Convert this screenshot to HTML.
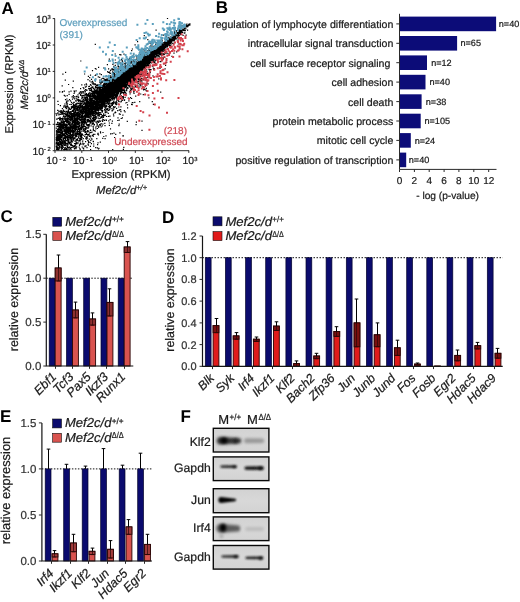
<!DOCTYPE html>
<html><head><meta charset="utf-8"><style>
html,body{margin:0;padding:0;background:#fff;width:520px;height:602px;overflow:hidden}
svg{display:block;font-family:"Liberation Sans",sans-serif;will-change:transform;text-rendering:geometricPrecision}
</style></head><body>
<svg width="520" height="602" viewBox="0 0 520 602">
<path d="M138.2 74.3h1.2M142.0 65.4h1.2M126.1 73.9h1.2M109.4 83.5h1.2M123.7 79.2h1.2M116.0 94.4h1.2M136.1 69.8h1.2M163.4 42.6h1.2M127.8 84.9h1.2M113.4 76.1h1.2M144.3 59.7h1.2M142.4 63.3h1.2M136.0 67.7h1.2M114.9 90.7h1.2M129.9 67.4h1.2M149.9 56.5h1.2M100.3 93.8h1.2M113.6 69.3h1.2M92.0 109.1h1.2M111.6 102.6h1.2M82.4 97.1h1.2M128.5 74.7h1.2M110.2 100.3h1.2M138.4 63.1h1.2M134.0 63.5h1.2M128.9 73.0h1.2M88.0 131.1h1.2M123.2 82.2h1.2M134.0 72.2h1.2M136.6 67.9h1.2M102.0 103.2h1.2M113.1 69.7h1.2M112.9 90.7h1.2M114.0 84.6h1.2M158.8 49.9h1.2M122.9 93.3h1.2M133.4 71.0h1.2M158.2 56.7h1.2M117.6 78.7h1.2M131.9 72.8h1.2M137.8 69.2h1.2M141.2 74.6h1.2M106.8 95.2h1.2M134.9 67.8h1.2M164.5 42.9h1.2M105.1 107.1h1.2M152.5 52.1h1.2M138.4 69.4h1.2M122.0 85.4h1.2M180.0 31.1h1.2M152.5 56.2h1.2M100.2 87.5h1.2M142.2 75.1h1.2M145.5 57.2h1.2M122.8 67.1h1.2M148.9 56.0h1.2M133.6 72.6h1.2M144.7 52.5h1.2M165.5 40.5h1.2M113.4 78.4h1.2M137.8 65.3h1.2M125.3 81.2h1.2M137.5 68.3h1.2M111.6 98.2h1.2M126.8 87.6h1.2M129.7 74.3h1.2M154.6 52.5h1.2M161.3 48.7h1.2M100.7 93.2h1.2M106.0 76.1h1.2M149.8 58.4h1.2M92.2 113.2h1.2M121.2 77.1h1.2M127.2 67.6h1.2M163.0 45.7h1.2M151.3 58.1h1.2M130.2 80.2h1.2M122.6 74.5h1.2M127.8 74.6h1.2M170.5 41.8h1.2M124.9 79.3h1.2M124.2 73.3h1.2M142.8 63.9h1.2M131.9 73.2h1.2M123.4 68.1h1.2M106.2 89.8h1.2M131.5 68.2h1.2M126.1 81.1h1.2M162.2 48.7h1.2M152.5 60.9h1.2M141.2 78.3h1.2M149.8 57.6h1.2M126.1 76.7h1.2M157.5 48.9h1.2M131.1 67.6h1.2M148.6 59.9h1.2M93.5 84.7h1.2M143.8 65.2h1.2M99.7 107.6h1.2M87.3 110.1h1.2M129.3 78.4h1.2M110.1 84.6h1.2M136.7 65.9h1.2M185.9 26.5h1.2M117.6 89.2h1.2M121.0 83.7h1.2M133.2 60.7h1.2M147.4 62.6h1.2M128.7 72.4h1.2M145.2 89.9h1.2M149.6 55.9h1.2M145.9 60.0h1.2M110.3 90.4h1.2M131.2 70.7h1.2M134.8 69.5h1.2M108.0 89.1h1.2M134.8 60.0h1.2M118.1 90.8h1.2M156.9 51.7h1.2M138.1 66.0h1.2M134.9 67.3h1.2M123.0 84.3h1.2M128.8 70.1h1.2M91.8 113.0h1.2M105.2 89.6h1.2M142.4 63.1h1.2M82.6 109.4h1.2M151.5 51.6h1.2M90.5 101.0h1.2M152.5 56.4h1.2M119.7 91.8h1.2M150.6 53.7h1.2M123.4 54.1h1.2M94.1 95.8h1.2M163.4 46.4h1.2M168.8 43.6h1.2M139.9 78.8h1.2M129.0 76.8h1.2M128.0 71.0h1.2M107.5 85.2h1.2M159.6 49.0h1.2M121.9 81.2h1.2M134.1 72.4h1.2M116.0 85.9h1.2M119.1 81.9h1.2M109.6 100.1h1.2M164.3 47.0h1.2M129.4 72.1h1.2M155.6 50.7h1.2M131.9 67.6h1.2M115.0 80.8h1.2M127.9 78.0h1.2M113.8 73.9h1.2M135.2 71.0h1.2M130.5 82.5h1.2M123.4 72.4h1.2M102.1 97.0h1.2M120.0 90.5h1.2M173.0 38.8h1.2M113.6 78.4h1.2M114.9 95.8h1.2M138.2 60.1h1.2M165.2 41.5h1.2M98.0 96.1h1.2M129.3 74.4h1.2M123.2 86.2h1.2M81.2 92.5h1.2M144.0 49.0h1.2M127.1 64.4h1.2M135.2 68.4h1.2M116.0 84.2h1.2M144.1 61.0h1.2M113.5 72.8h1.2M127.7 70.0h1.2M112.9 96.2h1.2M104.1 92.1h1.2M165.9 45.2h1.2M126.8 84.5h1.2M141.2 65.0h1.2M134.3 71.9h1.2M129.0 83.9h1.2M112.1 70.0h1.2M140.9 50.3h1.2M130.5 79.5h1.2M130.4 73.0h1.2M134.0 69.2h1.2M161.6 47.7h1.2M152.9 60.0h1.2M142.1 62.0h1.2M114.8 75.0h1.2M106.1 101.0h1.2M156.7 52.4h1.2M157.1 52.1h1.2M127.9 70.1h1.2M147.3 60.4h1.2M149.5 52.5h1.2M163.3 63.9h1.2M156.4 53.3h1.2M122.6 78.2h1.2M168.2 39.9h1.2M100.7 90.0h1.2M152.3 51.8h1.2M139.7 54.9h1.2M152.1 51.1h1.2M176.8 33.0h1.2M170.2 43.2h1.2M110.6 95.5h1.2M87.7 95.9h1.2M153.5 54.9h1.2M105.1 84.5h1.2M143.3 79.9h1.2M165.0 65.3h1.2M96.8 102.9h1.2M83.1 109.1h1.2M142.7 67.8h1.2M135.4 69.7h1.2M132.4 79.0h1.2M134.9 69.5h1.2M112.3 85.2h1.2M92.5 93.2h1.2M130.7 74.0h1.2M112.7 90.2h1.2M89.3 95.5h1.2M145.9 60.6h1.2M131.9 70.7h1.2M139.1 58.1h1.2M120.3 98.5h1.2M115.6 79.8h1.2M107.6 86.4h1.2M116.9 90.7h1.2M140.7 68.5h1.2M115.2 84.7h1.2M143.0 64.0h1.2M142.2 63.9h1.2M181.0 30.9h1.2M104.1 99.5h1.2M157.0 55.3h1.2M127.6 67.6h1.2M133.6 70.4h1.2M103.2 101.1h1.2M123.5 79.3h1.2M149.0 53.6h1.2M129.0 68.7h1.2M137.4 70.1h1.2M131.3 79.8h1.2M162.5 49.5h1.2M131.8 68.9h1.2M74.7 104.6h1.2M120.7 86.3h1.2M93.4 113.3h1.2M60.1 134.7h1.2M124.7 83.4h1.2M165.3 44.7h1.2M137.2 71.4h1.2M106.7 92.8h1.2M114.6 90.8h1.2M158.6 46.7h1.2M136.4 65.9h1.2M136.6 70.7h1.2M133.0 71.4h1.2M136.3 70.8h1.2M152.4 54.3h1.2M147.7 60.3h1.2M141.5 68.5h1.2M115.0 95.5h1.2M149.0 63.4h1.2M121.4 86.6h1.2M157.7 47.4h1.2M100.4 90.7h1.2M129.1 71.1h1.2M129.5 66.1h1.2M116.0 108.4h1.2M173.4 36.3h1.2M166.6 40.7h1.2M124.0 79.9h1.2M148.6 51.9h1.2M143.9 64.0h1.2M72.7 120.1h1.2M140.1 65.6h1.2M132.2 71.0h1.2M136.4 69.1h1.2M107.7 89.7h1.2M132.6 80.2h1.2M125.8 69.7h1.2M160.6 46.2h1.2M137.3 59.3h1.2M135.2 71.6h1.2M169.3 40.4h1.2M120.7 80.5h1.2M122.2 75.0h1.2M91.2 104.7h1.2M171.4 40.8h1.2M155.0 50.2h1.2M155.2 52.4h1.2M144.5 52.3h1.2M134.9 66.4h1.2M141.8 68.8h1.2M122.9 69.8h1.2M128.2 73.0h1.2M134.4 68.3h1.2M169.0 40.8h1.2M150.2 62.7h1.2M129.7 68.4h1.2M121.1 81.9h1.2M117.7 81.0h1.2M169.6 37.6h1.2M142.5 57.1h1.2M139.2 72.4h1.2M124.4 75.3h1.2M107.7 91.1h1.2M129.3 68.4h1.2M156.7 55.7h1.2M123.9 76.8h1.2M134.6 80.4h1.2M130.0 75.6h1.2M138.5 70.0h1.2M102.5 106.4h1.2M121.6 67.9h1.2M120.6 93.1h1.2M155.4 54.0h1.2M116.8 85.8h1.2M147.9 59.5h1.2M169.4 40.7h1.2M131.3 80.8h1.2M118.7 80.5h1.2M140.9 68.9h1.2M135.3 71.6h1.2M113.8 92.2h1.2M145.0 61.6h1.2M180.6 31.0h1.2M122.7 69.9h1.2M130.1 74.9h1.2M112.4 93.1h1.2M143.6 66.1h1.2M104.6 93.9h1.2M105.5 88.9h1.2M165.4 47.1h1.2M114.2 88.9h1.2M152.4 42.7h1.2M169.4 40.7h1.2M143.4 68.5h1.2M141.0 53.7h1.2M180.2 33.3h1.2M129.4 74.0h1.2M120.5 81.9h1.2M102.2 96.0h1.2M136.7 71.1h1.2M167.6 40.8h1.2M159.2 54.5h1.2M109.0 85.3h1.2M116.8 89.3h1.2M118.8 76.4h1.2M141.0 64.7h1.2M141.3 86.0h1.2M137.8 64.9h1.2M136.9 60.5h1.2M125.5 74.5h1.2M138.6 76.4h1.2M137.8 65.2h1.2M132.7 72.4h1.2M143.1 57.9h1.2M177.1 33.6h1.2M146.9 57.9h1.2M136.2 70.0h1.2M91.3 99.2h1.2M142.7 62.3h1.2M82.0 101.2h1.2M94.9 91.2h1.2M149.2 49.1h1.2M151.0 57.1h1.2M130.9 73.5h1.2M95.1 104.0h1.2M123.9 75.9h1.2M119.2 84.3h1.2M150.8 59.9h1.2M185.3 25.4h1.2M138.4 65.4h1.2M115.4 84.8h1.2M109.4 95.3h1.2M133.5 72.1h1.2M137.9 81.5h1.2M109.8 95.0h1.2M138.2 69.4h1.2M107.6 92.8h1.2M162.6 51.4h1.2M158.7 49.7h1.2M156.9 46.9h1.2M124.1 80.5h1.2M145.9 60.2h1.2M130.9 72.7h1.2M123.6 76.4h1.2M136.9 87.4h1.2M98.7 90.3h1.2M98.0 95.7h1.2M153.5 55.8h1.2M128.8 73.1h1.2M140.8 67.7h1.2M157.0 50.6h1.2M86.4 96.5h1.2M111.8 81.4h1.2M137.4 66.1h1.2M139.4 59.0h1.2M119.5 71.8h1.2M158.9 51.2h1.2M137.3 64.5h1.2M100.1 88.0h1.2M113.4 89.2h1.2M154.0 55.8h1.2M145.9 62.4h1.2M87.1 104.1h1.2M164.8 43.6h1.2M149.5 60.2h1.2M165.9 44.9h1.2M128.7 81.2h1.2M128.2 77.0h1.2M107.3 91.4h1.2M126.9 70.6h1.2M171.2 39.8h1.2M116.8 80.6h1.2M135.4 64.7h1.2M94.3 101.6h1.2M124.8 77.3h1.2M159.1 53.4h1.2M141.4 130.4h1.2M159.0 49.6h1.2M140.4 62.2h1.2M110.0 90.6h1.2M118.9 76.4h1.2M127.3 83.0h1.2M133.7 71.9h1.2M119.4 78.4h1.2M114.4 85.8h1.2M124.8 74.0h1.2M112.9 92.8h1.2M101.8 92.9h1.2M121.0 59.4h1.2M154.7 53.3h1.2M102.1 103.3h1.2M130.6 66.7h1.2M115.6 79.5h1.2M119.1 96.8h1.2M154.5 54.4h1.2M121.4 79.6h1.2M169.5 41.9h1.2M114.3 83.7h1.2M140.4 60.2h1.2M128.5 74.3h1.2M113.8 82.1h1.2M149.4 60.5h1.2M124.3 67.2h1.2M149.4 59.9h1.2M134.6 72.8h1.2M107.3 89.7h1.2M130.4 71.0h1.2M133.0 67.0h1.2M156.0 51.4h1.2M113.9 88.6h1.2M131.3 69.2h1.2M96.8 106.2h1.2M151.6 60.0h1.2M104.1 86.4h1.2M93.8 106.8h1.2M130.3 69.0h1.2M159.4 48.5h1.2M97.6 98.7h1.2M115.7 98.1h1.2M118.3 86.1h1.2M104.5 88.8h1.2M143.2 63.3h1.2M113.0 83.5h1.2M116.3 83.2h1.2M147.6 58.9h1.2M125.7 93.9h1.2M146.5 64.2h1.2M113.1 90.6h1.2M105.6 93.4h1.2M93.3 107.6h1.2M178.7 35.6h1.2M128.4 78.2h1.2M136.7 62.5h1.2M128.4 66.0h1.2M129.1 58.6h1.2M135.5 69.5h1.2M177.7 32.6h1.2M108.9 89.3h1.2M103.4 105.8h1.2M108.8 88.0h1.2M104.5 97.5h1.2M154.6 58.9h1.2M153.0 54.2h1.2M113.0 90.1h1.2M100.2 95.5h1.2M119.7 71.1h1.2M167.2 44.1h1.2M77.9 134.0h1.2M148.7 62.4h1.2M100.6 82.7h1.2M159.2 51.1h1.2M110.8 92.8h1.2M129.6 77.9h1.2M97.9 98.2h1.2M111.1 88.9h1.2M165.1 42.3h1.2M151.7 53.0h1.2M122.2 75.5h1.2M117.6 90.8h1.2M85.7 102.5h1.2M126.1 79.1h1.2M133.1 70.6h1.2M127.3 67.1h1.2M133.8 74.0h1.2M112.8 96.6h1.2M137.8 76.8h1.2M131.8 69.6h1.2M164.4 45.6h1.2M177.7 34.4h1.2M131.0 73.0h1.2M117.9 86.7h1.2M133.8 72.7h1.2M118.2 80.3h1.2M121.7 89.5h1.2M128.9 67.7h1.2M107.2 87.8h1.2M149.5 59.8h1.2M132.2 72.8h1.2M138.5 64.0h1.2M126.3 70.3h1.2M121.8 88.9h1.2M111.3 87.8h1.2M129.0 75.3h1.2M119.6 79.2h1.2M140.3 66.5h1.2M133.3 69.7h1.2M103.3 97.5h1.2M137.0 70.3h1.2M105.2 98.5h1.2M116.9 79.3h1.2M126.5 75.2h1.2M89.9 114.3h1.2M136.3 68.6h1.2M137.7 67.4h1.2M145.7 88.4h1.2M130.0 84.2h1.2M122.5 74.6h1.2M111.5 89.3h1.2M126.1 73.8h1.2M123.3 82.9h1.2M135.9 68.2h1.2M103.8 91.3h1.2M135.7 61.9h1.2M136.5 66.6h1.2M130.2 72.4h1.2M121.2 76.1h1.2M147.9 60.6h1.2M84.5 91.6h1.2M145.4 61.9h1.2M136.9 62.7h1.2M144.0 68.1h1.2M141.7 61.6h1.2M120.7 84.7h1.2M130.0 77.2h1.2M159.4 68.3h1.2M143.7 61.5h1.2M134.8 62.3h1.2M100.0 100.6h1.2M145.8 59.1h1.2M161.3 47.7h1.2M157.8 51.0h1.2M137.7 63.9h1.2M100.2 102.7h1.2M150.1 46.2h1.2M132.0 74.4h1.2M80.6 124.5h1.2M146.1 66.2h1.2M109.4 109.0h1.2M89.2 80.8h1.2M118.8 82.0h1.2M167.5 49.4h1.2M125.4 77.4h1.2M140.4 65.0h1.2M174.4 36.2h1.2M170.6 38.9h1.2M130.2 70.8h1.2M129.8 76.2h1.2M109.9 99.7h1.2M120.5 86.2h1.2M141.5 59.6h1.2M140.3 59.6h1.2M138.4 69.8h1.2M158.1 51.9h1.2M115.5 84.6h1.2M130.7 69.3h1.2M152.9 57.9h1.2M146.7 58.0h1.2M155.8 46.4h1.2M150.4 69.6h1.2M126.8 76.2h1.2M143.0 63.8h1.2M111.1 90.0h1.2M104.2 110.0h1.2M149.0 60.5h1.2M133.6 72.1h1.2M142.1 65.2h1.2M96.7 105.2h1.2M124.7 76.4h1.2M115.7 77.4h1.2M124.5 97.3h1.2M90.5 122.5h1.2M130.3 80.7h1.2M156.6 54.6h1.2M143.8 63.7h1.2M113.8 75.6h1.2M134.7 71.5h1.2M151.0 55.0h1.2M73.9 127.5h1.2M129.0 70.5h1.2M143.9 57.0h1.2M150.4 57.5h1.2M170.7 34.6h1.2M159.7 47.6h1.2M141.6 64.4h1.2M142.2 65.5h1.2M149.1 51.8h1.2M123.6 82.7h1.2M132.4 70.3h1.2M151.3 49.0h1.2M179.3 32.2h1.2M129.9 72.9h1.2M135.4 73.6h1.2M141.6 69.3h1.2M165.9 44.9h1.2M138.4 75.8h1.2M167.9 41.5h1.2M108.0 85.3h1.2M128.3 72.4h1.2M130.9 75.5h1.2M154.8 57.5h1.2M158.7 50.3h1.2M102.6 102.9h1.2M108.1 83.3h1.2M142.9 64.7h1.2M118.2 82.4h1.2M100.3 101.3h1.2M159.3 51.2h1.2M146.6 61.8h1.2M145.9 61.1h1.2M113.6 70.1h1.2M158.7 51.1h1.2M123.7 70.1h1.2M157.2 46.7h1.2M112.4 87.4h1.2M113.3 85.9h1.2M135.0 62.5h1.2M123.2 89.2h1.2M151.3 58.7h1.2M139.6 64.7h1.2M109.1 84.6h1.2M140.1 73.1h1.2M130.2 81.3h1.2M155.5 52.7h1.2M120.5 83.6h1.2M130.2 85.0h1.2M162.2 46.8h1.2M185.7 26.6h1.2M180.7 31.8h1.2M138.0 71.5h1.2M139.2 66.1h1.2M166.0 37.0h1.2M137.9 79.3h1.2M110.8 88.5h1.2M136.5 67.7h1.2M147.4 64.3h1.2M118.7 90.1h1.2M98.0 104.2h1.2M100.2 97.5h1.2M148.0 55.9h1.2M134.2 102.4h1.2M132.8 74.9h1.2M142.4 69.5h1.2M149.5 59.3h1.2M114.7 65.3h1.2M147.9 62.8h1.2M117.5 91.5h1.2M129.9 81.4h1.2M115.4 95.1h1.2M159.9 47.9h1.2M132.2 69.5h1.2M109.7 77.4h1.2M126.8 78.0h1.2M126.3 71.9h1.2M145.9 52.3h1.2M98.2 102.3h1.2M107.6 88.0h1.2M119.8 72.1h1.2M156.1 51.6h1.2M131.9 72.9h1.2M146.3 52.2h1.2M184.3 32.8h1.2M128.7 74.8h1.2M123.1 74.9h1.2M163.0 47.6h1.2M145.0 60.2h1.2M148.4 56.0h1.2M123.0 80.8h1.2M176.2 30.5h1.2M172.3 35.7h1.2M151.0 63.0h1.2M149.4 56.4h1.2M84.2 106.7h1.2M150.3 59.3h1.2M126.9 71.4h1.2M144.1 61.8h1.2M148.5 55.7h1.2M125.2 75.9h1.2M87.9 96.1h1.2M142.4 62.9h1.2M117.1 84.8h1.2M126.6 76.8h1.2M116.1 78.1h1.2M122.1 72.8h1.2M81.5 115.9h1.2M161.5 45.9h1.2M139.6 65.0h1.2M160.9 49.7h1.2M178.4 30.3h1.2M119.2 54.6h1.2M88.3 101.2h1.2M111.3 85.5h1.2M109.9 97.4h1.2M122.1 79.6h1.2M132.4 65.2h1.2M80.3 101.7h1.2M133.1 54.9h1.2M91.2 91.8h1.2M152.4 75.8h1.2M134.9 75.7h1.2M126.7 76.3h1.2M131.5 70.8h1.2M123.4 82.6h1.2M122.0 84.2h1.2M88.5 96.4h1.2M134.8 72.2h1.2M177.8 35.4h1.2M177.1 29.0h1.2M173.4 53.2h1.2M153.6 59.7h1.2M117.3 82.3h1.2M166.4 41.1h1.2M138.6 77.1h1.2M132.0 71.1h1.2M127.1 75.7h1.2M135.5 67.8h1.2M122.5 77.2h1.2M128.9 68.7h1.2M109.1 91.4h1.2M121.2 73.4h1.2M129.2 68.3h1.2M129.0 75.3h1.2M152.5 65.9h1.2M152.8 58.8h1.2M110.2 93.7h1.2M128.6 73.6h1.2M153.9 51.0h1.2M142.4 67.0h1.2M136.9 67.9h1.2M168.7 38.8h1.2M115.8 80.9h1.2M140.2 72.8h1.2M122.6 80.9h1.2M169.7 42.4h1.2M77.3 96.8h1.2M117.8 82.5h1.2M118.4 77.2h1.2M147.6 55.5h1.2M149.0 59.4h1.2M165.4 42.2h1.2M95.9 99.1h1.2M151.2 55.4h1.2M126.0 74.6h1.2M113.1 77.7h1.2M145.7 58.9h1.2M111.4 86.8h1.2M123.2 147.3h1.2M124.8 76.7h1.2M101.2 101.1h1.2M109.3 73.2h1.2M144.8 65.1h1.2M141.9 64.8h1.2M170.6 39.2h1.2M132.0 76.6h1.2M100.4 101.8h1.2M113.3 81.7h1.2M112.1 87.4h1.2M107.6 95.6h1.2M142.2 59.9h1.2M122.7 86.3h1.2M89.2 109.5h1.2M150.8 57.3h1.2M131.2 72.1h1.2M140.0 61.0h1.2M138.6 70.3h1.2M147.5 56.8h1.2M136.2 70.7h1.2M161.6 45.2h1.2M143.9 62.0h1.2M143.0 62.5h1.2M146.5 65.2h1.2M109.6 107.6h1.2M128.0 71.2h1.2M125.9 73.2h1.2M141.4 68.7h1.2M98.8 92.8h1.2M170.2 36.9h1.2M141.9 73.5h1.2M105.6 93.4h1.2M84.9 94.0h1.2M125.7 73.8h1.2M135.2 75.1h1.2M124.1 90.8h1.2M138.1 70.4h1.2M116.4 79.9h1.2M145.2 58.0h1.2M118.9 85.9h1.2M130.6 68.5h1.2M158.9 53.4h1.2M116.9 95.9h1.2M128.1 84.0h1.2M114.1 86.0h1.2M152.2 55.0h1.2M108.6 93.7h1.2M116.8 73.7h1.2M134.9 72.3h1.2M111.5 89.3h1.2M114.8 91.7h1.2M119.9 76.3h1.2M87.4 113.0h1.2M96.1 93.9h1.2M127.5 81.2h1.2M139.3 69.1h1.2M125.7 69.8h1.2M103.7 115.3h1.2M118.4 74.3h1.2M152.9 55.1h1.2M146.4 59.0h1.2M140.1 79.5h1.2M113.5 87.5h1.2M149.2 58.5h1.2M116.7 77.6h1.2M115.7 101.6h1.2M111.8 82.2h1.2M155.5 30.2h1.2M139.4 66.2h1.2M160.7 47.6h1.2M126.6 83.1h1.2M162.8 58.9h1.2M116.2 78.1h1.2M128.5 71.4h1.2M150.6 54.1h1.2M117.2 74.7h1.2M133.7 73.5h1.2M142.9 65.1h1.2M160.5 45.2h1.2M119.0 76.0h1.2M97.3 107.6h1.2M123.7 71.8h1.2M136.2 71.7h1.2M137.1 68.6h1.2M166.9 47.0h1.2M140.6 63.3h1.2M152.3 53.9h1.2M109.9 92.9h1.2M153.7 53.0h1.2M183.7 30.6h1.2M148.6 51.9h1.2M139.8 65.2h1.2M135.3 65.0h1.2M175.5 35.6h1.2M117.7 93.3h1.2M139.5 80.3h1.2M153.0 69.5h1.2M150.3 54.8h1.2M124.6 79.4h1.2M139.0 62.2h1.2M128.1 76.1h1.2M137.4 68.4h1.2M122.2 64.1h1.2M107.5 92.2h1.2M133.6 70.7h1.2M153.8 52.6h1.2M113.4 90.7h1.2M129.4 75.8h1.2M149.3 57.1h1.2M112.2 93.9h1.2M136.6 65.1h1.2M109.8 91.1h1.2M164.7 52.6h1.2M187.9 25.6h1.2M180.5 30.6h1.2M126.7 72.2h1.2M152.1 56.7h1.2M137.8 68.8h1.2M134.2 66.1h1.2M170.1 40.4h1.2M104.0 96.3h1.2M157.5 48.8h1.2M129.9 68.2h1.2M167.6 43.8h1.2M138.7 66.9h1.2M112.1 77.0h1.2M145.7 70.0h1.2M152.0 56.8h1.2M135.1 69.8h1.2M145.4 60.8h1.2M115.8 74.3h1.2M71.9 99.1h1.2M154.7 52.6h1.2M150.6 57.0h1.2M140.0 69.9h1.2M139.0 72.2h1.2M158.4 50.4h1.2M119.7 75.3h1.2M120.2 86.4h1.2M129.3 73.5h1.2M162.2 47.7h1.2M110.4 105.5h1.2M160.7 46.2h1.2M116.3 79.7h1.2M107.4 90.4h1.2M161.8 44.4h1.2M130.7 71.0h1.2M104.7 96.3h1.2M127.9 79.3h1.2M156.9 53.5h1.2M163.0 48.5h1.2M125.2 79.5h1.2M144.0 62.8h1.2M148.7 54.5h1.2M120.4 84.0h1.2M140.7 61.8h1.2M138.9 76.4h1.2M133.1 91.9h1.2M116.7 73.9h1.2M135.6 68.9h1.2M133.1 68.0h1.2M116.2 76.5h1.2M121.0 75.3h1.2M158.9 47.7h1.2M140.5 67.6h1.2M153.9 52.4h1.2M171.4 56.3h1.2M146.9 58.0h1.2M187.1 26.6h1.2M114.7 86.0h1.2M149.9 51.7h1.2M123.5 73.3h1.2M177.7 34.9h1.2M172.8 36.6h1.2M90.0 109.4h1.2M111.6 89.0h1.2M149.6 57.5h1.2M151.4 54.0h1.2M150.9 55.7h1.2M129.1 68.4h1.2M146.6 63.4h1.2M151.7 60.1h1.2M135.9 75.3h1.2M157.4 49.9h1.2M87.0 119.3h1.2M147.8 57.0h1.2M141.4 121.2h1.2M154.5 49.9h1.2M125.5 71.5h1.2M108.5 82.6h1.2M141.4 61.6h1.2M113.8 88.8h1.2M106.0 81.2h1.2M98.3 101.2h1.2M134.4 71.7h1.2M146.3 61.3h1.2M157.6 50.2h1.2M130.9 73.1h1.2M158.5 50.1h1.2M134.2 69.7h1.2M131.9 72.0h1.2M144.6 56.4h1.2M155.6 46.7h1.2M130.5 81.1h1.2M127.1 73.7h1.2M121.9 65.0h1.2M133.9 66.6h1.2M110.5 85.0h1.2M154.7 47.1h1.2M123.9 77.1h1.2M145.4 61.8h1.2M111.3 82.7h1.2M158.2 78.9h1.2M142.6 62.1h1.2M133.2 87.1h1.2M179.4 29.6h1.2M144.0 64.4h1.2M174.9 35.4h1.2M158.1 53.4h1.2M116.4 80.8h1.2M123.6 76.1h1.2M147.5 65.1h1.2M137.7 71.3h1.2M137.1 71.2h1.2M123.3 71.8h1.2M84.1 97.3h1.2M131.2 76.9h1.2M76.6 107.3h1.2M141.2 61.6h1.2M111.8 78.9h1.2M120.2 86.8h1.2M128.6 74.1h1.2M138.8 63.3h1.2M98.1 95.3h1.2M106.0 116.5h1.2M115.3 96.7h1.2M88.6 111.6h1.2M114.4 91.7h1.2M170.4 38.8h1.2M127.0 107.9h1.2M149.3 57.8h1.2M105.7 100.2h1.2M142.4 65.8h1.2M128.6 78.3h1.2M129.5 68.3h1.2M147.6 59.6h1.2M174.6 36.1h1.2M136.4 64.3h1.2M136.3 67.2h1.2M110.8 88.4h1.2M146.2 57.5h1.2M127.8 74.5h1.2M153.3 54.1h1.2M134.9 72.9h1.2M174.3 36.3h1.2M85.9 106.5h1.2M129.9 78.7h1.2M154.7 53.4h1.2M130.7 81.7h1.2M113.4 83.4h1.2M128.1 75.6h1.2M101.2 96.1h1.2M140.5 71.6h1.2M159.8 47.3h1.2M106.7 90.1h1.2M116.6 89.9h1.2M120.5 73.9h1.2M156.0 49.4h1.2M113.7 84.9h1.2M118.2 83.7h1.2M152.9 51.4h1.2M153.8 53.2h1.2M128.1 80.2h1.2M101.7 85.5h1.2M97.0 99.2h1.2M117.8 83.7h1.2M84.4 115.5h1.2M152.5 56.7h1.2M120.1 83.1h1.2M144.6 60.3h1.2M178.0 34.7h1.2M162.3 48.6h1.2M113.7 98.8h1.2M153.9 53.0h1.2M160.0 46.9h1.2M116.6 84.6h1.2M103.4 80.3h1.2M129.5 70.4h1.2M93.4 97.8h1.2M167.4 40.9h1.2M83.6 122.1h1.2M116.6 99.8h1.2M128.9 76.6h1.2M127.5 73.4h1.2M143.0 72.1h1.2M140.5 65.1h1.2M145.8 90.9h1.2M161.2 48.9h1.2M85.6 112.8h1.2M134.1 70.3h1.2M116.2 82.8h1.2M139.9 70.4h1.2M138.0 64.8h1.2M106.8 81.9h1.2M114.3 77.8h1.2M150.9 53.4h1.2M143.7 65.0h1.2M117.1 82.3h1.2M183.7 33.1h1.2M186.3 24.2h1.2M103.9 102.3h1.2M142.1 65.4h1.2M148.9 51.8h1.2M138.9 65.6h1.2M139.2 84.1h1.2M119.2 78.5h1.2M128.0 73.3h1.2M116.2 75.9h1.2M164.5 68.8h1.2M125.3 78.5h1.2M126.8 81.7h1.2M110.7 98.0h1.2M131.7 70.0h1.2M114.2 88.4h1.2M134.2 78.0h1.2M143.7 35.7h1.2M144.3 64.9h1.2M145.7 60.4h1.2M140.9 62.0h1.2M129.0 62.7h1.2M134.6 76.2h1.2M124.4 73.7h1.2M151.3 55.2h1.2M117.5 99.7h1.2M164.9 44.0h1.2M132.0 66.7h1.2M114.7 82.7h1.2M122.0 79.0h1.2M117.9 82.9h1.2M138.2 67.6h1.2M117.8 84.5h1.2M158.2 45.8h1.2M116.6 86.0h1.2M84.7 117.6h1.2M118.5 85.7h1.2M84.5 106.2h1.2M137.0 74.8h1.2M157.9 49.0h1.2M148.7 57.3h1.2M94.7 87.9h1.2M117.8 86.4h1.2M175.1 35.5h1.2M142.4 65.0h1.2M133.3 69.3h1.2M158.6 49.9h1.2M164.8 45.8h1.2M146.9 77.0h1.2M144.9 66.0h1.2M148.0 57.9h1.2M126.2 88.4h1.2M110.7 91.9h1.2M136.5 70.4h1.2M104.6 81.2h1.2M130.2 69.0h1.2M138.0 70.0h1.2M188.4 24.9h1.2M110.6 83.0h1.2M131.2 72.5h1.2M119.9 63.2h1.2M144.0 61.5h1.2M158.5 50.2h1.2M116.7 73.8h1.2M120.8 91.8h1.2M96.0 102.0h1.2M115.8 91.3h1.2M148.6 61.9h1.2M138.1 72.3h1.2M115.4 94.7h1.2M126.5 78.5h1.2M135.9 70.7h1.2M146.6 61.3h1.2M120.9 82.4h1.2M129.2 76.0h1.2M95.3 108.9h1.2M106.4 91.6h1.2M170.6 38.0h1.2M85.9 115.2h1.2M126.4 76.9h1.2M137.4 64.3h1.2M127.2 79.3h1.2M132.3 102.7h1.2M134.2 72.9h1.2M124.7 61.2h1.2M136.5 76.1h1.2M90.9 107.0h1.2M128.3 70.8h1.2M110.3 82.9h1.2M120.1 79.6h1.2M146.9 73.3h1.2M147.8 56.7h1.2M157.4 55.4h1.2M122.3 79.6h1.2M153.1 50.0h1.2M163.7 49.9h1.2M162.0 49.8h1.2M165.9 43.0h1.2M130.8 73.2h1.2M135.4 78.9h1.2M151.5 52.5h1.2M105.6 99.9h1.2M133.7 61.0h1.2M116.3 75.1h1.2M128.5 80.3h1.2M95.9 106.2h1.2M115.0 89.1h1.2M129.2 66.3h1.2M155.5 53.8h1.2M159.5 53.5h1.2M132.1 71.7h1.2M127.8 72.1h1.2M109.6 81.2h1.2M143.3 62.3h1.2M131.1 77.8h1.2M146.0 56.4h1.2M174.0 35.6h1.2M132.3 69.9h1.2M101.2 101.1h1.2M116.2 89.0h1.2M104.0 102.2h1.2M99.8 87.0h1.2M163.3 44.0h1.2M138.6 65.1h1.2M105.2 106.0h1.2M145.7 54.1h1.2M162.9 45.5h1.2M128.5 80.0h1.2M117.4 82.4h1.2M126.1 76.7h1.2M138.8 62.9h1.2M155.4 64.2h1.2M161.6 47.5h1.2M160.5 45.1h1.2M162.7 48.4h1.2M164.7 42.9h1.2M147.5 55.5h1.2M92.4 93.8h1.2M131.9 73.6h1.2M138.9 61.7h1.2M116.6 69.2h1.2M155.3 52.7h1.2M125.4 77.0h1.2M105.9 81.6h1.2M164.9 39.7h1.2M149.3 57.1h1.2M140.3 67.1h1.2M153.4 50.2h1.2M159.0 49.9h1.2M141.6 63.2h1.2M77.7 118.4h1.2M118.3 83.2h1.2M125.1 80.7h1.2M107.4 85.5h1.2M138.6 66.3h1.2M163.1 48.5h1.2M124.7 81.5h1.2M113.8 98.2h1.2M180.1 29.9h1.2M129.4 84.7h1.2M106.7 95.4h1.2M139.6 65.6h1.2M142.5 60.6h1.2M112.3 78.6h1.2M153.7 56.2h1.2M115.5 72.5h1.2M116.2 91.6h1.2M138.5 67.1h1.2M152.2 55.6h1.2M116.7 79.9h1.2M140.6 62.8h1.2M127.0 67.2h1.2M113.3 79.7h1.2M168.5 45.7h1.2M133.2 71.6h1.2M132.2 73.8h1.2M147.6 53.1h1.2M155.6 53.7h1.2M165.3 47.5h1.2M142.0 64.2h1.2M118.8 80.6h1.2M117.4 76.5h1.2M144.3 58.8h1.2M147.0 58.4h1.2M166.9 43.5h1.2M147.4 65.7h1.2M156.9 47.9h1.2M171.4 43.0h1.2M137.5 66.7h1.2M91.1 90.6h1.2M110.3 96.6h1.2M88.8 86.4h1.2M172.0 40.4h1.2M113.2 85.5h1.2M162.4 46.2h1.2M149.7 60.9h1.2M175.1 38.2h1.2M158.1 51.6h1.2M122.1 62.8h1.2M130.7 75.4h1.2M140.4 72.9h1.2M134.7 63.4h1.2M117.5 76.3h1.2M133.4 71.0h1.2M171.9 39.6h1.2M89.1 97.8h1.2M142.3 67.5h1.2M121.9 96.5h1.2M138.8 67.0h1.2M152.8 53.2h1.2M125.0 63.7h1.2M152.4 55.7h1.2M92.2 96.1h1.2M160.8 49.8h1.2M122.2 84.0h1.2M150.6 60.3h1.2M133.2 61.7h1.2M69.1 115.4h1.2M115.7 84.1h1.2M137.8 64.6h1.2M170.4 40.4h1.2M143.1 67.1h1.2M141.9 67.1h1.2M103.3 99.6h1.2M166.5 41.7h1.2M175.4 34.7h1.2M136.1 71.0h1.2M130.7 76.2h1.2M100.3 105.4h1.2M153.9 52.5h1.2M148.5 54.2h1.2M162.6 45.0h1.2M144.1 57.3h1.2M109.3 87.4h1.2M164.6 43.9h1.2M104.0 92.7h1.2M127.6 72.8h1.2M140.5 64.8h1.2M156.2 54.8h1.2M141.6 60.0h1.2M142.7 62.4h1.2M114.8 83.4h1.2M104.9 96.0h1.2M136.9 70.4h1.2M115.9 82.4h1.2M102.5 94.4h1.2M92.5 82.7h1.2M120.0 77.1h1.2M82.3 97.5h1.2M99.7 93.3h1.2M90.9 96.7h1.2M136.9 65.4h1.2M143.9 62.7h1.2M180.2 30.9h1.2M102.2 102.1h1.2M122.1 87.2h1.2M152.0 49.4h1.2M126.4 71.8h1.2M126.4 76.5h1.2M175.7 39.0h1.2M126.8 77.3h1.2M105.0 90.4h1.2M103.9 96.1h1.2M148.9 70.7h1.2M140.8 64.0h1.2M89.9 84.7h1.2M111.5 89.6h1.2M144.0 57.5h1.2M148.4 60.0h1.2M120.9 84.5h1.2M145.3 55.0h1.2M148.5 60.4h1.2M88.7 100.9h1.2M124.8 74.3h1.2M141.9 60.4h1.2M119.0 79.6h1.2M87.5 114.7h1.2M127.8 76.1h1.2M153.0 57.1h1.2M170.0 38.9h1.2M86.4 115.8h1.2M111.4 95.5h1.2M158.0 53.4h1.2M162.0 45.6h1.2M155.2 49.6h1.2M137.5 67.4h1.2M105.1 90.7h1.2M147.7 57.3h1.2M114.6 81.2h1.2M74.4 118.0h1.2M143.3 49.4h1.2M174.0 32.8h1.2M109.7 84.7h1.2M169.2 42.9h1.2M172.3 40.8h1.2M170.2 40.2h1.2M135.6 72.7h1.2M108.4 95.7h1.2M129.5 73.3h1.2M76.2 106.2h1.2M100.0 108.5h1.2M160.1 92.1h1.2M113.1 91.5h1.2M129.7 72.9h1.2M130.5 71.3h1.2M179.3 33.3h1.2M164.0 45.0h1.2M135.0 73.1h1.2M163.6 48.3h1.2M118.3 87.7h1.2M131.2 81.6h1.2M153.9 51.4h1.2M108.0 97.0h1.2M126.6 74.6h1.2M99.0 91.5h1.2M133.9 65.1h1.2M172.6 39.3h1.2M120.2 88.3h1.2M140.0 66.6h1.2M111.6 86.0h1.2M107.4 92.5h1.2M104.7 93.5h1.2M166.2 40.5h1.2M142.5 58.2h1.2M117.2 83.9h1.2M148.8 54.9h1.2M127.7 78.1h1.2M151.0 53.1h1.2M144.7 68.4h1.2M141.1 65.4h1.2M146.2 56.5h1.2M121.1 81.9h1.2M129.6 83.0h1.2M93.6 103.1h1.2M123.0 78.0h1.2M94.9 91.7h1.2M131.5 73.8h1.2M109.2 86.2h1.2M138.0 69.9h1.2M142.2 59.1h1.2M105.3 101.9h1.2M121.9 92.6h1.2M107.8 84.2h1.2M137.0 41.6h1.2M174.3 37.8h1.2M154.5 54.4h1.2M121.5 72.6h1.2M167.4 41.2h1.2M89.7 90.5h1.2M169.5 41.9h1.2M118.6 82.7h1.2M72.8 127.3h1.2M171.3 40.3h1.2M106.0 86.2h1.2M137.8 66.7h1.2M127.1 72.5h1.2M130.8 62.7h1.2M111.5 110.7h1.2M118.1 83.3h1.2M147.4 63.6h1.2M138.9 65.6h1.2M163.0 48.1h1.2M145.0 77.7h1.2M188.1 24.3h1.2M117.9 84.6h1.2M137.1 62.3h1.2M82.4 100.3h1.2M101.3 90.9h1.2M164.5 44.1h1.2M114.8 91.1h1.2M145.5 59.1h1.2M130.6 69.5h1.2M112.0 92.6h1.2M122.0 73.1h1.2M123.3 81.3h1.2M120.2 77.2h1.2M147.4 51.6h1.2M147.8 56.2h1.2M120.6 81.3h1.2M118.1 92.8h1.2M141.7 65.8h1.2M129.3 69.8h1.2M156.6 49.1h1.2M151.6 51.9h1.2M132.5 70.2h1.2M131.4 74.9h1.2M118.0 90.6h1.2M111.5 86.3h1.2M107.0 86.0h1.2M113.2 66.4h1.2M124.4 78.8h1.2M150.0 54.5h1.2M123.8 77.0h1.2M128.4 73.0h1.2M106.6 94.6h1.2M172.3 38.4h1.2M145.1 59.7h1.2M177.3 37.3h1.2M153.8 56.1h1.2M168.9 41.6h1.2M123.6 70.4h1.2M150.5 56.2h1.2M101.2 89.6h1.2M159.4 45.5h1.2M173.1 37.0h1.2M144.0 62.3h1.2M150.3 53.9h1.2M165.0 46.7h1.2M114.2 78.9h1.2M137.0 55.5h1.2M115.3 89.2h1.2M119.9 85.5h1.2M119.2 82.2h1.2M126.4 68.9h1.2M140.9 70.6h1.2M143.2 59.7h1.2M101.1 99.1h1.2M181.3 31.2h1.2M162.6 48.4h1.2M153.8 58.3h1.2M125.2 76.9h1.2M130.6 70.7h1.2M149.5 61.8h1.2M143.1 61.4h1.2M92.5 101.9h1.2M147.0 50.9h1.2M81.2 98.1h1.2M160.3 53.0h1.2M141.5 61.6h1.2M129.7 70.8h1.2M166.5 42.8h1.2M105.7 93.6h1.2M141.8 70.8h1.2M167.6 39.8h1.2M140.1 84.7h1.2M123.4 77.9h1.2M136.5 67.7h1.2M119.4 75.1h1.2M171.5 40.0h1.2M113.7 89.5h1.2M156.0 53.9h1.2M103.3 94.2h1.2M147.6 54.5h1.2M130.5 71.3h1.2M92.8 141.7h1.2M138.4 74.8h1.2M107.2 90.1h1.2M123.0 78.6h1.2M169.6 38.5h1.2M103.4 88.5h1.2M111.8 94.3h1.2M169.7 42.8h1.2M133.5 64.7h1.2M169.5 38.2h1.2M140.8 62.8h1.2M115.5 90.2h1.2M135.3 74.4h1.2M160.2 42.6h1.2M158.9 53.8h1.2M134.1 70.3h1.2M134.6 68.6h1.2M130.3 71.4h1.2M118.2 79.7h1.2M178.8 30.4h1.2M132.8 68.7h1.2M106.6 92.3h1.2M124.4 81.4h1.2M151.2 55.6h1.2M150.2 58.2h1.2M132.7 74.9h1.2M116.0 81.4h1.2M132.0 67.1h1.2M101.3 110.7h1.2M106.0 99.1h1.2M152.2 53.5h1.2M124.6 81.7h1.2M144.0 63.8h1.2M161.3 44.2h1.2M150.3 58.0h1.2M139.4 74.6h1.2M183.0 26.1h1.2M151.0 58.0h1.2M122.8 74.5h1.2M147.0 51.2h1.2M140.6 59.0h1.2M111.6 85.3h1.2M134.1 67.1h1.2M132.1 75.5h1.2M88.2 110.4h1.2M129.3 73.0h1.2M125.2 73.8h1.2M126.2 81.5h1.2M90.5 98.7h1.2M124.5 76.3h1.2M127.0 65.0h1.2M141.3 73.0h1.2M94.8 80.9h1.2M152.3 60.7h1.2M104.5 93.9h1.2M129.1 75.0h1.2M166.5 45.5h1.2M112.6 79.2h1.2M124.2 82.6h1.2M160.1 49.3h1.2M124.0 77.0h1.2M127.0 76.1h1.2M138.1 64.6h1.2M163.3 53.6h1.2M78.5 111.1h1.2M112.8 85.3h1.2M111.6 91.8h1.2M111.5 95.1h1.2M114.1 87.7h1.2M118.0 90.8h1.2M142.5 65.5h1.2M114.1 89.1h1.2M136.5 67.4h1.2M140.2 58.9h1.2M118.4 86.4h1.2M139.8 70.3h1.2M174.4 39.2h1.2M142.5 64.6h1.2M119.5 83.4h1.2M132.8 71.8h1.2M102.2 78.4h1.2M141.4 65.8h1.2M154.7 53.3h1.2M115.5 87.4h1.2M130.4 75.7h1.2M154.8 42.7h1.2M125.3 83.1h1.2M137.1 65.1h1.2M94.6 75.5h1.2M114.5 86.3h1.2M126.1 84.5h1.2M185.3 28.8h1.2M121.3 74.9h1.2M123.0 81.7h1.2M120.7 80.9h1.2M123.7 67.0h1.2M152.6 60.8h1.2M135.4 63.6h1.2M181.0 29.6h1.2M139.9 66.9h1.2M168.4 43.0h1.2M140.9 65.3h1.2M145.9 56.3h1.2M96.9 94.5h1.2M130.7 72.3h1.2M136.3 75.3h1.2M128.5 75.0h1.2M81.3 109.1h1.2M154.7 53.3h1.2M125.9 78.5h1.2M124.1 78.9h1.2M127.4 74.5h1.2M134.2 80.0h1.2M141.4 60.3h1.2M107.9 98.2h1.2M113.8 89.6h1.2M135.6 59.4h1.2M137.5 67.5h1.2M123.3 75.5h1.2M119.2 79.8h1.2M107.4 79.2h1.2M130.1 68.8h1.2M160.9 46.8h1.2M103.9 85.2h1.2M169.4 40.7h1.2M151.2 51.4h1.2M118.5 74.0h1.2M151.2 54.1h1.2M99.0 97.6h1.2M92.9 102.8h1.2M108.6 99.6h1.2M122.7 76.3h1.2M122.6 72.7h1.2M119.0 77.2h1.2M135.9 67.8h1.2M81.6 108.7h1.2M153.6 68.6h1.2M98.6 95.3h1.2M115.7 80.0h1.2M124.4 78.1h1.2M105.8 91.2h1.2M100.8 95.3h1.2M119.8 98.7h1.2M132.7 69.4h1.2M144.3 55.4h1.2M148.1 60.2h1.2M112.6 91.1h1.2M117.1 86.9h1.2M112.9 88.3h1.2M145.5 62.5h1.2M164.4 47.8h1.2M118.3 75.2h1.2M112.8 82.4h1.2M141.0 62.7h1.2M157.2 49.4h1.2M138.5 60.2h1.2M158.9 50.3h1.2M133.7 64.2h1.2M163.9 47.7h1.2M161.0 44.2h1.2M129.5 69.9h1.2M168.4 43.3h1.2M139.9 69.0h1.2M137.2 69.7h1.2M104.2 79.7h1.2M129.3 77.8h1.2M150.8 53.9h1.2M103.3 95.4h1.2M148.1 56.6h1.2M142.5 63.8h1.2M137.7 62.1h1.2M81.4 111.5h1.2M132.9 73.4h1.2M154.6 63.2h1.2M114.2 82.9h1.2M137.7 70.0h1.2M76.9 114.3h1.2M148.1 55.8h1.2M120.2 84.5h1.2M153.2 52.3h1.2M93.0 107.6h1.2M149.5 56.2h1.2M127.4 73.7h1.2M148.3 50.1h1.2M113.0 88.5h1.2M120.7 83.2h1.2M186.2 26.9h1.2M114.0 85.6h1.2M117.9 84.1h1.2M137.3 85.2h1.2M107.1 86.8h1.2M162.4 47.9h1.2M174.3 37.0h1.2M116.7 82.8h1.2M90.6 100.3h1.2M160.8 47.1h1.2M158.2 47.2h1.2M153.2 54.4h1.2M161.3 48.3h1.2M115.5 88.6h1.2M133.7 77.0h1.2M99.2 94.4h1.2M101.0 97.5h1.2M156.9 51.3h1.2M112.1 76.9h1.2M186.4 25.6h1.2M135.6 68.6h1.2M119.6 83.1h1.2M159.6 61.7h1.2M175.7 35.2h1.2M152.7 68.1h1.2M97.4 85.4h1.2M145.6 65.9h1.2M167.3 44.9h1.2M122.3 79.5h1.2M115.0 84.1h1.2M154.4 47.4h1.2M138.3 68.5h1.2M103.4 86.6h1.2M117.7 70.1h1.2M113.5 81.9h1.2M143.2 66.7h1.2M128.1 59.7h1.2M159.5 46.7h1.2M150.3 56.3h1.2M101.7 104.4h1.2M143.6 62.4h1.2M153.9 52.0h1.2M145.1 61.9h1.2M147.2 39.7h1.2M121.6 81.2h1.2M111.0 87.7h1.2M156.7 53.3h1.2M109.8 91.3h1.2M84.3 112.4h1.2M158.0 50.5h1.2M122.0 89.0h1.2M128.1 77.3h1.2M94.7 90.5h1.2M105.7 98.3h1.2M113.8 99.2h1.2M125.9 77.5h1.2M142.8 63.3h1.2M78.0 112.0h1.2M154.3 58.4h1.2M106.2 92.7h1.2M108.4 90.0h1.2M148.0 55.3h1.2M121.9 61.3h1.2M96.8 98.4h1.2M177.3 34.9h1.2M116.0 88.8h1.2M142.2 67.8h1.2M133.6 61.4h1.2M166.5 42.6h1.2M122.8 78.4h1.2M154.7 48.0h1.2M120.5 88.2h1.2M165.4 53.7h1.2M117.9 86.5h1.2M124.3 76.0h1.2M177.0 32.5h1.2M142.8 65.5h1.2M137.8 69.3h1.2M145.8 66.6h1.2M110.0 81.0h1.2M149.2 54.1h1.2M107.4 93.9h1.2M158.7 46.9h1.2M161.3 46.1h1.2M112.4 73.1h1.2M122.3 85.2h1.2M134.9 63.6h1.2M135.7 71.3h1.2M116.5 94.3h1.2M147.7 59.7h1.2M89.2 112.3h1.2M123.7 78.3h1.2M125.6 79.0h1.2M118.6 66.6h1.2M140.6 63.7h1.2M108.4 96.8h1.2M144.5 55.6h1.2M137.5 81.2h1.2M124.0 87.8h1.2M98.3 92.7h1.2M105.3 91.9h1.2M142.9 63.8h1.2M111.4 88.7h1.2M135.5 68.9h1.2M158.6 49.5h1.2M162.3 54.5h1.2M169.2 39.0h1.2M122.2 71.1h1.2M104.6 87.0h1.2M155.9 48.7h1.2M144.0 67.0h1.2M161.9 50.3h1.2M137.5 73.2h1.2M162.0 47.2h1.2M152.7 52.9h1.2M151.6 57.3h1.2M145.1 59.8h1.2M143.9 63.1h1.2M138.3 64.6h1.2M138.9 65.5h1.2M150.7 44.8h1.2M122.9 80.8h1.2M173.7 36.0h1.2M131.6 72.3h1.2M161.2 55.3h1.2M134.4 74.4h1.2M129.9 76.6h1.2M185.5 35.1h1.2M130.3 79.6h1.2M91.3 82.0h1.2M116.9 83.4h1.2M129.3 78.9h1.2M183.8 28.2h1.2M135.1 62.5h1.2M156.3 52.7h1.2M112.2 91.0h1.2M145.1 66.3h1.2M148.9 56.5h1.2M176.2 35.7h1.2M118.2 84.0h1.2M146.4 56.9h1.2M137.7 61.0h1.2M104.3 84.1h1.2M137.2 74.2h1.2M125.9 73.4h1.2M69.2 104.5h1.2M146.8 57.6h1.2M146.0 59.2h1.2M123.9 78.8h1.2M102.6 95.7h1.2M168.7 41.8h1.2M140.9 65.7h1.2M160.7 53.6h1.2M168.6 44.7h1.2M131.1 89.3h1.2M146.2 47.9h1.2M129.1 75.5h1.2M132.7 71.6h1.2M130.9 70.8h1.2M135.2 71.4h1.2M159.6 48.3h1.2M140.0 70.8h1.2M129.2 72.0h1.2M123.6 71.6h1.2M140.4 62.1h1.2M112.9 87.1h1.2M123.0 80.6h1.2M129.2 67.7h1.2M133.4 93.5h1.2M129.6 70.9h1.2M120.3 82.5h1.2M181.3 32.2h1.2M164.5 44.1h1.2M144.5 61.5h1.2M132.8 71.2h1.2M183.2 26.2h1.2M140.8 63.3h1.2M132.7 72.6h1.2M142.3 65.6h1.2M143.2 66.3h1.2M166.8 43.0h1.2M134.2 71.2h1.2M183.1 29.9h1.2M100.8 74.7h1.2M151.6 58.2h1.2M112.0 90.8h1.2M176.7 35.5h1.2M121.5 71.8h1.2M133.3 72.0h1.2M153.2 50.1h1.2M160.6 43.3h1.2M105.5 89.0h1.2M122.9 73.9h1.2M100.0 95.6h1.2M136.9 67.2h1.2M124.8 65.4h1.2M117.9 69.1h1.2M111.7 77.1h1.2M125.3 77.9h1.2M116.8 84.7h1.2M144.5 58.2h1.2M170.2 41.9h1.2M99.8 118.1h1.2M132.0 73.1h1.2M114.8 68.9h1.2M144.9 60.1h1.2M109.1 85.8h1.2M133.6 75.9h1.2M80.2 61.0h1.2M144.2 50.8h1.2M135.2 67.2h1.2M121.2 64.4h1.2M135.9 56.4h1.2M125.4 72.1h1.2M99.0 101.3h1.2M147.9 58.8h1.2M141.5 65.4h1.2M132.9 75.6h1.2M156.6 50.8h1.2M163.1 47.4h1.2M109.5 92.2h1.2M121.2 90.5h1.2M169.7 40.0h1.2M169.6 45.3h1.2M121.2 88.7h1.2M107.5 93.9h1.2M118.8 82.1h1.2M119.2 76.6h1.2M91.8 95.5h1.2M138.6 73.4h1.2M101.5 92.2h1.2M102.7 90.5h1.2M156.3 53.4h1.2M111.6 77.0h1.2M134.4 73.6h1.2M152.4 61.7h1.2M153.6 55.2h1.2M128.1 78.6h1.2M120.3 54.8h1.2M109.1 80.4h1.2M175.1 36.8h1.2M150.2 58.7h1.2M107.8 90.9h1.2M133.1 69.1h1.2M153.8 59.5h1.2M147.3 63.0h1.2M177.8 36.1h1.2M161.2 39.1h1.2M115.5 74.7h1.2M129.8 69.8h1.2M106.0 96.7h1.2M138.6 64.1h1.2M134.3 64.1h1.2M135.1 67.1h1.2M86.5 111.8h1.2M103.1 68.0h1.2M146.4 77.6h1.2M101.5 91.2h1.2M109.0 82.1h1.2M131.6 83.3h1.2M142.8 64.4h1.2M131.3 74.5h1.2M113.8 87.8h1.2M152.8 55.4h1.2M125.8 84.9h1.2M121.1 78.6h1.2M98.5 93.5h1.2M117.9 87.6h1.2M142.5 51.0h1.2M96.2 101.2h1.2M130.7 69.9h1.2M154.7 60.3h1.2M126.2 78.4h1.2M135.2 61.2h1.2M102.8 86.6h1.2M163.6 44.0h1.2M159.4 48.7h1.2M133.6 59.8h1.2M92.6 103.5h1.2M110.5 91.2h1.2M157.5 52.1h1.2M175.3 38.5h1.2M142.6 66.1h1.2M160.7 43.9h1.2M122.5 84.5h1.2M129.9 74.2h1.2M131.0 67.2h1.2M144.3 62.5h1.2M94.7 96.0h1.2M161.1 57.2h1.2M166.4 46.3h1.2M104.6 89.7h1.2M105.3 99.2h1.2M140.5 61.8h1.2M117.6 81.6h1.2M78.4 115.5h1.2M154.7 56.4h1.2M131.5 61.1h1.2M132.6 88.9h1.2M180.4 26.7h1.2M138.7 68.9h1.2M113.5 81.8h1.2M132.0 64.0h1.2M112.2 92.6h1.2M117.4 86.0h1.2M149.8 69.5h1.2M110.2 70.1h1.2M121.1 76.5h1.2M172.3 37.5h1.2M156.6 56.2h1.2M155.1 57.1h1.2M143.9 57.6h1.2M144.6 60.2h1.2M165.4 39.6h1.2M136.0 73.0h1.2M178.3 35.5h1.2M117.3 93.9h1.2M125.4 72.5h1.2M100.9 95.8h1.2M123.6 74.5h1.2M147.7 61.7h1.2M168.2 42.6h1.2M120.9 85.2h1.2M136.0 72.0h1.2M130.2 81.6h1.2M131.0 98.5h1.2M107.0 93.8h1.2M137.5 71.1h1.2M100.6 110.4h1.2M130.3 61.9h1.2M133.7 69.0h1.2M120.5 84.6h1.2M113.5 92.6h1.2M95.4 90.6h1.2M176.3 32.8h1.2M100.2 93.6h1.2M168.0 37.9h1.2M148.3 58.9h1.2M124.4 76.1h1.2M100.8 86.3h1.2M155.1 47.0h1.2M173.4 36.0h1.2M112.9 88.9h1.2M127.0 75.9h1.2M159.9 51.3h1.2M143.1 65.0h1.2M180.5 31.5h1.2M125.9 86.3h1.2M147.6 60.6h1.2M104.8 94.3h1.2M183.2 30.1h1.2M119.8 87.0h1.2M87.3 117.4h1.2M133.3 74.8h1.2M136.3 78.3h1.2M177.8 32.5h1.2M128.3 78.9h1.2M136.3 73.0h1.2M147.3 58.2h1.2M170.0 38.7h1.2M132.1 71.0h1.2M155.5 47.4h1.2M148.5 62.6h1.2M132.1 80.8h1.2M134.5 67.4h1.2M136.3 71.2h1.2M103.3 78.6h1.2M161.6 46.2h1.2M108.6 103.7h1.2M161.5 47.8h1.2M155.8 51.4h1.2M135.8 75.9h1.2M116.4 85.2h1.2M126.9 72.7h1.2M145.1 61.2h1.2M148.6 53.2h1.2M141.9 65.8h1.2M158.4 52.3h1.2M130.4 90.2h1.2M139.3 65.5h1.2M100.0 102.9h1.2M153.8 57.5h1.2M138.7 68.4h1.2M128.4 82.2h1.2M164.3 51.0h1.2M154.4 61.1h1.2M72.5 128.5h1.2M132.0 66.6h1.2M101.1 99.2h1.2M157.3 48.1h1.2M124.7 83.0h1.2M135.3 68.4h1.2M126.6 73.5h1.2M144.8 66.0h1.2M147.8 56.6h1.2M164.8 46.2h1.2M126.9 104.9h1.2M171.1 40.4h1.2M111.3 87.2h1.2M141.0 65.3h1.2M159.4 46.3h1.2M151.7 57.5h1.2M108.1 84.3h1.2M115.6 81.7h1.2M126.4 82.2h1.2M131.5 69.9h1.2M163.4 50.7h1.2M100.5 91.7h1.2M153.4 69.6h1.2M144.6 54.8h1.2M147.2 59.6h1.2M143.9 60.3h1.2M168.6 40.2h1.2M141.6 57.1h1.2M151.1 50.8h1.2M146.6 58.7h1.2M175.0 34.8h1.2M98.6 115.5h1.2M163.1 44.7h1.2M124.5 71.9h1.2M125.9 74.1h1.2M118.8 96.1h1.2M93.9 109.6h1.2M120.9 73.4h1.2M117.2 82.6h1.2M144.2 59.3h1.2M100.0 98.9h1.2M165.7 40.9h1.2M141.9 66.5h1.2M126.9 73.6h1.2M114.0 80.4h1.2M115.7 85.4h1.2M109.7 94.0h1.2M117.7 77.1h1.2M130.2 66.1h1.2M128.3 72.0h1.2M100.8 97.2h1.2M130.6 78.0h1.2M110.2 84.5h1.2M139.4 68.8h1.2M176.6 33.4h1.2M147.3 56.8h1.2M126.2 75.7h1.2M97.7 103.1h1.2M99.7 96.1h1.2M98.7 106.6h1.2M151.7 56.9h1.2M117.6 86.3h1.2M134.9 68.4h1.2M112.7 75.4h1.2M135.5 67.8h1.2M164.8 41.3h1.2M111.9 77.3h1.2M126.2 76.9h1.2M116.8 87.2h1.2M153.1 52.1h1.2M105.5 85.4h1.2M110.6 95.0h1.2M100.4 95.6h1.2M101.2 97.4h1.2M147.3 63.4h1.2M111.6 90.1h1.2M157.5 53.2h1.2M146.3 71.7h1.2M117.8 100.8h1.2M122.4 70.4h1.2M127.2 73.3h1.2M118.4 84.0h1.2M178.1 32.1h1.2M96.4 113.7h1.2M136.4 56.4h1.2M143.1 65.1h1.2M117.9 78.8h1.2M137.0 66.8h1.2M153.5 52.4h1.2M135.0 64.7h1.2M141.0 59.5h1.2M149.0 55.7h1.2M86.3 109.0h1.2M168.5 41.8h1.2M186.2 25.4h1.2M155.8 50.2h1.2M159.6 52.6h1.2M101.2 97.4h1.2M132.7 73.9h1.2M115.4 86.1h1.2M129.8 90.8h1.2M159.0 54.0h1.2M113.3 83.7h1.2M132.5 74.2h1.2M86.8 104.3h1.2M131.2 74.1h1.2M130.0 62.5h1.2M121.5 87.6h1.2M113.2 80.1h1.2M175.9 31.8h1.2M108.5 96.1h1.2M100.3 81.3h1.2M111.9 82.5h1.2M162.4 47.6h1.2M182.4 29.1h1.2M144.7 66.7h1.2M117.2 83.9h1.2M124.2 78.6h1.2M158.6 49.4h1.2M113.9 88.8h1.2M168.0 42.3h1.2M166.5 42.4h1.2M138.2 71.4h1.2M153.9 62.5h1.2M148.6 52.9h1.2M170.2 40.3h1.2M107.8 88.7h1.2M157.7 43.6h1.2M122.4 74.6h1.2M109.9 78.9h1.2M137.3 69.1h1.2M128.4 73.7h1.2M108.3 86.6h1.2M95.1 99.3h1.2M113.2 89.5h1.2M166.2 40.5h1.2M179.4 32.1h1.2M146.8 55.3h1.2M162.5 48.2h1.2M124.6 82.7h1.2M139.9 79.3h1.2M142.1 66.3h1.2M114.7 96.8h1.2M108.5 86.8h1.2M128.7 60.9h1.2M148.3 97.9h1.2M106.1 87.6h1.2M139.8 59.5h1.2M131.5 78.8h1.2M155.0 47.7h1.2M147.6 83.8h1.2M123.7 72.7h1.2M137.4 68.1h1.2M130.8 74.3h1.2M126.1 90.6h1.2M120.2 73.6h1.2M149.4 53.7h1.2M148.0 56.7h1.2M162.6 44.1h1.2M98.7 106.9h1.2M123.2 76.2h1.2M117.6 71.5h1.2M140.6 69.4h1.2M123.1 78.6h1.2M122.0 80.0h1.2M153.2 56.1h1.2M134.1 62.8h1.2M105.6 91.5h1.2M164.0 43.4h1.2M152.5 46.3h1.2M121.4 82.0h1.2M148.1 49.0h1.2M117.0 84.4h1.2M157.9 46.2h1.2M131.5 76.9h1.2M116.8 87.2h1.2M125.6 77.7h1.2M115.6 84.4h1.2M137.0 65.0h1.2M136.1 64.8h1.2M134.9 69.5h1.2M121.2 81.1h1.2M135.3 67.5h1.2M91.2 108.0h1.2M139.4 65.2h1.2M160.9 48.9h1.2M143.7 68.2h1.2M124.2 77.0h1.2M128.3 72.2h1.2M128.4 70.2h1.2M119.2 78.8h1.2M121.4 82.4h1.2M110.1 85.7h1.2M159.2 44.8h1.2M132.5 69.4h1.2M155.8 51.3h1.2M127.2 74.0h1.2M126.8 60.0h1.2M129.2 72.6h1.2M142.4 58.9h1.2M154.2 55.2h1.2M142.1 68.1h1.2M118.2 83.1h1.2M114.3 83.7h1.2M171.7 37.3h1.2M121.1 69.3h1.2M121.4 70.1h1.2M168.3 42.1h1.2M157.5 47.4h1.2M143.2 56.7h1.2M124.2 77.4h1.2M189.2 25.2h1.2M142.1 61.6h1.2M147.9 60.8h1.2M134.1 77.5h1.2M98.0 94.4h1.2M103.6 96.6h1.2M141.4 60.2h1.2M131.1 50.7h1.2M129.1 75.5h1.2M111.9 97.9h1.2M100.7 98.2h1.2M120.2 70.4h1.2M102.5 100.6h1.2M157.9 55.7h1.2M159.8 46.9h1.2M151.5 50.3h1.2M125.0 86.4h1.2M112.8 86.1h1.2M123.5 85.0h1.2M133.6 77.2h1.2M154.4 49.4h1.2M149.7 59.9h1.2M146.1 57.2h1.2M136.6 63.7h1.2M156.0 64.0h1.2M170.4 44.9h1.2M114.4 95.9h1.2M122.2 77.9h1.2M95.2 90.6h1.2M173.7 40.9h1.2M167.6 48.5h1.2M150.8 54.9h1.2M102.1 89.3h1.2M138.8 67.6h1.2M127.4 73.6h1.2M144.0 76.6h1.2M130.0 74.2h1.2M148.2 62.2h1.2M118.0 71.1h1.2M154.3 54.1h1.2M139.5 65.4h1.2M127.6 76.3h1.2M131.9 72.8h1.2M120.7 75.7h1.2M160.3 61.7h1.2M129.4 77.1h1.2M140.6 64.2h1.2M125.2 78.1h1.2M99.9 99.3h1.2M160.1 57.6h1.2M113.6 94.8h1.2M149.5 56.8h1.2M143.7 62.0h1.2M87.8 94.6h1.2M110.1 86.5h1.2M121.6 79.7h1.2M112.6 83.8h1.2M109.7 96.2h1.2M151.1 55.7h1.2M125.3 71.7h1.2M144.4 64.2h1.2M125.4 79.9h1.2M141.3 64.5h1.2M120.0 88.1h1.2M132.4 69.7h1.2M145.2 56.6h1.2M134.3 68.6h1.2M123.9 79.5h1.2M109.9 92.3h1.2M136.8 65.8h1.2M143.4 64.8h1.2M126.3 73.5h1.2M116.7 85.6h1.2M146.9 60.0h1.2M126.3 75.3h1.2M141.5 63.4h1.2M143.1 63.2h1.2M82.4 127.7h1.2M133.7 64.6h1.2M117.8 84.1h1.2M164.4 41.6h1.2M128.7 75.7h1.2M113.6 82.9h1.2M130.8 76.3h1.2M140.2 69.2h1.2M120.1 80.1h1.2M133.1 71.5h1.2M109.2 102.9h1.2M131.1 76.8h1.2M151.8 54.9h1.2M180.5 32.8h1.2M150.7 56.8h1.2M140.9 65.5h1.2M163.2 48.9h1.2M162.3 55.0h1.2M173.4 38.8h1.2M160.9 51.0h1.2M130.3 71.5h1.2M140.7 65.9h1.2M136.9 65.5h1.2M143.4 66.7h1.2M139.3 67.0h1.2M110.8 80.4h1.2M86.0 111.7h1.2M117.0 81.8h1.2M76.4 99.0h1.2M132.7 66.0h1.2M136.2 72.1h1.2M97.1 104.6h1.2M151.9 58.8h1.2M153.3 52.6h1.2M135.6 67.7h1.2M172.2 37.4h1.2M178.6 35.1h1.2M108.6 96.1h1.2M161.9 53.9h1.2M147.9 65.3h1.2M144.1 62.5h1.2M166.1 62.4h1.2M120.9 87.6h1.2M119.4 80.8h1.2M117.6 89.0h1.2M118.2 86.5h1.2M130.6 71.0h1.2M100.8 98.8h1.2M108.8 89.5h1.2M147.5 59.1h1.2M114.6 54.0h1.2M144.5 64.4h1.2M92.7 109.3h1.2M115.5 85.1h1.2M120.1 80.0h1.2M146.4 81.0h1.2M121.5 82.7h1.2M150.5 47.0h1.2M131.3 69.9h1.2M133.3 68.8h1.2M133.1 68.7h1.2M150.0 56.0h1.2M125.4 81.7h1.2M158.9 47.4h1.2M146.3 62.9h1.2M137.7 67.3h1.2M136.2 70.6h1.2M147.3 61.3h1.2M156.5 49.5h1.2M155.3 51.2h1.2M142.2 62.4h1.2M155.5 54.3h1.2M135.2 66.4h1.2M162.7 45.6h1.2M130.8 68.2h1.2M93.7 118.1h1.2M161.7 40.9h1.2M142.4 73.9h1.2M108.6 94.6h1.2M131.4 76.0h1.2M114.6 88.4h1.2M182.8 29.5h1.2M147.1 62.1h1.2M102.9 105.8h1.2M147.7 60.6h1.2M122.8 76.0h1.2M180.1 34.6h1.2M109.9 90.8h1.2M73.4 105.4h1.2M130.1 63.5h1.2M126.4 77.4h1.2M120.4 74.3h1.2M81.7 109.1h1.2M144.8 62.8h1.2M173.2 38.2h1.2M96.1 113.4h1.2M161.3 47.6h1.2M115.5 76.0h1.2M188.7 24.9h1.2M144.2 61.8h1.2M135.5 79.6h1.2M161.8 50.9h1.2M144.4 58.2h1.2M120.4 81.8h1.2M151.4 57.3h1.2M124.3 82.1h1.2M81.2 93.7h1.2M181.3 31.0h1.2M128.7 79.7h1.2M121.0 83.1h1.2M145.6 67.3h1.2M94.2 96.8h1.2M98.5 92.4h1.2M119.9 77.4h1.2M127.3 85.5h1.2M131.9 65.1h1.2M161.3 49.7h1.2M118.9 75.3h1.2M140.7 55.9h1.2M149.0 59.5h1.2M104.2 86.6h1.2M142.2 68.7h1.2M126.3 102.5h1.2M158.6 49.5h1.2M146.5 63.3h1.2M133.9 69.4h1.2M122.3 115.2h1.2M141.1 72.3h1.2M114.3 83.2h1.2M150.3 56.4h1.2M134.5 75.8h1.2M115.3 86.1h1.2M153.5 50.4h1.2M151.4 56.8h1.2M117.6 79.0h1.2M161.6 48.3h1.2M127.7 76.5h1.2M130.9 80.2h1.2M137.0 67.9h1.2M118.1 86.3h1.2M132.4 87.3h1.2M128.2 71.2h1.2M168.5 39.5h1.2M168.7 41.1h1.2M130.3 77.5h1.2M171.3 38.9h1.2M131.8 69.8h1.2M144.6 64.5h1.2M155.9 54.4h1.2M146.1 69.8h1.2M141.3 67.1h1.2M123.7 110.6h1.2M162.1 42.8h1.2M125.4 79.1h1.2M125.9 75.1h1.2M72.4 135.8h1.2M149.6 43.3h1.2M148.9 50.3h1.2M150.6 52.7h1.2M160.3 54.8h1.2M174.2 38.4h1.2M133.2 71.3h1.2M157.2 53.5h1.2M118.1 85.9h1.2M128.7 79.9h1.2M158.5 49.7h1.2M141.7 61.3h1.2M110.7 103.6h1.2M140.5 61.4h1.2M131.2 75.1h1.2M108.5 79.6h1.2M143.7 61.3h1.2M129.7 83.0h1.2M98.1 101.1h1.2M103.6 87.1h1.2M174.5 35.4h1.2M100.2 100.9h1.2M132.6 59.4h1.2M150.7 60.8h1.2M153.4 62.3h1.2M100.5 88.9h1.2M126.1 76.0h1.2M138.3 68.4h1.2M149.2 51.4h1.2M118.6 82.3h1.2M105.1 90.9h1.2M156.2 49.8h1.2M159.0 48.1h1.2M140.5 60.9h1.2M121.8 83.9h1.2M144.8 63.7h1.2M142.5 73.9h1.2M151.0 51.6h1.2M104.4 93.7h1.2M140.5 71.6h1.2M132.2 75.2h1.2M107.2 90.6h1.2M138.3 65.3h1.2M137.4 72.0h1.2M119.2 72.9h1.2M143.3 62.6h1.2M101.9 98.5h1.2M134.5 73.0h1.2M148.4 66.1h1.2M141.4 65.5h1.2M157.8 48.2h1.2M106.4 93.7h1.2M102.5 102.8h1.2M133.9 60.0h1.2M144.1 60.9h1.2M184.7 30.7h1.2M150.3 60.2h1.2M113.0 86.4h1.2M155.2 57.1h1.2M118.7 90.8h1.2M101.7 101.1h1.2M141.6 63.9h1.2M151.2 57.0h1.2M143.0 55.3h1.2M176.7 35.8h1.2M137.9 62.0h1.2M163.4 47.7h1.2M109.7 89.6h1.2M104.2 99.6h1.2M167.7 43.1h1.2M169.1 42.5h1.2M146.6 61.0h1.2M138.3 64.8h1.2M139.5 68.5h1.2M116.6 82.1h1.2M170.9 41.6h1.2M146.0 54.2h1.2M146.6 61.2h1.2M145.5 65.6h1.2M160.0 51.6h1.2M148.0 62.6h1.2M151.4 55.8h1.2M110.8 96.7h1.2M144.4 58.9h1.2M187.0 30.1h1.2M124.2 82.4h1.2M129.6 71.3h1.2M155.7 53.8h1.2M147.9 43.4h1.2M150.6 60.2h1.2M99.3 104.3h1.2M143.9 58.8h1.2M103.9 90.5h1.2M116.0 87.3h1.2M145.6 58.5h1.2M128.7 77.5h1.2M153.6 55.3h1.2M150.2 53.3h1.2M152.6 58.0h1.2M110.7 85.1h1.2M118.6 82.1h1.2M111.5 92.9h1.2M120.6 79.4h1.2M107.9 90.5h1.2M125.8 89.9h1.2M131.8 76.8h1.2M108.4 87.2h1.2M100.7 97.3h1.2M103.2 97.4h1.2M142.2 59.1h1.2M133.1 66.7h1.2M161.4 53.8h1.2M159.8 51.5h1.2M126.0 76.7h1.2M147.7 55.4h1.2M94.1 91.7h1.2M186.6 25.6h1.2M161.9 47.2h1.2M132.8 78.1h1.2M112.8 98.5h1.2M142.9 62.9h1.2M99.0 114.7h1.2M115.0 84.4h1.2M151.7 56.0h1.2M133.3 66.3h1.2M120.9 78.0h1.2M155.7 51.4h1.2M114.2 94.5h1.2M139.4 63.5h1.2M119.6 77.0h1.2M117.3 89.5h1.2M144.8 61.2h1.2M109.8 88.3h1.2M178.0 33.2h1.2M117.0 78.1h1.2M166.9 18.5h1.2M111.0 93.7h1.2M147.2 57.6h1.2M107.0 94.3h1.2M105.6 98.8h1.2M140.5 69.9h1.2M151.4 58.7h1.2M105.0 95.4h1.2M163.4 49.1h1.2M115.1 85.2h1.2M137.5 68.0h1.2M146.2 66.2h1.2M146.5 57.4h1.2M97.0 109.6h1.2M173.0 40.3h1.2M145.8 58.1h1.2M115.4 69.8h1.2M109.2 88.9h1.2M86.0 94.4h1.2M113.2 107.2h1.2M144.7 57.7h1.2M123.7 74.4h1.2M111.9 96.2h1.2M123.6 82.2h1.2M179.5 49.0h1.2M123.5 73.8h1.2M122.2 83.3h1.2M167.0 45.6h1.2M143.9 60.4h1.2M140.2 74.5h1.2M119.8 81.9h1.2M99.5 101.7h1.2M108.1 94.1h1.2M126.6 83.2h1.2M127.4 72.9h1.2M140.9 61.9h1.2M147.1 59.8h1.2M141.5 68.2h1.2M139.6 66.4h1.2M113.1 92.1h1.2M86.0 113.8h1.2M124.5 82.8h1.2M113.5 90.3h1.2M121.3 85.2h1.2M129.6 77.5h1.2M99.2 88.4h1.2M103.5 87.0h1.2M133.5 73.9h1.2M133.1 64.4h1.2M122.4 86.4h1.2M143.8 58.8h1.2M122.8 68.4h1.2M101.5 81.2h1.2M138.6 73.0h1.2M177.9 34.0h1.2M116.3 81.3h1.2M159.7 46.3h1.2M166.9 44.4h1.2M162.7 35.2h1.2M116.2 87.4h1.2M180.3 30.7h1.2M136.2 67.4h1.2M127.5 74.5h1.2M125.1 71.1h1.2M146.4 57.0h1.2M136.6 70.6h1.2M126.1 69.9h1.2M161.9 43.4h1.2M112.2 79.2h1.2M106.7 87.3h1.2M155.3 57.7h1.2M149.3 55.5h1.2M161.5 51.1h1.2M110.4 92.2h1.2M160.2 50.3h1.2M149.4 65.0h1.2M174.3 35.5h1.2M107.7 97.0h1.2M137.9 64.8h1.2M122.4 70.5h1.2M96.8 100.6h1.2M119.7 86.3h1.2M160.8 49.0h1.2M125.8 81.9h1.2M117.7 84.6h1.2M156.2 55.4h1.2M156.5 50.6h1.2M159.0 53.1h1.2M124.8 94.4h1.2M129.5 68.2h1.2M157.8 50.1h1.2M121.1 85.2h1.2M108.2 76.3h1.2M157.1 58.0h1.2M169.7 39.3h1.2M107.9 93.2h1.2M84.7 131.3h1.2M90.1 88.1h1.2M111.7 91.0h1.2M133.8 75.8h1.2M150.5 60.4h1.2M129.2 71.6h1.2M116.1 82.1h1.2M140.0 69.6h1.2M109.0 86.2h1.2M134.4 72.5h1.2M109.7 73.3h1.2M153.8 55.2h1.2M118.8 90.5h1.2M110.3 88.9h1.2M124.3 79.2h1.2M96.7 102.9h1.2M113.6 80.9h1.2M117.1 84.7h1.2M159.3 57.8h1.2M120.2 74.6h1.2M113.6 83.5h1.2M101.3 94.6h1.2M112.5 98.6h1.2M132.1 71.1h1.2M136.6 81.9h1.2M158.9 46.8h1.2M118.7 81.7h1.2M158.2 49.3h1.2M141.4 66.6h1.2M134.4 70.8h1.2M87.1 108.8h1.2M112.2 103.2h1.2M150.8 55.4h1.2M168.0 44.7h1.2M139.0 66.4h1.2M155.0 58.7h1.2M119.7 73.3h1.2M123.5 75.5h1.2M117.7 82.1h1.2M157.0 51.7h1.2M138.7 60.4h1.2M131.5 77.6h1.2M124.6 74.8h1.2M145.7 58.2h1.2M143.1 65.5h1.2M112.5 84.1h1.2M172.5 35.7h1.2M141.3 66.5h1.2M132.5 68.3h1.2M167.9 41.2h1.2M158.3 50.8h1.2M132.8 72.7h1.2M145.4 58.8h1.2M120.3 101.9h1.2M123.5 86.9h1.2M83.6 115.9h1.2M161.1 45.4h1.2M100.5 117.4h1.2M149.8 56.9h1.2M117.6 89.1h1.2M109.3 87.1h1.2M130.6 75.0h1.2M141.1 65.9h1.2M148.2 58.3h1.2M174.2 35.0h1.2M148.5 69.3h1.2M153.1 51.8h1.2M120.1 81.7h1.2M149.1 54.9h1.2M136.7 66.4h1.2M123.6 79.5h1.2M125.3 65.7h1.2M132.4 71.2h1.2M139.4 67.4h1.2M146.3 65.4h1.2M123.0 80.8h1.2M118.1 85.8h1.2M154.2 58.5h1.2M100.6 108.9h1.2M119.8 82.3h1.2M170.5 40.6h1.2M97.9 149.0h1.2M118.9 84.5h1.2M147.0 54.0h1.2M92.3 98.7h1.2M67.3 113.8h1.2M167.9 42.9h1.2M169.8 39.6h1.2M156.3 53.4h1.2M129.7 75.3h1.2M139.9 60.9h1.2M115.2 89.6h1.2M149.2 51.0h1.2M109.4 93.3h1.2M131.6 79.3h1.2M155.5 49.3h1.2M109.9 93.5h1.2M125.1 76.8h1.2M138.5 67.6h1.2M98.7 92.0h1.2M156.1 42.8h1.2M139.9 61.6h1.2M95.0 95.7h1.2M131.6 69.8h1.2M116.6 85.8h1.2M118.6 82.7h1.2M139.2 72.1h1.2M118.1 84.5h1.2M162.6 57.6h1.2M116.7 82.9h1.2M159.6 54.0h1.2M132.5 70.5h1.2M151.6 51.4h1.2M119.6 78.9h1.2M118.1 75.9h1.2M102.9 88.2h1.2M147.3 58.9h1.2M155.2 51.5h1.2M183.4 29.3h1.2M163.6 44.8h1.2M140.7 66.3h1.2M135.3 80.4h1.2M141.1 60.8h1.2M131.8 69.1h1.2M167.7 41.6h1.2M153.5 49.5h1.2M111.2 83.1h1.2M117.3 82.7h1.2M166.0 44.0h1.2M140.8 63.9h1.2M129.1 75.2h1.2M163.7 49.3h1.2M127.5 80.1h1.2M131.9 79.9h1.2M127.6 83.3h1.2M90.6 110.2h1.2M152.8 52.2h1.2M99.4 87.1h1.2M119.3 79.7h1.2M114.3 82.2h1.2M150.1 55.4h1.2M134.5 73.5h1.2M133.1 68.6h1.2M96.5 104.1h1.2M133.3 73.2h1.2M103.9 102.9h1.2M149.6 72.6h1.2M144.2 64.7h1.2M133.0 69.9h1.2M178.2 27.5h1.2M147.6 61.3h1.2M145.5 56.4h1.2M130.7 60.9h1.2M130.1 74.5h1.2M156.0 51.1h1.2M155.2 44.5h1.2M102.4 94.0h1.2M159.2 50.5h1.2M151.8 66.1h1.2M154.8 50.1h1.2M144.1 60.4h1.2M92.0 81.3h1.2M105.8 91.9h1.2M174.9 33.4h1.2M138.1 63.5h1.2M99.4 95.9h1.2M142.2 63.6h1.2M123.5 75.1h1.2M78.6 93.4h1.2M82.1 115.8h1.2M96.1 100.5h1.2M139.7 64.3h1.2M135.6 73.7h1.2M130.5 77.2h1.2M140.4 64.5h1.2M150.3 60.9h1.2M75.0 100.8h1.2M126.3 75.3h1.2M115.7 87.1h1.2M104.0 92.7h1.2M120.2 79.7h1.2M125.6 67.1h1.2M126.3 73.9h1.2M97.0 95.1h1.2M120.0 76.8h1.2M182.0 32.3h1.2M110.5 91.5h1.2M95.5 103.4h1.2M140.3 64.7h1.2M149.6 60.4h1.2M145.4 61.8h1.2M105.6 89.5h1.2M156.0 49.7h1.2M115.5 85.1h1.2M113.9 98.3h1.2M116.3 78.4h1.2M131.4 72.2h1.2M152.9 58.7h1.2M150.4 60.0h1.2M133.3 70.4h1.2M154.4 50.9h1.2M136.8 69.5h1.2M155.0 53.1h1.2M91.3 87.3h1.2M100.9 104.0h1.2M153.2 56.3h1.2M104.1 99.4h1.2M126.5 75.5h1.2M131.3 71.7h1.2M125.9 82.8h1.2M124.8 80.3h1.2M164.9 41.8h1.2M84.9 128.6h1.2M153.2 51.7h1.2M187.3 25.8h1.2M134.1 69.3h1.2M134.1 71.1h1.2M153.7 58.9h1.2M177.7 36.0h1.2M135.8 122.2h1.2M134.5 67.0h1.2M130.0 74.1h1.2M149.5 61.8h1.2M138.1 67.5h1.2M149.8 57.8h1.2M123.9 78.1h1.2M135.7 69.8h1.2M120.6 85.3h1.2M125.9 90.3h1.2M131.1 73.3h1.2M129.5 71.7h1.2M107.1 93.2h1.2M170.9 40.2h1.2M131.4 73.4h1.2M126.7 121.4h1.2M159.2 48.5h1.2M116.6 84.6h1.2M146.7 61.2h1.2M135.6 72.5h1.2M137.3 62.9h1.2M138.9 67.7h1.2M121.1 81.8h1.2M135.0 69.4h1.2M179.7 29.3h1.2M89.6 120.9h1.2M134.3 67.7h1.2M144.9 62.5h1.2M109.2 90.2h1.2M92.4 87.0h1.2M184.1 28.4h1.2M125.5 77.5h1.2M182.3 30.0h1.2M143.6 57.0h1.2M135.9 68.9h1.2M145.4 61.3h1.2M147.9 57.1h1.2M166.2 52.1h1.2M141.8 59.5h1.2M136.6 66.7h1.2M136.2 64.9h1.2M166.7 45.3h1.2M149.2 50.6h1.2M111.7 90.5h1.2M119.0 82.2h1.2M139.7 61.9h1.2M121.4 84.0h1.2M125.7 77.9h1.2M121.2 97.9h1.2M122.1 69.5h1.2M143.3 61.5h1.2M158.5 52.3h1.2M130.6 66.4h1.2M181.1 29.0h1.2M136.0 75.4h1.2M150.9 44.6h1.2M143.6 58.6h1.2M121.8 79.2h1.2M67.7 124.1h1.2M129.7 72.4h1.2M142.9 71.4h1.2M178.4 32.7h1.2M96.3 91.3h1.2M178.4 33.5h1.2M130.2 77.0h1.2M152.2 57.6h1.2M75.4 119.7h1.2M138.1 68.4h1.2M126.4 77.2h1.2M151.3 58.4h1.2M137.9 70.2h1.2M103.3 88.1h1.2M158.2 54.1h1.2M151.9 58.5h1.2M146.9 57.7h1.2M159.8 53.0h1.2M160.8 50.1h1.2M132.3 69.4h1.2M101.1 95.1h1.2M99.6 94.8h1.2M165.4 44.1h1.2M150.1 56.0h1.2M139.2 71.0h1.2M123.9 78.6h1.2M133.5 68.3h1.2M136.2 71.3h1.2M124.8 75.3h1.2M118.6 84.5h1.2M181.5 25.6h1.2M137.6 64.1h1.2M124.1 86.1h1.2M109.5 101.0h1.2M114.3 81.4h1.2M150.1 55.7h1.2M151.1 55.0h1.2M132.2 77.7h1.2M131.6 65.6h1.2M117.5 66.8h1.2M109.1 92.4h1.2M163.5 44.3h1.2M140.3 60.7h1.2M114.6 83.0h1.2M133.9 75.9h1.2M153.3 51.9h1.2M125.3 72.0h1.2M99.3 94.6h1.2M119.8 96.3h1.2M136.6 68.5h1.2M142.2 63.8h1.2M128.8 69.0h1.2M164.1 57.4h1.2M160.6 54.5h1.2M141.8 64.3h1.2M134.2 69.3h1.2M126.4 73.4h1.2M139.3 52.1h1.2M155.3 52.4h1.2M136.2 69.8h1.2M131.8 49.0h1.2M120.5 70.6h1.2M96.4 92.7h1.2M112.0 90.8h1.2M150.0 53.6h1.2M142.3 59.5h1.2M171.3 39.8h1.2M132.9 66.7h1.2M155.9 55.2h1.2M165.3 45.1h1.2M153.3 47.2h1.2M120.0 82.0h1.2M134.2 78.2h1.2M135.8 66.4h1.2M108.7 86.8h1.2M144.0 60.0h1.2M158.6 51.2h1.2M124.3 80.9h1.2M178.8 31.1h1.2M129.9 78.4h1.2M130.9 75.7h1.2M129.3 75.6h1.2M116.7 83.0h1.2M138.0 56.5h1.2M135.1 70.4h1.2M174.1 39.6h1.2M148.0 58.3h1.2M149.1 62.4h1.2M139.6 85.1h1.2M108.1 104.4h1.2M129.7 69.7h1.2M111.7 84.1h1.2M153.1 48.8h1.2M135.1 72.5h1.2M172.4 37.7h1.2M152.5 57.4h1.2M153.5 54.2h1.2M137.9 64.3h1.2M139.1 66.4h1.2M147.5 55.9h1.2M152.5 49.4h1.2M117.9 84.3h1.2M142.8 58.0h1.2M130.7 70.7h1.2M126.8 73.8h1.2M119.2 84.8h1.2M101.3 99.1h1.2M160.2 45.8h1.2M133.4 67.0h1.2M141.9 65.3h1.2M173.9 31.6h1.2M111.6 85.6h1.2M157.6 48.9h1.2M144.2 53.9h1.2M143.3 62.5h1.2M144.6 60.3h1.2M135.1 72.1h1.2M169.8 38.2h1.2M149.0 58.9h1.2M136.3 57.8h1.2M164.6 47.5h1.2M150.7 48.7h1.2M145.6 62.1h1.2M141.3 63.4h1.2M176.7 38.0h1.2M144.6 59.0h1.2M135.0 74.9h1.2M114.1 86.6h1.2M125.0 75.7h1.2M112.7 93.4h1.2M132.5 64.0h1.2M140.4 65.5h1.2M87.8 111.1h1.2M132.1 67.4h1.2M149.3 57.7h1.2M130.2 59.3h1.2M115.8 92.4h1.2M162.6 44.6h1.2M114.8 80.6h1.2M87.8 76.4h1.2M106.0 88.1h1.2M135.8 72.5h1.2M157.2 51.4h1.2M167.3 53.6h1.2M137.6 64.8h1.2M103.8 90.7h1.2M120.6 84.7h1.2M112.1 86.5h1.2M135.2 78.8h1.2M90.7 102.3h1.2M137.5 68.9h1.2M153.3 61.9h1.2M130.1 72.6h1.2M145.3 61.8h1.2M111.0 87.1h1.2M98.8 96.9h1.2M118.4 81.6h1.2M161.9 48.8h1.2M161.7 54.0h1.2M121.6 77.2h1.2M164.1 49.0h1.2M125.6 75.5h1.2M169.5 41.3h1.2M148.2 63.8h1.2M122.4 77.8h1.2M154.3 56.6h1.2M117.5 86.6h1.2M124.0 99.8h1.2M103.5 101.4h1.2M139.1 64.3h1.2M135.4 73.8h1.2M137.0 76.4h1.2M124.5 78.1h1.2M167.8 42.7h1.2M118.3 72.6h1.2M109.0 76.1h1.2M162.6 45.7h1.2M165.5 41.2h1.2M140.7 62.4h1.2M89.3 99.6h1.2M121.3 83.0h1.2M146.5 56.6h1.2M136.5 71.9h1.2M165.9 35.9h1.2M105.3 99.7h1.2M150.2 57.5h1.2M123.9 86.7h1.2M164.4 44.3h1.2M135.2 74.5h1.2M162.1 54.3h1.2M117.6 81.3h1.2M99.9 96.1h1.2M103.8 87.3h1.2M122.0 83.9h1.2M112.7 92.5h1.2M160.0 45.1h1.2M166.9 46.1h1.2M138.3 62.9h1.2M103.7 84.0h1.2M131.8 73.0h1.2M115.0 80.4h1.2M168.1 42.4h1.2M139.9 62.6h1.2M147.5 62.8h1.2M125.7 78.9h1.2M96.3 118.0h1.2M120.2 89.1h1.2M110.3 94.0h1.2M142.2 62.7h1.2M137.7 69.7h1.2M119.0 89.2h1.2M126.5 79.2h1.2M173.5 43.0h1.2M109.3 86.4h1.2M113.3 88.6h1.2M128.5 74.4h1.2M122.8 88.7h1.2M123.9 78.3h1.2M147.7 61.2h1.2M177.5 39.9h1.2M83.5 95.6h1.2M133.5 70.5h1.2M134.8 69.2h1.2M141.1 80.7h1.2M127.5 71.7h1.2M126.4 77.1h1.2M155.6 49.0h1.2M124.5 80.5h1.2M133.4 75.0h1.2M135.1 71.3h1.2M137.1 68.7h1.2M130.7 74.1h1.2M151.2 44.9h1.2M134.8 71.4h1.2M138.3 67.1h1.2M131.7 70.1h1.2M115.8 94.6h1.2M108.6 80.2h1.2M101.5 82.5h1.2M143.9 71.8h1.2M124.2 90.7h1.2M106.2 87.6h1.2M142.1 68.1h1.2M146.2 60.0h1.2M88.0 99.2h1.2M173.7 37.9h1.2M133.2 68.0h1.2M134.2 74.8h1.2M163.7 54.4h1.2M135.7 68.9h1.2M117.5 79.4h1.2M184.4 27.1h1.2M108.3 90.2h1.2M133.0 73.3h1.2M153.9 54.0h1.2M113.8 95.5h1.2M132.4 73.0h1.2M146.1 65.8h1.2M105.4 79.6h1.2M133.8 72.0h1.2M148.4 56.6h1.2M136.9 69.6h1.2M103.4 90.8h1.2M145.4 64.2h1.2M135.7 67.3h1.2M143.1 60.3h1.2M161.2 49.2h1.2M158.4 51.5h1.2M140.9 59.7h1.2M140.9 63.9h1.2M106.6 89.6h1.2M133.9 75.8h1.2M144.0 70.7h1.2M127.3 80.5h1.2M132.2 64.3h1.2M116.7 87.9h1.2M166.8 37.7h1.2M184.3 28.9h1.2M126.6 79.3h1.2M143.0 62.1h1.2M139.6 85.6h1.2M166.5 48.9h1.2M145.0 62.6h1.2M134.4 67.3h1.2M128.4 74.1h1.2M136.2 67.0h1.2M108.5 87.3h1.2M151.0 58.4h1.2M114.9 81.5h1.2M147.4 60.8h1.2M142.3 72.9h1.2M160.1 49.7h1.2M136.2 73.0h1.2M157.9 50.5h1.2M108.8 84.2h1.2M148.8 59.0h1.2M129.0 74.7h1.2M140.6 68.5h1.2M137.1 70.2h1.2M154.3 50.7h1.2M102.3 124.2h1.2M143.3 65.7h1.2M98.5 98.3h1.2M162.9 47.7h1.2M89.0 109.1h1.2M114.5 93.3h1.2M101.4 108.8h1.2M177.7 44.0h1.2M102.6 93.6h1.2M137.2 68.5h1.2M121.5 80.5h1.2M91.6 104.4h1.2M126.5 77.0h1.2M146.0 54.0h1.2M127.8 71.8h1.2M155.1 51.2h1.2M128.7 80.2h1.2M134.9 70.8h1.2M123.0 75.6h1.2M144.5 66.0h1.2M178.0 33.3h1.2M141.3 62.0h1.2M135.2 63.1h1.2M120.9 83.4h1.2M119.9 88.2h1.2M169.7 43.5h1.2M106.1 89.7h1.2M113.9 88.9h1.2M130.0 70.4h1.2M124.2 78.5h1.2M182.5 35.4h1.2M84.6 121.4h1.2M142.8 63.6h1.2M152.4 58.3h1.2M107.2 91.1h1.2M122.7 86.2h1.2M146.3 64.0h1.2M170.7 37.5h1.2M116.7 92.0h1.2M99.0 102.3h1.2M157.8 52.5h1.2M172.2 43.5h1.2M122.5 73.0h1.2M93.0 123.3h1.2M167.5 41.8h1.2M131.4 76.0h1.2M157.5 45.8h1.2M140.7 78.6h1.2M128.1 80.3h1.2M123.4 78.8h1.2M168.0 41.4h1.2M168.6 43.7h1.2M83.3 110.5h1.2M113.7 89.7h1.2M175.0 35.6h1.2M112.3 64.3h1.2M97.6 91.7h1.2M131.3 67.3h1.2M130.9 71.7h1.2M134.0 74.3h1.2M123.3 79.9h1.2M122.1 71.5h1.2M122.3 77.8h1.2M140.6 62.6h1.2M112.8 83.6h1.2M127.7 76.2h1.2M133.5 75.8h1.2M163.5 44.1h1.2M139.4 59.8h1.2M128.1 69.0h1.2M144.2 57.5h1.2M142.6 61.5h1.2M160.1 49.9h1.2M148.3 62.9h1.2M173.8 33.7h1.2M166.3 45.2h1.2M138.8 76.7h1.2M121.4 75.2h1.2M153.2 51.8h1.2M143.0 57.3h1.2M136.5 76.6h1.2M97.2 96.3h1.2M79.8 94.2h1.2M143.3 64.7h1.2M153.3 56.6h1.2M152.4 54.4h1.2M106.7 97.6h1.2M162.5 54.5h1.2M123.7 82.6h1.2M142.8 62.4h1.2M146.4 64.8h1.2M115.7 86.0h1.2M112.7 74.2h1.2M82.5 106.9h1.2M115.2 90.3h1.2M89.8 102.8h1.2M145.5 63.1h1.2M137.3 70.8h1.2M158.9 56.1h1.2M148.4 69.3h1.2M122.9 86.1h1.2M145.5 66.9h1.2M128.9 81.7h1.2M134.5 44.9h1.2M140.5 63.2h1.2M113.5 91.7h1.2M134.4 70.5h1.2M139.8 73.6h1.2M130.4 79.6h1.2M155.8 53.9h1.2M174.1 37.4h1.2M127.6 79.4h1.2M122.8 73.9h1.2M91.8 123.5h1.2M132.1 73.7h1.2M125.5 80.2h1.2M78.0 106.3h1.2M140.0 63.9h1.2M148.1 59.1h1.2M117.9 85.3h1.2M120.4 72.5h1.2M112.4 89.7h1.2M152.6 56.3h1.2M104.0 104.7h1.2M129.1 78.6h1.2M179.0 32.1h1.2M138.4 72.4h1.2M143.3 59.6h1.2M128.7 71.2h1.2M109.0 95.1h1.2M133.5 71.1h1.2M139.6 58.6h1.2M112.2 91.9h1.2M144.6 66.2h1.2M163.5 46.7h1.2M159.3 49.9h1.2M93.3 96.9h1.2M112.1 89.8h1.2M90.3 95.3h1.2M160.8 51.3h1.2M144.7 55.0h1.2M149.8 56.1h1.2M109.0 82.6h1.2M107.3 93.1h1.2M136.5 69.4h1.2M136.1 68.0h1.2M113.9 86.4h1.2M145.4 75.4h1.2M150.2 58.9h1.2M136.2 62.7h1.2M106.2 86.7h1.2M92.0 118.0h1.2M126.2 73.4h1.2M138.0 67.2h1.2M125.9 73.2h1.2M130.4 84.7h1.2M120.5 86.1h1.2M149.6 55.3h1.2M133.0 71.4h1.2M138.3 69.2h1.2M116.1 93.6h1.2M126.4 88.9h1.2M139.9 69.1h1.2M97.7 76.9h1.2M102.2 92.0h1.2M126.8 77.0h1.2M158.4 43.5h1.2M143.5 71.5h1.2M166.1 40.2h1.2M127.3 69.2h1.2M130.9 80.3h1.2M101.8 97.3h1.2M125.0 85.6h1.2M166.1 41.2h1.2M141.4 63.6h1.2M150.9 55.9h1.2M151.1 57.2h1.2M136.0 72.6h1.2M129.0 73.9h1.2M133.9 65.0h1.2M148.7 56.3h1.2M139.8 56.6h1.2M145.5 60.8h1.2M137.0 66.6h1.2M109.6 78.6h1.2M125.6 72.9h1.2M105.3 81.7h1.2M156.6 50.0h1.2M84.8 110.5h1.2M127.6 73.1h1.2M189.3 23.9h1.2M125.0 75.7h1.2M101.8 86.3h1.2M132.8 69.8h1.2M165.1 46.4h1.2M131.2 74.2h1.2M149.3 59.3h1.2M136.3 68.2h1.2M130.0 82.0h1.2M130.3 63.5h1.2M124.7 83.7h1.2M128.3 85.3h1.2M141.8 61.8h1.2M141.4 60.2h1.2M155.0 58.3h1.2M134.9 65.1h1.2M101.3 98.4h1.2M148.3 61.8h1.2M105.1 54.7h1.2M124.6 73.0h1.2M99.4 98.7h1.2M122.5 83.1h1.2M117.1 84.2h1.2M135.2 72.9h1.2M85.7 83.9h1.2M134.4 68.5h1.2M128.4 59.4h1.2M111.6 95.4h1.2M119.3 82.1h1.2M107.6 80.4h1.2M154.3 51.9h1.2M79.1 122.9h1.2M130.1 80.8h1.2M99.5 106.3h1.2M123.7 78.3h1.2M155.7 55.8h1.2M119.0 82.0h1.2M132.5 62.8h1.2M120.3 92.4h1.2M179.5 33.1h1.2M146.8 44.2h1.2M160.6 48.8h1.2M104.7 97.4h1.2M107.8 90.8h1.2M161.5 51.7h1.2M130.8 75.3h1.2M127.9 75.1h1.2M142.6 64.6h1.2M99.9 89.6h1.2M153.8 57.1h1.2M136.5 71.9h1.2M143.3 59.1h1.2M117.0 81.7h1.2M139.2 53.6h1.2M115.3 81.5h1.2M158.7 54.2h1.2M160.1 48.2h1.2M154.6 52.0h1.2M147.4 61.6h1.2M149.9 59.1h1.2M74.6 125.9h1.2M150.1 50.8h1.2M125.9 73.8h1.2M143.5 75.5h1.2M125.7 74.0h1.2M95.1 90.6h1.2M117.9 77.1h1.2M150.0 58.1h1.2M176.1 51.8h1.2M119.6 82.3h1.2M115.5 90.1h1.2M168.0 42.3h1.2M108.1 81.9h1.2M182.6 30.5h1.2M134.7 68.7h1.2M116.4 90.2h1.2M156.4 50.6h1.2M173.9 38.0h1.2M102.7 99.9h1.2M169.2 39.0h1.2M125.8 73.9h1.2M168.9 41.8h1.2M129.0 81.4h1.2M94.9 98.2h1.2M144.2 59.1h1.2M150.9 47.6h1.2M182.9 29.9h1.2M174.2 37.0h1.2M146.6 53.2h1.2M126.0 72.3h1.2M122.0 80.3h1.2M128.9 77.6h1.2M119.4 90.8h1.2M126.2 74.1h1.2M76.8 121.2h1.2M138.7 67.3h1.2M131.4 68.8h1.2M150.8 54.7h1.2M118.6 75.2h1.2M149.1 61.2h1.2M114.4 102.6h1.2M116.9 78.8h1.2M88.7 104.4h1.2M165.8 40.9h1.2M148.3 59.2h1.2M107.1 93.3h1.2M126.8 65.7h1.2M153.9 49.7h1.2M147.8 62.9h1.2M144.8 64.6h1.2M128.3 100.8h1.2M123.0 86.3h1.2M133.3 65.5h1.2M155.9 52.9h1.2M134.8 79.3h1.2M67.3 139.5h1.2M103.4 97.1h1.2M100.1 91.6h1.2M126.3 79.1h1.2M99.5 96.0h1.2M131.1 70.4h1.2M55.8 137.5h1.2M79.4 92.5h1.2M83.4 123.7h1.2M56.4 137.0h1.2M91.9 104.2h1.2M74.8 119.0h1.2M111.4 90.4h1.2M76.0 108.6h1.2M122.8 81.1h1.2M111.9 91.7h1.2M86.2 113.8h1.2M74.2 126.4h1.2M63.3 127.6h1.2M67.9 120.8h1.2M77.8 129.5h1.2M60.7 145.3h1.2M77.6 109.1h1.2M119.9 79.8h1.2M97.2 114.6h1.2M67.4 138.2h1.2M79.1 109.3h1.2M65.1 148.9h1.2M109.6 99.6h1.2M75.2 114.6h1.2M100.9 96.4h1.2M72.8 105.0h1.2M85.9 111.8h1.2M70.9 131.8h1.2M66.7 106.8h1.2M91.5 121.5h1.2M64.7 119.9h1.2M118.3 85.9h1.2M59.8 132.3h1.2M56.4 133.6h1.2M70.6 125.4h1.2M113.8 88.8h1.2M117.6 81.4h1.2M87.8 102.7h1.2M72.9 124.8h1.2M106.4 106.0h1.2M113.7 81.3h1.2M98.9 95.3h1.2M107.2 95.8h1.2M71.6 118.1h1.2M99.0 106.2h1.2M60.1 139.1h1.2M69.9 120.4h1.2M84.1 102.7h1.2M131.4 74.3h1.2M91.5 111.1h1.2M127.0 73.5h1.2M100.6 101.5h1.2M86.2 103.6h1.2M97.5 95.4h1.2M73.8 125.5h1.2M98.5 97.2h1.2M71.0 141.3h1.2M61.1 145.1h1.2M67.4 134.9h1.2M85.6 104.3h1.2M65.8 103.9h1.2M119.2 86.9h1.2M83.4 110.4h1.2M86.8 106.3h1.2M102.3 91.0h1.2M121.1 83.8h1.2M92.1 103.4h1.2M82.8 116.7h1.2M93.6 101.3h1.2M87.8 107.3h1.2M118.4 80.7h1.2M97.3 95.1h1.2M106.5 96.3h1.2M83.1 150.1h1.2M94.7 104.5h1.2M71.2 141.3h1.2M62.0 132.1h1.2M95.1 90.5h1.2M66.7 148.0h1.2M116.8 88.3h1.2M86.3 107.6h1.2M88.2 120.6h1.2M95.6 107.1h1.2M121.5 92.3h1.2M100.5 104.6h1.2M89.8 114.0h1.2M59.0 119.5h1.2M100.6 124.0h1.2M132.6 71.1h1.2M100.5 114.4h1.2M105.4 135.9h1.2M128.9 85.2h1.2M99.3 73.8h1.2M127.7 74.4h1.2M97.9 110.5h1.2M56.1 148.2h1.2M85.6 101.2h1.2M101.2 98.2h1.2M120.9 80.5h1.2M67.1 138.4h1.2M103.2 119.9h1.2M76.1 129.1h1.2M88.0 142.7h1.2M72.1 116.3h1.2M75.6 115.2h1.2M74.8 143.7h1.2M61.5 114.0h1.2M57.0 144.5h1.2M66.1 122.6h1.2M104.2 94.8h1.2M131.3 70.4h1.2M119.9 80.2h1.2M104.1 109.9h1.2M124.3 81.5h1.2M93.8 92.4h1.2M102.5 91.8h1.2M123.2 78.4h1.2M92.0 118.5h1.2M60.6 121.3h1.2M81.9 141.2h1.2M66.7 146.6h1.2M96.9 99.0h1.2M128.8 75.5h1.2M77.9 125.0h1.2M75.9 129.3h1.2M90.2 99.7h1.2M130.2 69.5h1.2M70.7 137.6h1.2M108.0 93.6h1.2M117.0 71.2h1.2M65.0 133.1h1.2M125.7 76.6h1.2M106.7 88.4h1.2M97.2 97.5h1.2M57.9 139.8h1.2M69.0 135.8h1.2M115.6 70.8h1.2M115.7 86.4h1.2M88.0 109.0h1.2M58.3 136.8h1.2M111.7 90.3h1.2M122.8 135.8h1.2M125.4 71.5h1.2M103.2 88.8h1.2M75.1 124.7h1.2M90.1 102.9h1.2M128.6 80.7h1.2M63.0 113.1h1.2M75.4 141.1h1.2M67.4 122.3h1.2M63.4 135.4h1.2M83.4 108.1h1.2M125.5 80.8h1.2M126.6 71.1h1.2M95.0 109.0h1.2M102.9 98.1h1.2M90.8 111.6h1.2M62.4 143.2h1.2M93.1 144.0h1.2M73.3 131.7h1.2M120.2 89.8h1.2M66.6 141.2h1.2M90.1 109.5h1.2M91.2 102.4h1.2M70.9 128.2h1.2M122.9 71.9h1.2M70.1 127.0h1.2M80.6 138.5h1.2M99.8 91.7h1.2M88.1 116.9h1.2M106.2 92.1h1.2M57.6 147.8h1.2M102.2 86.2h1.2M71.8 118.6h1.2M123.4 85.4h1.2M68.7 142.2h1.2M121.0 81.9h1.2M76.5 128.1h1.2M108.4 86.3h1.2M68.7 137.6h1.2M97.4 113.9h1.2M116.3 82.4h1.2M100.6 107.2h1.2M115.7 96.6h1.2M133.8 74.1h1.2M56.1 119.2h1.2M119.5 78.1h1.2M73.4 91.0h1.2M112.2 89.6h1.2M83.2 99.5h1.2M130.0 88.1h1.2M94.7 103.9h1.2M70.9 108.0h1.2M85.3 117.4h1.2M127.3 78.4h1.2M93.3 104.6h1.2M92.5 126.3h1.2M96.3 103.4h1.2M86.7 104.2h1.2M98.2 102.5h1.2M117.7 84.3h1.2M71.2 141.8h1.2M92.5 103.7h1.2M82.1 108.8h1.2M127.0 80.9h1.2M55.6 143.6h1.2M81.2 108.3h1.2M66.9 131.3h1.2M92.7 127.2h1.2M103.0 95.7h1.2M69.0 127.9h1.2M95.1 91.9h1.2M91.9 110.1h1.2M124.8 77.7h1.2M117.6 65.9h1.2M96.6 110.2h1.2M132.1 71.3h1.2M73.7 148.0h1.2M63.1 126.4h1.2M77.1 113.1h1.2M84.6 109.6h1.2M116.1 84.9h1.2M80.4 116.5h1.2M109.7 100.1h1.2M70.9 147.5h1.2M126.9 84.3h1.2M75.8 139.3h1.2M65.3 127.7h1.2M96.8 105.1h1.2M55.7 124.5h1.2M96.2 107.1h1.2M112.7 96.7h1.2M68.3 108.8h1.2M75.4 124.7h1.2M63.4 128.6h1.2M122.9 81.6h1.2M99.5 99.6h1.2M104.1 88.5h1.2M81.4 123.0h1.2M89.6 116.0h1.2M75.5 147.6h1.2M66.1 137.4h1.2M125.7 78.9h1.2M111.4 97.4h1.2M89.5 123.7h1.2M82.3 106.8h1.2M59.2 123.1h1.2M115.3 87.8h1.2M69.8 133.3h1.2M111.3 92.4h1.2M61.4 124.6h1.2M131.0 76.0h1.2M95.4 117.0h1.2M85.6 105.4h1.2M80.4 107.0h1.2M123.7 100.5h1.2M84.2 102.6h1.2M111.7 86.0h1.2M83.0 101.4h1.2M75.9 113.3h1.2M68.7 112.6h1.2M91.5 111.3h1.2M90.7 94.9h1.2M99.0 88.9h1.2M124.2 78.8h1.2M99.8 98.1h1.2M133.6 69.9h1.2M101.5 98.3h1.2M69.3 137.6h1.2M96.7 90.2h1.2M95.1 87.6h1.2M99.8 106.1h1.2M80.8 128.5h1.2M67.5 100.9h1.2M58.8 129.0h1.2M126.6 77.5h1.2M56.0 115.2h1.2M84.8 98.4h1.2M60.0 144.3h1.2M121.4 83.9h1.2M79.5 109.7h1.2M62.1 112.3h1.2M58.1 124.4h1.2M89.4 99.9h1.2M74.7 140.8h1.2M91.0 103.2h1.2M73.3 135.3h1.2M120.7 84.6h1.2M105.2 97.1h1.2M110.0 96.5h1.2M129.0 84.9h1.2M119.2 89.7h1.2M72.3 129.8h1.2M88.9 103.1h1.2M68.0 138.1h1.2M59.2 139.0h1.2M107.1 102.4h1.2M62.5 134.1h1.2M81.3 122.0h1.2M98.5 90.9h1.2M66.7 143.5h1.2M89.0 105.3h1.2M84.7 114.5h1.2M112.4 72.7h1.2M72.5 134.6h1.2M95.0 116.6h1.2M82.6 120.3h1.2M119.7 84.3h1.2M73.5 128.9h1.2M96.6 89.7h1.2M81.4 123.8h1.2M118.4 83.8h1.2M57.8 139.6h1.2M98.1 127.5h1.2M90.3 108.2h1.2M112.7 86.2h1.2M61.7 113.3h1.2M82.1 113.3h1.2M98.4 108.9h1.2M94.4 113.1h1.2M118.7 110.1h1.2M103.3 87.8h1.2M57.6 134.1h1.2M87.4 124.6h1.2M59.8 123.0h1.2M83.7 130.6h1.2M96.8 147.9h1.2M132.4 78.5h1.2M128.9 74.6h1.2M71.6 136.7h1.2M120.8 82.7h1.2M115.4 80.4h1.2M130.9 78.9h1.2M68.4 115.1h1.2M102.2 106.0h1.2M120.5 74.9h1.2M125.0 92.3h1.2M108.4 93.0h1.2M85.0 112.9h1.2M122.3 75.1h1.2M123.2 81.9h1.2M122.8 149.3h1.2M92.7 130.1h1.2M64.4 116.4h1.2M75.4 118.6h1.2M80.2 111.4h1.2M121.7 77.0h1.2M130.0 76.1h1.2M97.4 125.8h1.2M132.3 74.1h1.2M70.9 102.4h1.2M75.8 113.9h1.2M92.6 141.3h1.2M120.7 78.3h1.2M63.2 129.0h1.2M117.6 82.0h1.2M73.6 102.4h1.2M92.5 100.7h1.2M124.8 81.6h1.2M84.3 111.9h1.2M59.1 126.3h1.2M80.0 101.1h1.2M82.7 109.3h1.2M60.3 135.4h1.2M81.8 134.0h1.2M104.9 89.0h1.2M146.4 83.2h1.2M56.9 131.5h1.2M63.6 131.3h1.2M76.3 122.5h1.2M74.9 124.6h1.2M96.1 89.9h1.2M128.2 83.1h1.2M57.2 129.5h1.2M114.8 85.4h1.2M67.0 128.3h1.2M74.1 117.6h1.2M131.1 86.6h1.2M77.2 126.7h1.2M107.7 97.9h1.2M101.6 92.6h1.2M79.7 115.1h1.2M106.8 101.9h1.2M89.7 111.4h1.2M119.4 85.3h1.2M89.9 122.3h1.2M66.4 150.1h1.2M55.9 147.0h1.2M86.6 115.0h1.2M84.1 118.5h1.2M102.4 103.0h1.2M115.0 77.0h1.2M103.4 92.6h1.2M97.4 92.6h1.2M117.1 82.5h1.2M101.8 95.3h1.2M81.1 107.3h1.2M123.8 83.8h1.2M65.6 131.8h1.2M91.7 135.3h1.2M123.4 80.5h1.2M70.5 149.9h1.2M127.5 79.3h1.2M97.7 121.8h1.2M131.6 104.6h1.2M84.2 128.4h1.2M107.7 72.5h1.2M88.7 133.9h1.2M123.1 92.6h1.2M58.7 124.6h1.2M110.8 94.0h1.2M77.5 109.6h1.2M108.1 106.5h1.2M111.4 95.6h1.2M128.0 65.6h1.2M66.3 125.8h1.2M122.3 82.1h1.2M118.8 81.9h1.2M122.1 81.4h1.2M62.8 138.9h1.2M72.2 87.7h1.2M75.4 114.6h1.2M86.4 99.3h1.2M61.7 132.0h1.2M78.7 119.4h1.2M68.2 119.1h1.2M110.3 86.1h1.2M128.7 67.4h1.2M119.7 74.5h1.2M132.2 70.7h1.2M110.5 85.5h1.2M129.2 80.3h1.2M134.7 86.9h1.2M110.3 88.6h1.2M62.0 133.3h1.2M115.5 78.5h1.2M116.3 85.1h1.2M75.2 133.7h1.2M83.2 126.2h1.2M116.9 83.4h1.2M82.3 121.6h1.2M78.6 131.5h1.2M125.7 81.3h1.2M98.3 96.9h1.2M69.5 128.1h1.2M95.2 95.4h1.2M121.5 89.8h1.2M118.0 85.9h1.2M125.8 89.8h1.2M62.5 126.7h1.2M65.7 136.5h1.2M112.5 87.8h1.2M58.9 141.3h1.2M113.4 87.6h1.2M100.9 79.1h1.2M131.6 72.6h1.2M77.0 124.6h1.2M112.6 83.5h1.2M67.8 133.0h1.2M111.0 88.2h1.2M97.4 106.2h1.2M108.4 101.7h1.2M91.2 106.7h1.2M90.4 111.2h1.2M86.0 95.1h1.2M56.2 149.4h1.2M74.9 128.7h1.2M91.4 109.4h1.2M61.7 133.8h1.2M84.6 120.8h1.2M72.8 115.8h1.2M69.7 138.1h1.2M128.7 78.0h1.2M129.6 76.1h1.2M80.4 110.6h1.2M82.6 138.7h1.2M97.1 96.8h1.2M122.8 79.6h1.2M117.9 89.7h1.2M65.0 133.3h1.2M101.6 93.6h1.2M125.1 70.0h1.2M98.4 114.1h1.2M70.8 131.7h1.2M69.4 134.3h1.2M102.7 102.7h1.2M68.6 149.8h1.2M68.4 109.1h1.2M129.8 78.9h1.2M72.6 126.6h1.2M65.5 125.4h1.2M126.5 74.9h1.2M62.3 74.2h1.2M84.4 98.3h1.2M62.8 139.5h1.2M104.2 105.2h1.2M65.7 114.3h1.2M97.2 115.8h1.2M67.3 112.6h1.2M123.7 82.0h1.2M100.9 92.9h1.2M130.9 74.7h1.2M66.5 128.1h1.2M60.7 126.9h1.2M67.7 129.5h1.2M66.2 124.4h1.2M62.0 145.7h1.2M80.4 144.1h1.2M116.4 78.3h1.2M81.3 117.6h1.2M121.4 90.1h1.2M60.2 143.1h1.2M133.9 78.6h1.2M79.6 103.0h1.2M66.9 131.6h1.2M59.4 141.3h1.2M109.3 116.1h1.2M94.3 101.2h1.2M57.6 140.6h1.2M115.1 134.3h1.2M73.7 108.6h1.2M116.9 80.8h1.2M82.3 97.3h1.2M119.5 83.6h1.2M127.0 69.0h1.2M59.5 117.3h1.2M112.0 88.9h1.2M65.4 137.4h1.2M128.6 74.2h1.2M60.9 139.6h1.2M73.3 107.5h1.2M132.5 72.3h1.2M97.9 100.8h1.2M94.1 108.2h1.2M98.6 102.3h1.2M74.3 115.7h1.2M122.1 79.0h1.2M97.0 85.3h1.2M68.3 107.6h1.2M72.6 138.2h1.2M65.5 125.5h1.2M68.0 121.2h1.2M126.2 76.0h1.2M92.7 112.0h1.2M77.4 94.8h1.2M92.2 92.5h1.2M133.3 73.9h1.2M108.8 92.6h1.2M72.4 128.5h1.2M123.8 82.2h1.2M61.5 121.8h1.2M103.8 95.7h1.2M115.7 77.2h1.2M124.6 81.7h1.2M94.3 115.3h1.2M96.2 138.7h1.2M99.4 94.2h1.2M61.3 137.2h1.2M119.2 84.5h1.2M110.8 98.8h1.2M71.3 131.5h1.2M64.6 120.9h1.2M124.1 73.0h1.2M79.8 114.4h1.2M95.6 101.2h1.2M131.0 79.7h1.2M82.1 127.4h1.2M128.7 74.7h1.2M61.7 126.0h1.2M99.9 91.8h1.2M80.3 128.3h1.2M113.8 80.2h1.2M86.7 107.4h1.2M104.3 97.4h1.2M79.3 132.5h1.2M86.8 97.7h1.2M105.5 96.3h1.2M74.6 123.5h1.2M79.8 108.2h1.2M121.6 86.0h1.2M123.2 72.3h1.2M64.4 118.2h1.2M120.0 84.7h1.2M78.8 115.0h1.2M129.2 71.0h1.2M106.3 85.4h1.2M90.2 140.5h1.2M119.0 82.2h1.2M90.8 108.8h1.2M110.0 98.0h1.2M124.6 81.6h1.2M85.6 97.8h1.2M129.3 75.0h1.2M78.2 123.2h1.2M65.4 114.1h1.2M97.2 98.5h1.2M92.3 135.9h1.2M104.6 93.7h1.2M92.1 113.0h1.2M110.6 93.4h1.2M118.3 85.9h1.2M108.8 123.0h1.2M124.8 76.4h1.2M115.1 90.8h1.2M121.8 83.8h1.2M93.6 95.9h1.2M85.0 141.7h1.2M124.6 83.8h1.2M82.7 128.8h1.2M102.8 85.4h1.2M93.2 96.4h1.2M126.7 80.8h1.2M122.2 83.3h1.2M65.4 116.3h1.2M87.0 107.3h1.2M66.5 121.3h1.2M78.8 108.4h1.2M130.0 72.6h1.2M119.6 77.6h1.2M69.3 129.4h1.2M100.2 93.6h1.2M129.5 75.0h1.2M86.7 138.1h1.2M118.5 82.1h1.2M109.3 82.2h1.2M125.4 82.0h1.2M123.3 73.5h1.2M130.4 70.0h1.2M107.9 110.4h1.2M99.6 107.7h1.2M108.4 97.2h1.2M110.2 92.3h1.2M116.6 78.7h1.2M72.2 136.1h1.2M117.5 86.7h1.2M59.1 134.0h1.2M57.6 131.9h1.2M116.8 93.6h1.2M80.6 117.7h1.2M116.9 82.4h1.2M94.8 91.2h1.2M120.1 84.6h1.2M115.2 90.0h1.2M111.0 69.0h1.2M75.6 142.6h1.2M63.0 115.8h1.2M100.9 104.2h1.2M91.7 103.3h1.2M114.5 90.9h1.2M111.4 82.3h1.2M84.4 146.1h1.2M105.0 88.0h1.2M98.5 91.3h1.2M58.2 125.3h1.2M75.9 143.3h1.2M60.2 139.7h1.2M73.7 127.4h1.2M58.2 137.9h1.2M77.6 115.4h1.2M117.9 81.6h1.2M118.1 77.6h1.2M80.8 124.5h1.2M67.4 135.7h1.2M94.1 89.3h1.2M77.2 120.6h1.2M87.2 101.2h1.2M95.1 79.0h1.2M96.6 94.5h1.2M113.1 74.8h1.2M62.1 125.5h1.2M91.3 114.1h1.2M106.4 112.1h1.2M83.4 116.6h1.2M60.7 147.3h1.2M72.5 120.6h1.2M130.7 76.8h1.2M71.6 123.5h1.2M98.4 87.2h1.2M57.3 101.3h1.2M65.8 149.3h1.2M109.3 87.0h1.2M67.4 107.0h1.2M63.1 128.6h1.2M133.4 71.9h1.2M123.7 81.9h1.2M59.7 129.0h1.2M76.7 115.2h1.2M87.1 101.6h1.2M55.9 142.8h1.2M76.2 116.0h1.2M61.9 127.6h1.2M114.8 85.3h1.2M131.9 69.6h1.2M60.5 134.9h1.2M69.9 127.0h1.2M122.3 74.3h1.2M119.6 86.8h1.2M90.1 111.6h1.2M77.3 123.7h1.2M96.9 104.3h1.2M68.1 124.5h1.2M121.6 65.8h1.2M60.4 138.0h1.2M115.7 84.4h1.2M64.3 132.9h1.2M98.7 98.3h1.2M69.6 109.4h1.2M85.5 107.5h1.2M80.4 103.1h1.2M86.2 90.1h1.2M130.0 71.5h1.2M75.1 127.6h1.2M94.1 94.4h1.2M129.1 68.2h1.2M73.7 117.9h1.2M66.5 125.5h1.2M60.3 114.3h1.2M66.0 124.5h1.2M131.3 70.3h1.2M74.0 92.0h1.2M56.8 136.4h1.2M116.6 82.3h1.2M109.8 79.1h1.2M58.4 131.4h1.2M127.4 73.8h1.2M59.9 141.8h1.2M116.0 82.7h1.2M67.6 129.2h1.2M85.9 100.7h1.2M66.0 126.9h1.2M79.2 134.8h1.2M126.3 74.7h1.2M128.2 81.0h1.2M104.3 90.3h1.2M65.0 127.9h1.2M96.1 96.0h1.2M106.3 92.0h1.2M106.3 88.4h1.2M109.4 86.4h1.2M71.8 117.5h1.2M71.1 108.6h1.2M134.5 82.7h1.2M83.0 118.9h1.2M100.2 105.8h1.2M122.8 74.1h1.2M121.4 82.4h1.2M101.9 85.3h1.2M94.8 104.7h1.2M55.9 131.1h1.2M110.6 92.2h1.2M76.2 117.8h1.2M106.4 95.7h1.2M128.4 75.3h1.2M106.4 80.6h1.2M124.5 80.5h1.2M123.8 84.4h1.2M99.5 100.0h1.2M86.3 94.3h1.2M74.5 132.1h1.2M61.4 135.9h1.2M81.5 118.7h1.2M98.0 97.9h1.2M107.0 92.3h1.2M135.5 124.6h1.2M62.6 117.0h1.2M62.5 118.9h1.2M108.8 87.7h1.2M135.2 76.0h1.2M65.7 108.2h1.2M56.7 123.9h1.2M128.9 69.7h1.2M120.7 76.4h1.2M110.1 88.4h1.2M80.1 137.0h1.2M101.0 95.0h1.2M74.1 124.3h1.2M99.7 101.5h1.2M78.2 118.3h1.2M128.1 79.6h1.2M81.1 115.4h1.2M116.1 86.3h1.2M84.3 97.2h1.2M69.6 119.3h1.2M133.1 75.3h1.2M126.6 79.3h1.2M131.8 71.4h1.2M117.3 80.8h1.2M99.6 106.2h1.2M96.8 101.3h1.2M129.8 78.9h1.2M87.3 126.0h1.2M115.3 83.3h1.2M105.1 82.2h1.2M117.9 79.6h1.2M97.1 134.2h1.2M90.9 90.0h1.2M109.3 93.3h1.2M124.7 77.4h1.2M119.2 84.9h1.2M77.1 118.5h1.2M64.3 141.5h1.2M110.9 86.8h1.2M69.8 144.4h1.2M130.5 71.5h1.2M56.9 124.3h1.2M117.7 79.5h1.2M102.4 132.5h1.2M123.6 71.5h1.2M76.8 140.1h1.2M123.2 72.9h1.2M65.8 128.1h1.2M66.2 102.4h1.2M98.8 101.4h1.2M92.9 109.7h1.2M100.0 95.8h1.2M105.8 97.0h1.2M59.2 127.9h1.2M105.2 91.4h1.2M96.7 105.2h1.2M91.2 106.3h1.2M84.7 112.1h1.2M127.4 76.5h1.2M79.9 143.1h1.2M126.3 78.4h1.2M94.9 86.5h1.2M129.8 76.6h1.2M108.7 86.5h1.2M68.0 135.7h1.2M73.6 112.8h1.2M102.5 93.2h1.2M66.5 132.3h1.2M131.3 76.4h1.2M61.3 129.9h1.2M67.5 122.8h1.2M74.6 124.6h1.2M72.9 135.6h1.2M63.8 142.8h1.2M61.4 131.1h1.2M118.7 113.9h1.2M80.4 129.1h1.2M108.7 95.1h1.2M73.2 110.3h1.2M63.7 119.2h1.2M124.9 78.9h1.2M82.3 117.0h1.2M63.8 124.2h1.2M114.0 72.6h1.2M94.9 84.7h1.2M106.9 98.3h1.2M111.8 83.4h1.2M106.7 91.5h1.2M104.3 101.1h1.2M66.4 125.2h1.2M106.6 103.9h1.2M59.2 135.3h1.2M68.6 121.8h1.2M99.1 95.0h1.2M126.9 74.0h1.2M65.2 120.7h1.2M95.3 91.0h1.2M124.3 79.6h1.2M74.5 129.1h1.2M56.3 142.7h1.2M133.1 77.4h1.2M107.6 85.8h1.2M132.6 69.0h1.2M117.2 94.3h1.2M83.3 126.5h1.2M93.1 116.0h1.2M121.8 76.3h1.2M100.5 81.4h1.2M79.0 114.1h1.2M115.0 91.1h1.2M84.4 103.2h1.2M100.4 96.9h1.2M131.0 73.1h1.2M131.5 71.6h1.2M113.4 79.2h1.2M91.5 105.1h1.2M60.5 122.1h1.2M101.1 102.3h1.2M108.9 86.2h1.2M124.8 86.5h1.2M123.9 75.6h1.2M65.8 130.8h1.2M95.4 114.0h1.2M125.9 71.7h1.2M111.0 91.0h1.2M78.8 116.8h1.2M117.1 81.7h1.2M121.6 76.6h1.2M110.8 88.9h1.2M58.7 123.0h1.2M74.8 121.3h1.2M91.8 103.3h1.2M125.5 76.5h1.2M74.8 147.8h1.2M70.6 111.8h1.2M57.6 130.7h1.2M118.6 89.2h1.2M100.0 95.0h1.2M86.3 117.0h1.2M72.4 115.4h1.2M60.3 129.4h1.2M91.9 70.6h1.2M81.0 109.8h1.2M92.9 96.6h1.2M132.8 70.2h1.2M135.4 72.1h1.2M64.1 125.6h1.2M135.5 75.8h1.2M127.7 69.0h1.2M117.5 104.2h1.2M92.0 98.3h1.2M66.1 111.3h1.2M110.0 85.3h1.2M97.2 99.5h1.2M56.4 132.8h1.2M76.1 104.6h1.2M108.2 96.9h1.2M82.6 87.5h1.2M90.7 109.5h1.2M110.7 94.4h1.2M57.4 150.0h1.2M101.3 106.1h1.2M80.6 119.0h1.2M115.0 80.9h1.2M130.2 71.6h1.2M82.8 131.2h1.2M77.8 118.9h1.2M83.1 101.4h1.2M126.2 78.8h1.2M97.1 105.6h1.2M77.0 138.8h1.2M100.0 97.2h1.2M76.7 134.1h1.2M91.5 108.2h1.2M89.4 104.4h1.2M81.5 112.0h1.2M97.7 98.0h1.2M86.1 100.7h1.2M86.0 99.6h1.2M108.2 91.9h1.2M115.2 96.2h1.2M85.5 89.9h1.2M112.1 104.5h1.2M76.6 121.3h1.2M125.0 75.3h1.2M112.6 80.1h1.2M124.6 65.2h1.2M83.2 117.0h1.2M125.7 82.7h1.2M120.1 79.5h1.2M91.2 108.8h1.2M140.1 94.0h1.2M109.0 78.8h1.2M76.6 120.0h1.2M87.6 108.3h1.2M104.3 103.3h1.2M90.2 105.2h1.2M123.1 81.7h1.2M113.2 85.4h1.2M63.1 118.9h1.2M123.6 80.0h1.2M116.2 96.6h1.2M97.9 101.6h1.2M77.4 103.5h1.2M139.1 76.2h1.2M123.8 91.8h1.2M88.4 117.9h1.2M131.9 71.9h1.2M123.2 84.7h1.2M105.3 105.9h1.2M119.9 81.3h1.2M78.9 145.3h1.2M102.1 91.7h1.2M62.1 133.2h1.2M74.3 131.2h1.2M65.3 129.4h1.2M131.8 74.7h1.2M83.3 123.5h1.2M88.9 118.0h1.2M100.3 92.3h1.2M129.6 71.2h1.2M104.6 110.6h1.2M115.2 76.7h1.2M103.6 101.0h1.2M56.1 141.9h1.2M119.2 78.7h1.2M99.5 108.7h1.2M116.0 79.3h1.2M92.1 114.2h1.2M80.9 110.2h1.2M124.4 77.4h1.2M80.4 104.6h1.2M115.1 75.9h1.2M103.1 97.2h1.2M79.0 128.1h1.2M93.3 113.2h1.2M97.9 102.0h1.2M118.5 86.2h1.2M128.5 78.6h1.2M61.8 148.6h1.2M123.1 84.6h1.2M74.6 137.1h1.2M61.6 127.3h1.2M118.9 96.4h1.2M93.9 109.6h1.2M90.1 136.8h1.2M116.5 90.5h1.2M128.7 76.4h1.2M95.0 96.2h1.2M92.3 91.3h1.2M115.2 76.5h1.2M74.0 138.0h1.2M136.0 72.9h1.2M57.0 142.1h1.2M122.2 90.3h1.2M71.0 127.4h1.2M83.3 107.6h1.2M89.8 130.1h1.2M82.4 135.3h1.2M97.3 105.3h1.2M74.4 110.0h1.2M109.5 84.1h1.2M72.5 115.4h1.2M121.1 79.1h1.2M76.6 119.7h1.2M64.6 135.5h1.2M60.3 146.8h1.2M65.4 143.7h1.2M101.6 96.7h1.2M58.8 147.1h1.2M59.7 144.4h1.2M92.5 101.5h1.2M121.9 79.8h1.2M117.3 84.1h1.2M74.2 106.3h1.2M110.7 85.7h1.2M113.1 87.2h1.2M106.7 108.9h1.2M114.7 86.6h1.2M79.8 128.3h1.2M100.6 82.5h1.2M90.7 113.1h1.2M100.3 83.9h1.2M118.5 101.7h1.2M119.0 85.2h1.2M79.8 119.5h1.2M92.0 102.2h1.2M118.6 86.7h1.2M101.5 97.1h1.2M73.6 128.2h1.2M61.7 118.7h1.2M102.6 103.8h1.2M121.5 85.1h1.2M74.3 131.7h1.2M126.9 76.6h1.2M130.6 72.8h1.2M123.2 76.6h1.2M116.8 83.2h1.2M70.3 126.3h1.2M66.9 131.7h1.2M107.1 99.3h1.2M128.3 77.0h1.2M78.8 131.8h1.2M111.8 85.1h1.2M82.4 122.4h1.2M64.6 96.1h1.2M75.9 120.5h1.2M57.3 113.7h1.2M130.5 73.6h1.2M111.4 78.5h1.2M100.7 90.1h1.2M62.6 135.5h1.2M109.4 90.8h1.2M108.2 99.0h1.2M82.8 104.4h1.2M64.7 138.5h1.2M64.6 105.9h1.2M121.0 78.1h1.2M79.5 112.3h1.2M112.8 107.1h1.2M122.8 77.6h1.2M89.8 94.6h1.2M69.7 129.0h1.2M128.2 78.4h1.2M60.7 137.7h1.2M83.2 88.7h1.2M111.8 74.5h1.2M122.0 90.6h1.2M109.6 94.4h1.2M120.2 110.0h1.2M61.3 111.0h1.2M102.0 104.1h1.2M116.2 88.9h1.2M131.8 68.1h1.2M95.0 106.8h1.2M131.8 71.5h1.2M108.7 101.3h1.2M118.5 82.9h1.2M67.9 131.4h1.2M99.3 80.0h1.2M87.4 108.9h1.2M121.4 76.3h1.2M101.4 104.0h1.2M100.1 109.6h1.2M65.3 145.7h1.2M58.2 134.8h1.2M138.6 78.6h1.2M128.5 73.3h1.2M112.1 149.6h1.2M113.1 86.4h1.2M107.8 94.6h1.2M74.4 141.1h1.2M103.0 84.7h1.2M130.4 73.3h1.2M133.5 72.6h1.2M75.2 127.6h1.2M78.0 137.2h1.2M131.0 69.4h1.2M64.3 125.9h1.2M118.2 81.9h1.2M66.9 139.3h1.2M125.7 69.1h1.2M77.6 106.3h1.2M116.5 82.7h1.2M94.4 103.1h1.2M112.4 90.9h1.2M84.1 136.4h1.2M121.5 79.8h1.2M129.6 82.1h1.2M108.0 96.5h1.2M98.2 107.0h1.2M129.8 78.9h1.2M100.2 97.9h1.2M107.7 113.3h1.2M114.0 78.8h1.2M61.4 135.6h1.2M99.9 104.8h1.2M100.7 94.2h1.2M110.4 90.7h1.2M104.9 90.3h1.2M126.4 80.1h1.2M102.6 105.9h1.2M58.3 144.6h1.2M128.1 78.9h1.2M120.0 82.4h1.2M92.4 103.0h1.2M68.2 124.6h1.2M112.3 84.1h1.2M99.6 99.6h1.2M70.3 145.3h1.2M113.9 84.4h1.2M116.4 86.8h1.2M83.7 106.5h1.2M104.8 92.9h1.2M75.8 133.9h1.2M76.2 117.8h1.2M124.2 72.2h1.2M110.9 95.8h1.2M69.2 147.5h1.2M118.4 82.6h1.2M99.4 95.7h1.2M65.7 130.2h1.2M63.2 107.2h1.2M75.6 127.5h1.2M70.8 136.1h1.2M121.0 80.0h1.2M104.1 83.6h1.2M86.1 114.0h1.2M128.1 71.1h1.2M97.2 92.4h1.2M126.5 71.4h1.2M111.1 79.1h1.2M84.7 87.2h1.2M98.8 90.5h1.2M112.0 88.9h1.2M108.3 88.4h1.2M120.8 79.9h1.2M57.2 113.0h1.2M71.8 123.2h1.2M64.9 137.3h1.2M122.0 72.3h1.2M122.1 75.7h1.2M97.9 134.8h1.2M82.6 127.0h1.2M133.3 74.0h1.2M101.6 97.2h1.2M127.6 70.4h1.2M97.1 99.8h1.2M110.0 133.8h1.2M113.3 94.9h1.2M119.7 76.3h1.2M118.8 83.0h1.2M73.5 128.0h1.2M86.1 111.5h1.2M130.0 76.2h1.2M89.8 115.2h1.2M116.4 88.4h1.2M95.4 117.4h1.2M119.5 86.0h1.2M82.5 120.7h1.2M68.7 119.3h1.2M134.1 77.6h1.2M140.0 76.6h1.2M118.7 84.8h1.2M83.4 108.4h1.2M119.9 84.8h1.2M84.6 134.7h1.2M110.8 88.1h1.2M86.9 119.3h1.2M76.4 133.1h1.2M61.3 132.8h1.2M68.7 131.4h1.2M86.9 114.2h1.2M85.9 108.0h1.2M111.5 95.7h1.2M122.8 90.2h1.2M129.2 72.4h1.2M97.7 93.8h1.2M59.4 130.0h1.2M96.2 108.5h1.2M84.3 122.0h1.2M57.7 132.3h1.2M72.0 128.9h1.2M63.2 138.8h1.2M90.1 109.7h1.2M87.4 106.2h1.2M80.6 123.2h1.2M69.3 136.5h1.2M130.1 71.5h1.2M92.4 104.6h1.2M91.8 104.4h1.2M84.0 74.0h1.2M74.9 119.1h1.2M69.0 147.2h1.2M78.0 97.1h1.2M115.5 83.8h1.2M97.5 103.4h1.2M99.7 121.4h1.2M109.8 80.5h1.2M112.5 90.9h1.2M95.2 91.1h1.2M83.3 122.2h1.2M114.0 137.5h1.2M127.9 72.9h1.2M120.9 78.7h1.2M119.9 87.2h1.2M69.6 125.4h1.2M132.7 70.0h1.2M129.4 76.4h1.2M81.2 113.7h1.2M110.4 100.5h1.2M74.0 121.9h1.2M119.4 83.0h1.2M75.9 135.7h1.2M65.3 144.9h1.2M96.0 99.0h1.2M94.3 110.4h1.2M125.2 78.9h1.2M115.3 86.9h1.2M127.9 74.3h1.2M104.9 86.9h1.2M76.6 133.2h1.2M104.4 84.3h1.2M70.8 106.8h1.2M101.5 95.9h1.2M110.7 84.3h1.2M99.4 105.6h1.2M60.1 142.6h1.2M109.0 99.7h1.2M66.9 120.8h1.2M87.4 109.7h1.2M91.1 107.5h1.2M67.9 135.8h1.2M83.5 125.0h1.2M108.7 83.6h1.2M118.6 79.4h1.2M122.0 85.5h1.2M101.6 115.7h1.2M124.6 83.9h1.2M130.5 69.6h1.2M126.4 80.8h1.2M108.9 82.8h1.2M71.7 118.3h1.2M122.7 96.7h1.2M124.6 68.5h1.2M102.1 101.7h1.2M101.8 98.7h1.2M97.2 93.6h1.2M84.4 128.4h1.2M120.8 81.1h1.2M65.0 126.7h1.2M125.9 67.7h1.2M81.4 113.2h1.2M128.1 75.9h1.2M84.3 94.0h1.2M129.0 75.6h1.2M127.2 74.1h1.2M57.5 136.2h1.2M76.6 103.2h1.2M67.0 131.3h1.2M63.8 124.0h1.2M59.6 119.4h1.2M58.4 138.9h1.2M112.4 93.6h1.2M95.3 108.7h1.2M65.4 116.1h1.2M99.6 99.1h1.2M95.8 107.8h1.2M82.7 113.2h1.2M104.9 81.5h1.2M89.3 103.0h1.2M125.9 80.4h1.2M93.0 104.2h1.2M122.0 80.5h1.2M115.6 76.5h1.2M115.3 104.4h1.2M87.8 145.1h1.2M73.2 102.4h1.2M112.4 98.2h1.2M106.0 106.1h1.2M98.0 67.3h1.2M101.9 102.0h1.2M102.0 86.7h1.2M76.1 134.3h1.2M74.1 129.7h1.2M68.2 118.4h1.2M110.0 91.6h1.2M100.9 98.4h1.2M93.8 101.5h1.2M81.8 114.2h1.2M66.2 149.2h1.2M56.9 140.4h1.2M125.5 71.3h1.2M111.8 81.7h1.2M84.7 98.7h1.2M90.2 96.5h1.2M107.9 90.2h1.2M111.3 79.7h1.2M64.9 138.2h1.2M110.3 82.3h1.2M102.5 102.2h1.2M69.7 136.4h1.2M73.1 138.0h1.2M87.1 105.2h1.2M131.2 73.0h1.2M112.3 86.5h1.2M71.8 137.8h1.2M57.1 148.3h1.2M110.5 95.1h1.2M64.3 124.5h1.2M93.3 108.0h1.2M74.7 134.7h1.2M121.5 60.6h1.2M101.6 111.5h1.2M109.0 85.5h1.2M68.8 133.4h1.2M71.5 106.4h1.2M62.0 127.2h1.2M92.0 120.4h1.2M65.9 127.4h1.2M59.0 118.1h1.2M55.7 144.2h1.2M133.3 76.6h1.2M63.7 143.2h1.2M65.6 108.6h1.2M76.7 120.1h1.2M85.6 97.1h1.2M89.3 109.3h1.2M72.6 123.0h1.2M101.6 96.3h1.2M105.1 87.4h1.2M61.1 130.2h1.2M70.7 144.3h1.2M86.3 90.4h1.2M90.2 132.7h1.2M119.3 86.1h1.2M91.8 110.8h1.2M69.2 123.2h1.2M58.3 136.9h1.2M124.4 84.5h1.2M65.2 143.0h1.2M113.9 88.4h1.2M117.8 80.4h1.2M127.9 70.0h1.2M63.6 122.8h1.2M126.9 79.9h1.2M99.0 99.6h1.2M107.4 88.9h1.2M92.0 96.4h1.2M101.4 112.1h1.2M76.3 140.1h1.2M139.0 76.7h1.2M104.5 138.6h1.2M98.9 104.4h1.2M67.3 116.6h1.2M104.2 104.2h1.2M112.6 94.6h1.2M124.0 77.0h1.2M62.8 135.1h1.2M73.0 146.5h1.2M76.9 121.0h1.2M69.5 130.8h1.2M113.8 82.6h1.2M77.9 127.8h1.2M85.1 134.5h1.2M96.0 122.0h1.2M64.7 80.1h1.2M71.1 124.2h1.2M106.3 90.4h1.2M116.8 79.4h1.2M68.2 140.5h1.2M63.9 134.7h1.2M81.8 102.1h1.2M125.0 77.9h1.2M74.7 122.9h1.2M61.7 92.1h1.2M76.0 118.1h1.2M61.0 126.0h1.2M129.6 80.8h1.2M128.4 75.5h1.2M65.4 136.3h1.2M129.5 80.1h1.2M104.4 91.5h1.2M75.5 115.6h1.2M64.9 107.4h1.2M83.3 121.6h1.2M122.8 69.7h1.2M93.1 146.1h1.2M108.3 89.9h1.2M130.8 71.1h1.2M94.7 131.2h1.2M93.8 91.8h1.2M70.2 119.0h1.2M94.5 111.5h1.2M134.4 71.3h1.2M106.9 97.4h1.2M92.3 112.5h1.2M132.6 69.0h1.2M85.0 110.6h1.2M72.1 107.4h1.2M128.9 91.9h1.2M128.5 72.3h1.2M104.1 91.0h1.2M76.2 127.1h1.2M67.6 111.9h1.2M111.9 88.4h1.2M82.7 111.4h1.2M117.5 79.7h1.2M99.2 95.0h1.2M93.6 108.2h1.2M113.0 84.4h1.2M86.4 113.4h1.2M99.3 95.7h1.2M91.4 119.8h1.2M67.0 120.3h1.2M107.4 86.1h1.2M129.3 69.6h1.2M131.2 74.4h1.2M117.2 84.1h1.2M74.7 107.3h1.2M73.5 109.2h1.2M69.6 113.9h1.2M74.9 109.0h1.2M115.6 88.1h1.2M122.4 80.1h1.2M81.8 108.4h1.2M115.3 78.2h1.2M60.3 124.7h1.2M122.8 84.4h1.2M132.7 73.7h1.2M97.8 93.7h1.2M131.0 73.9h1.2M104.3 90.0h1.2M104.9 96.5h1.2M79.3 110.9h1.2M113.6 81.0h1.2M58.5 142.6h1.2M103.9 96.8h1.2M61.2 149.2h1.2M113.9 94.4h1.2M129.2 73.4h1.2M101.8 107.0h1.2M104.7 88.5h1.2M93.8 124.7h1.2M123.3 83.7h1.2M55.8 145.9h1.2M60.1 126.4h1.2M126.2 77.0h1.2M115.8 81.4h1.2M123.8 76.5h1.2M80.7 103.7h1.2M97.0 92.2h1.2M126.9 75.3h1.2M95.4 93.2h1.2M71.0 118.5h1.2M89.9 95.5h1.2M120.6 81.9h1.2M75.3 118.5h1.2M126.0 78.6h1.2M124.6 75.8h1.2M132.9 73.2h1.2M84.8 95.2h1.2M104.2 107.2h1.2M88.2 108.6h1.2M121.5 72.0h1.2M87.0 107.0h1.2M78.9 133.2h1.2M105.8 91.4h1.2M115.6 92.2h1.2M80.8 119.5h1.2M61.4 125.7h1.2M131.4 88.5h1.2M69.0 124.5h1.2M109.9 91.0h1.2M129.8 85.6h1.2M82.5 148.2h1.2M89.8 111.8h1.2M64.9 139.3h1.2M116.5 75.5h1.2M99.5 86.2h1.2M65.9 133.9h1.2M57.7 139.1h1.2M124.0 86.9h1.2M95.2 103.9h1.2M101.7 99.4h1.2M73.7 134.9h1.2M125.2 80.8h1.2M92.1 98.3h1.2M114.4 94.3h1.2M84.9 111.2h1.2M62.0 141.9h1.2M121.5 73.3h1.2M70.6 139.9h1.2M100.0 99.7h1.2M110.4 89.2h1.2M115.6 103.7h1.2M73.5 121.3h1.2M91.6 115.4h1.2M81.9 110.9h1.2M72.1 125.4h1.2M104.6 108.1h1.2M84.9 108.7h1.2M56.2 141.9h1.2M111.3 90.9h1.2M109.3 82.7h1.2M106.1 103.2h1.2M108.5 101.1h1.2M117.3 82.8h1.2M92.3 103.5h1.2M98.1 91.5h1.2M96.7 100.3h1.2M96.6 110.7h1.2M80.9 112.8h1.2M116.2 94.5h1.2M106.0 91.0h1.2M93.6 104.1h1.2M68.5 143.4h1.2M130.0 70.1h1.2M79.0 123.2h1.2M100.2 102.8h1.2M87.2 101.0h1.2M91.5 98.5h1.2M108.3 87.6h1.2M132.5 74.3h1.2M78.9 113.5h1.2M69.5 130.0h1.2M80.2 136.7h1.2M82.4 119.2h1.2M129.9 72.6h1.2M88.3 112.8h1.2M100.4 95.4h1.2M105.1 89.5h1.2M60.9 135.8h1.2M91.7 111.0h1.2M57.1 146.9h1.2M109.9 90.8h1.2M98.9 94.1h1.2M121.9 86.4h1.2M77.4 109.1h1.2M67.2 127.1h1.2M107.2 94.2h1.2M107.8 103.7h1.2M131.3 68.6h1.2M115.0 93.0h1.2M85.3 119.1h1.2M60.7 132.9h1.2M95.4 122.2h1.2M103.0 94.9h1.2M118.2 107.0h1.2M86.4 147.6h1.2M112.8 90.1h1.2M74.0 121.0h1.2M72.4 126.4h1.2M130.6 76.6h1.2M90.0 108.6h1.2M85.4 105.1h1.2M97.2 103.8h1.2M73.1 118.1h1.2M109.1 83.6h1.2M99.2 98.4h1.2M121.6 77.7h1.2M65.5 126.4h1.2M80.6 111.7h1.2M55.7 143.1h1.2M82.1 119.7h1.2M75.9 118.6h1.2M110.3 89.2h1.2M114.9 91.1h1.2M86.2 105.5h1.2M108.6 106.7h1.2M59.2 91.8h1.2M63.3 124.3h1.2M88.3 114.3h1.2M101.9 104.8h1.2M132.7 77.0h1.2M118.3 87.6h1.2M108.8 109.9h1.2M84.9 89.6h1.2M119.7 83.1h1.2M104.1 94.7h1.2M90.1 130.4h1.2M115.1 112.5h1.2M115.0 103.4h1.2M110.5 94.3h1.2M90.7 99.6h1.2M125.9 74.8h1.2M130.6 77.9h1.2M95.3 110.4h1.2M103.2 90.4h1.2M73.9 149.0h1.2M102.6 91.8h1.2M76.9 124.1h1.2M120.4 93.0h1.2M109.0 98.2h1.2M67.1 106.4h1.2M57.7 104.5h1.2M80.7 110.2h1.2M63.0 116.5h1.2M118.3 79.5h1.2M101.6 97.5h1.2M80.8 127.6h1.2M84.1 110.0h1.2M136.2 72.5h1.2M114.7 70.6h1.2M79.8 132.3h1.2M89.6 121.6h1.2M77.3 121.0h1.2M97.8 118.0h1.2M116.2 102.7h1.2M103.6 91.1h1.2M93.5 89.1h1.2M97.1 92.4h1.2M60.2 137.7h1.2M81.5 137.5h1.2M63.2 133.9h1.2M83.8 130.6h1.2M81.7 126.4h1.2M78.1 133.6h1.2M108.0 68.8h1.2M125.1 69.1h1.2M104.0 109.6h1.2M70.0 137.6h1.2M84.1 119.7h1.2M128.5 80.6h1.2M96.8 105.3h1.2M106.0 97.0h1.2M104.6 95.0h1.2M131.5 71.1h1.2M94.0 92.7h1.2M68.5 94.3h1.2M151.7 101.6h1.2M116.8 94.4h1.2M82.7 91.5h1.2M105.4 90.2h1.2M87.2 103.6h1.2M66.3 119.4h1.2M118.2 93.0h1.2M78.8 130.6h1.2M84.7 126.6h1.2M108.2 102.1h1.2M95.3 74.9h1.2M84.9 99.6h1.2M98.8 105.8h1.2M83.0 92.9h1.2M129.5 93.8h1.2M76.4 114.1h1.2M113.2 94.2h1.2M71.5 96.9h1.2M86.4 110.7h1.2M94.3 101.4h1.2M65.5 143.5h1.2M59.1 144.4h1.2M85.0 105.3h1.2M95.3 91.4h1.2M105.7 94.7h1.2M57.8 137.2h1.2M64.6 121.4h1.2M100.0 98.8h1.2M65.5 106.6h1.2M60.4 128.2h1.2M64.2 140.5h1.2M132.4 77.8h1.2M83.1 113.1h1.2M134.4 72.2h1.2M77.4 136.2h1.2M63.1 141.1h1.2M97.1 84.8h1.2M130.1 82.1h1.2M60.3 147.6h1.2M120.5 81.6h1.2M88.3 99.2h1.2M128.7 82.1h1.2M137.6 83.4h1.2M77.1 117.0h1.2M125.2 72.1h1.2M77.8 114.6h1.2M78.8 115.7h1.2M73.4 146.0h1.2M92.5 121.9h1.2M114.2 95.0h1.2M79.5 109.6h1.2M93.5 115.4h1.2M60.2 141.7h1.2M96.2 97.2h1.2M66.5 137.8h1.2M95.3 109.1h1.2M96.3 109.9h1.2M113.9 95.5h1.2M123.3 71.3h1.2M126.3 75.9h1.2M79.5 105.9h1.2M65.0 138.2h1.2M114.2 89.0h1.2M106.1 85.7h1.2M116.8 90.2h1.2M116.8 83.1h1.2M105.8 120.5h1.2M124.6 79.3h1.2M88.2 86.6h1.2M99.4 102.2h1.2M118.6 84.2h1.2M98.1 97.3h1.2M106.8 85.0h1.2M121.1 70.1h1.2M82.4 127.8h1.2M105.2 86.4h1.2M71.6 134.6h1.2M91.0 120.0h1.2M122.0 81.0h1.2M134.0 75.0h1.2M143.9 89.3h1.2M113.5 93.5h1.2M114.6 78.2h1.2M123.0 80.1h1.2M95.4 102.1h1.2M60.3 133.3h1.2M105.7 85.2h1.2M112.1 91.6h1.2M109.0 93.8h1.2M85.4 97.7h1.2M98.9 97.0h1.2M106.5 93.6h1.2M88.8 109.7h1.2M98.0 95.9h1.2M59.8 136.3h1.2M93.0 113.3h1.2M102.0 105.3h1.2M97.8 111.9h1.2M67.3 137.8h1.2M94.5 93.3h1.2M115.5 88.8h1.2M104.6 82.2h1.2M75.0 127.7h1.2M122.1 76.2h1.2M66.9 143.1h1.2M102.9 97.8h1.2M119.1 96.2h1.2M79.8 133.5h1.2M85.6 117.2h1.2M103.0 100.3h1.2M75.7 139.3h1.2M82.7 129.3h1.2M99.6 114.2h1.2M62.9 125.3h1.2M126.6 79.3h1.2M131.6 70.1h1.2M115.3 79.6h1.2M75.1 111.4h1.2M121.8 83.2h1.2M95.0 110.3h1.2M76.7 129.8h1.2M62.0 124.7h1.2M118.9 74.2h1.2M119.0 80.1h1.2M101.5 96.1h1.2M59.9 125.4h1.2M86.0 107.8h1.2M128.6 78.2h1.2M113.4 86.2h1.2M79.4 141.1h1.2M84.0 112.8h1.2M109.6 96.9h1.2M114.3 75.2h1.2M117.2 82.0h1.2M131.5 75.6h1.2M58.0 138.4h1.2M56.6 135.1h1.2M123.6 89.9h1.2M79.8 103.9h1.2M63.0 135.7h1.2M59.7 137.6h1.2M101.8 96.8h1.2M113.3 97.7h1.2M74.5 127.4h1.2M124.8 75.9h1.2M78.4 103.4h1.2M81.8 105.3h1.2M59.8 105.6h1.2M76.5 120.6h1.2M72.4 124.5h1.2M130.0 97.7h1.2M75.1 112.6h1.2M64.9 140.0h1.2M85.6 123.9h1.2M125.7 75.3h1.2M107.2 108.6h1.2M73.0 114.4h1.2M81.2 113.9h1.2M128.6 71.7h1.2M124.9 76.3h1.2M95.4 112.6h1.2M83.4 143.7h1.2M58.3 137.1h1.2M61.5 129.0h1.2M102.7 95.3h1.2M88.7 139.2h1.2M100.4 90.9h1.2M115.6 85.2h1.2M89.0 102.5h1.2M71.6 126.5h1.2M97.2 96.5h1.2M101.4 96.5h1.2M113.0 88.7h1.2M57.3 149.4h1.2M128.8 86.8h1.2M93.1 100.5h1.2M106.5 95.3h1.2M95.2 98.0h1.2M88.8 105.6h1.2M110.9 98.5h1.2M127.4 80.1h1.2M129.3 76.3h1.2M133.1 72.0h1.2M113.2 91.6h1.2M70.5 131.2h1.2M127.4 67.5h1.2M91.9 97.9h1.2M108.0 95.0h1.2M97.6 95.1h1.2M139.1 101.6h1.2M103.7 103.7h1.2M56.2 133.4h1.2M86.0 134.5h1.2M71.8 110.6h1.2M132.7 70.7h1.2M86.0 133.5h1.2M74.7 120.3h1.2M120.2 92.0h1.2M106.0 88.2h1.2M98.2 104.6h1.2M121.6 90.8h1.2M91.6 106.8h1.2M58.0 137.7h1.2M101.6 120.7h1.2M131.7 76.1h1.2M114.3 112.9h1.2M96.9 88.0h1.2M96.4 105.7h1.2M62.5 120.7h1.2M87.5 94.8h1.2M69.6 111.8h1.2M114.4 84.6h1.2M96.2 96.0h1.2M104.6 91.4h1.2M121.9 83.8h1.2M57.0 130.0h1.2M128.0 70.9h1.2M79.0 133.6h1.2M105.5 111.8h1.2M126.3 71.8h1.2M124.4 93.0h1.2M76.3 105.6h1.2M61.4 143.2h1.2M118.6 124.1h1.2M92.8 103.5h1.2M91.4 139.1h1.2M124.2 74.7h1.2M88.8 110.7h1.2M61.5 145.8h1.2M117.4 117.8h1.2M80.9 115.8h1.2M125.9 77.7h1.2M98.2 126.4h1.2M133.7 78.6h1.2M73.6 125.6h1.2M80.2 134.1h1.2M130.1 70.6h1.2M100.3 104.8h1.2M130.2 75.8h1.2M121.0 73.5h1.2M57.3 145.3h1.2M81.9 113.7h1.2M62.1 133.6h1.2M102.6 93.1h1.2M66.4 134.2h1.2M124.5 111.8h1.2M76.6 142.9h1.2M85.0 129.6h1.2M74.9 123.2h1.2M72.5 134.3h1.2M79.5 132.5h1.2M108.5 97.3h1.2M57.9 143.5h1.2M99.8 92.7h1.2M74.7 128.9h1.2M119.8 74.1h1.2M61.7 128.9h1.2M121.5 82.3h1.2M117.8 83.7h1.2M126.3 72.4h1.2M98.2 112.9h1.2M108.1 85.4h1.2M92.2 108.2h1.2M88.1 113.4h1.2M88.0 125.8h1.2M68.4 139.6h1.2M134.8 72.3h1.2M84.4 128.3h1.2M112.9 114.1h1.2M86.8 98.6h1.2M131.6 74.6h1.2M69.6 142.4h1.2M123.8 78.3h1.2M79.4 104.5h1.2M95.2 96.4h1.2M105.9 109.8h1.2M112.3 87.9h1.2M119.5 85.0h1.2M119.7 109.7h1.2M110.2 75.9h1.2M121.0 82.9h1.2M110.1 87.1h1.2M100.1 101.6h1.2M112.5 93.2h1.2M86.4 98.7h1.2M123.1 81.6h1.2M98.9 109.0h1.2M87.8 121.1h1.2M125.5 71.6h1.2M123.3 78.9h1.2M117.8 87.0h1.2M56.9 136.0h1.2M118.3 88.1h1.2M83.4 126.5h1.2M101.5 106.8h1.2M78.6 124.3h1.2M85.3 108.6h1.2M102.8 102.3h1.2M128.8 80.1h1.2M117.8 85.9h1.2M78.1 123.8h1.2M115.3 92.8h1.2M74.7 134.7h1.2M99.1 77.3h1.2M96.1 85.1h1.2M110.0 90.8h1.2M86.9 100.9h1.2M95.5 105.2h1.2M125.3 66.7h1.2M78.0 140.8h1.2M86.6 120.4h1.2M125.5 73.3h1.2M121.3 76.1h1.2M78.8 129.7h1.2M78.5 133.3h1.2M134.0 71.1h1.2M68.5 115.0h1.2M59.1 138.6h1.2M99.6 90.9h1.2M101.7 103.7h1.2M62.2 136.1h1.2M84.1 111.6h1.2M72.1 137.2h1.2M117.9 83.5h1.2M79.6 131.8h1.2M88.4 94.2h1.2M128.5 80.2h1.2M61.9 135.8h1.2M129.1 73.9h1.2M62.0 91.6h1.2M97.7 99.0h1.2M112.0 103.3h1.2M107.4 93.5h1.2M92.3 102.3h1.2M118.5 79.5h1.2M84.8 116.6h1.2M127.8 79.6h1.2M92.5 106.9h1.2M101.9 107.6h1.2M91.8 100.6h1.2M73.1 138.0h1.2M98.4 98.0h1.2M119.3 81.7h1.2M93.5 91.2h1.2M113.9 83.8h1.2M89.8 146.4h1.2M70.7 113.7h1.2M57.9 144.4h1.2M64.1 126.0h1.2M72.0 145.7h1.2M63.9 148.2h1.2M102.1 94.8h1.2M99.2 108.1h1.2M120.7 88.9h1.2M137.0 76.0h1.2M60.2 134.3h1.2M133.6 80.9h1.2M111.3 89.5h1.2M88.6 103.9h1.2M138.1 79.1h1.2M87.5 111.9h1.2M57.7 118.3h1.2M98.5 89.7h1.2M99.7 114.2h1.2M113.1 106.5h1.2M62.9 135.1h1.2M103.9 120.5h1.2M86.1 85.0h1.2M74.4 113.4h1.2M67.5 145.0h1.2M69.9 130.9h1.2M114.5 93.9h1.2M109.5 96.7h1.2M57.4 129.8h1.2M125.8 70.9h1.2M63.8 138.4h1.2M84.8 122.5h1.2M117.7 89.2h1.2M91.8 106.6h1.2M100.7 95.6h1.2M135.7 80.6h1.2M69.5 120.3h1.2M61.4 145.5h1.2M85.3 128.2h1.2M87.4 102.6h1.2M112.9 98.5h1.2M133.6 71.8h1.2M126.9 75.5h1.2M71.8 120.8h1.2M78.2 113.1h1.2M123.4 90.5h1.2M135.8 74.6h1.2M72.5 125.1h1.2M121.8 66.8h1.2M107.4 98.1h1.2M78.4 114.0h1.2M68.6 112.1h1.2M90.5 112.9h1.2M112.1 84.9h1.2M79.5 136.6h1.2M91.8 91.5h1.2M96.0 93.2h1.2M84.5 106.8h1.2M97.8 103.9h1.2M76.3 110.2h1.2M98.0 104.6h1.2M74.0 107.8h1.2M122.2 74.3h1.2M121.2 82.0h1.2M104.1 86.4h1.2M105.7 92.8h1.2M75.3 126.7h1.2M79.4 104.8h1.2M78.1 101.6h1.2M110.5 94.5h1.2M78.9 108.0h1.2M100.1 102.2h1.2M63.7 141.0h1.2M105.1 101.2h1.2M133.2 71.4h1.2M125.4 77.7h1.2M67.4 115.0h1.2M100.4 99.3h1.2M87.4 79.6h1.2M78.6 116.8h1.2M113.1 86.4h1.2M69.2 136.1h1.2M78.4 135.2h1.2M97.2 101.1h1.2M130.1 70.8h1.2M97.0 104.2h1.2M128.1 69.3h1.2M62.6 147.4h1.2M102.0 90.9h1.2M85.3 122.1h1.2M80.4 112.2h1.2M96.5 112.5h1.2M87.4 120.0h1.2M111.8 105.4h1.2M76.3 140.7h1.2M104.9 80.7h1.2M99.2 93.0h1.2M106.2 91.8h1.2M125.4 75.7h1.2M115.0 77.9h1.2M131.4 71.9h1.2M76.5 99.6h1.2M94.9 110.8h1.2M78.2 125.1h1.2M68.0 84.5h1.2M120.3 106.9h1.2M76.6 130.5h1.2M102.4 94.3h1.2M109.4 94.0h1.2M96.5 101.7h1.2M88.4 103.7h1.2M82.5 135.3h1.2M105.6 93.4h1.2M103.7 92.2h1.2M86.9 113.0h1.2M108.3 93.0h1.2M111.4 80.9h1.2M126.6 68.3h1.2M126.4 80.5h1.2M114.2 84.4h1.2M70.5 114.4h1.2M128.2 76.5h1.2M90.2 105.6h1.2M88.2 107.2h1.2M124.2 87.3h1.2M97.1 91.6h1.2M118.3 84.7h1.2M127.8 69.5h1.2M126.7 76.9h1.2M86.4 112.5h1.2M130.4 80.4h1.2M86.2 137.0h1.2M113.1 108.9h1.2M123.6 74.7h1.2M127.6 76.1h1.2M114.7 92.8h1.2M90.4 106.4h1.2M64.8 141.9h1.2M127.5 82.6h1.2M77.9 99.5h1.2M72.1 121.2h1.2M98.7 92.4h1.2M114.9 78.1h1.2M101.8 111.7h1.2M123.4 75.6h1.2M131.3 72.8h1.2M90.2 105.0h1.2M99.5 80.6h1.2M99.3 95.3h1.2M85.7 111.3h1.2M79.2 117.0h1.2M64.4 143.8h1.2M57.1 122.4h1.2M69.0 137.4h1.2M97.6 96.4h1.2M81.5 98.9h1.2M91.6 106.1h1.2M93.7 115.1h1.2M131.3 77.3h1.2M117.7 81.0h1.2M60.9 130.2h1.2M95.4 111.7h1.2M128.8 70.7h1.2M64.7 133.3h1.2M104.8 95.0h1.2M97.6 97.5h1.2M101.6 97.5h1.2M98.6 115.0h1.2M105.2 88.3h1.2M66.9 116.2h1.2M126.3 74.0h1.2M86.4 101.0h1.2M76.5 132.3h1.2M97.9 99.4h1.2M106.1 99.2h1.2M130.5 81.2h1.2M92.8 94.9h1.2M72.8 95.6h1.2M69.3 122.6h1.2M68.4 108.6h1.2M67.0 132.2h1.2M88.3 93.3h1.2M135.1 96.2h1.2M101.6 111.3h1.2M123.6 81.8h1.2M67.1 130.7h1.2M101.6 94.1h1.2M120.4 66.5h1.2M143.1 89.9h1.2M108.8 125.3h1.2M130.1 81.9h1.2M69.1 113.4h1.2M129.7 76.6h1.2M103.5 97.8h1.2M113.8 84.0h1.2M57.3 145.2h1.2M142.6 79.2h1.2M109.5 89.6h1.2M87.0 106.4h1.2M71.5 121.3h1.2M122.2 80.9h1.2M98.1 85.1h1.2M126.7 73.7h1.2M98.8 86.8h1.2M106.3 82.6h1.2M119.5 81.5h1.2M127.0 84.1h1.2M81.6 119.4h1.2M66.3 127.6h1.2M128.9 71.4h1.2M70.2 117.8h1.2M58.4 137.5h1.2M73.1 130.5h1.2M123.4 76.8h1.2M135.1 74.2h1.2M72.0 106.8h1.2M96.8 105.7h1.2M111.9 77.2h1.2M115.4 88.5h1.2M130.1 71.3h1.2M70.2 114.0h1.2M84.6 122.4h1.2M133.9 77.7h1.2M85.5 128.8h1.2M66.6 115.6h1.2M121.9 83.5h1.2M63.7 95.4h1.2M98.6 98.6h1.2M68.1 133.3h1.2M97.9 92.0h1.2M62.4 113.1h1.2M110.8 86.1h1.2M87.9 115.8h1.2M130.8 81.5h1.2M93.3 111.3h1.2M120.6 82.6h1.2M80.3 117.6h1.2M97.9 93.9h1.2M69.3 137.9h1.2M92.1 103.1h1.2M99.1 96.3h1.2M56.6 139.1h1.2M95.6 114.2h1.2M108.7 59.2h1.2M79.4 108.2h1.2M121.1 86.7h1.2M81.4 121.3h1.2M78.6 100.7h1.2M88.6 121.9h1.2M127.1 76.4h1.2M97.4 94.5h1.2M110.4 87.0h1.2M75.9 126.3h1.2M125.1 80.0h1.2M116.4 83.7h1.2M114.8 112.2h1.2M121.5 75.0h1.2M103.5 102.9h1.2M133.3 74.7h1.2M60.8 130.7h1.2M89.3 100.1h1.2M85.8 106.4h1.2M60.9 124.6h1.2M115.3 91.1h1.2M77.6 116.7h1.2M92.8 92.5h1.2M114.6 90.2h1.2M99.2 84.8h1.2M115.2 83.9h1.2M98.8 98.2h1.2M96.4 123.4h1.2M124.6 73.4h1.2M142.8 89.0h1.2M106.3 93.9h1.2M95.1 111.6h1.2M99.3 95.0h1.2M100.1 92.1h1.2M61.6 127.1h1.2M85.0 113.7h1.2M132.9 79.2h1.2M114.1 77.4h1.2M112.2 92.9h1.2M96.5 100.7h1.2M105.4 93.1h1.2M86.5 125.6h1.2M72.4 121.1h1.2M104.1 89.8h1.2M76.9 108.9h1.2M59.7 130.4h1.2M66.9 103.8h1.2M73.9 91.2h1.2M80.7 121.7h1.2M133.4 91.7h1.2M122.4 79.9h1.2M105.2 85.0h1.2M95.5 69.1h1.2M82.9 109.5h1.2M58.4 126.5h1.2M117.4 86.9h1.2M95.2 104.8h1.2M94.1 96.7h1.2M101.1 96.5h1.2M116.4 78.3h1.2M71.3 117.7h1.2M90.7 111.7h1.2M115.8 104.6h1.2M85.7 97.6h1.2M74.7 108.1h1.2M93.2 94.9h1.2M103.2 91.9h1.2M115.0 87.2h1.2M88.5 104.1h1.2M101.0 98.6h1.2M58.0 139.7h1.2M114.2 84.8h1.2M74.6 112.7h1.2M125.2 82.1h1.2M102.7 97.0h1.2M57.5 129.7h1.2M96.8 100.7h1.2M116.3 85.6h1.2M119.4 88.1h1.2M122.6 98.9h1.2M84.7 108.1h1.2M92.2 110.9h1.2M106.4 88.2h1.2M127.7 76.0h1.2M59.8 143.2h1.2M104.1 91.0h1.2M97.5 133.3h1.2M96.0 102.2h1.2M114.6 94.7h1.2M64.0 127.5h1.2M110.3 78.1h1.2M120.8 101.1h1.2M95.2 107.2h1.2M92.5 105.7h1.2M87.1 134.6h1.2M133.5 75.2h1.2M75.0 121.9h1.2M64.8 138.2h1.2M97.3 113.3h1.2M125.0 75.5h1.2M126.6 76.2h1.2M91.1 103.6h1.2M83.8 129.8h1.2M110.2 92.1h1.2M101.0 116.8h1.2M123.9 92.1h1.2M122.9 89.2h1.2M113.2 103.1h1.2M129.8 70.9h1.2M94.2 94.0h1.2M130.9 71.7h1.2M89.3 88.6h1.2M58.9 136.5h1.2M105.4 108.9h1.2M110.5 88.7h1.2M79.2 119.7h1.2M87.2 140.5h1.2M112.1 87.8h1.2M125.3 83.3h1.2M126.4 67.8h1.2M125.2 85.0h1.2M109.2 81.4h1.2M105.5 90.7h1.2M102.3 119.5h1.2M101.5 100.6h1.2M110.9 92.9h1.2M64.1 121.8h1.2M102.3 93.8h1.2M93.6 101.5h1.2M135.8 73.7h1.2M63.5 105.8h1.2M72.2 114.4h1.2M96.2 106.2h1.2M135.4 78.0h1.2M97.3 91.1h1.2M64.9 127.4h1.2M123.1 79.6h1.2M77.6 115.7h1.2M116.3 96.8h1.2M102.3 78.4h1.2M126.2 70.5h1.2M95.0 104.9h1.2M97.0 97.8h1.2M91.1 111.3h1.2M75.5 129.1h1.2M64.1 117.1h1.2M65.3 118.9h1.2M107.0 88.0h1.2M77.0 110.6h1.2M123.3 87.0h1.2M83.1 109.4h1.2M61.1 125.7h1.2M121.4 71.4h1.2M94.3 93.6h1.2M120.7 85.2h1.2M65.7 140.5h1.2M130.2 71.2h1.2M91.9 94.2h1.2M73.4 122.7h1.2M70.3 141.8h1.2M74.9 135.8h1.2M95.6 116.6h1.2M66.3 111.5h1.2M105.4 106.9h1.2M121.7 78.9h1.2M132.7 71.1h1.2M91.9 97.8h1.2M119.0 143.2h1.2M132.6 80.5h1.2M132.7 72.2h1.2M112.1 95.8h1.2M123.5 79.5h1.2M99.4 124.6h1.2M79.4 110.0h1.2M91.8 106.8h1.2M86.2 101.5h1.2M131.7 73.1h1.2M63.0 126.0h1.2M63.5 149.5h1.2M56.1 132.8h1.2M72.8 132.2h1.2M67.4 117.8h1.2M128.3 72.2h1.2M64.1 121.8h1.2M89.8 119.2h1.2M59.3 137.1h1.2M90.3 104.4h1.2M67.3 130.0h1.2M93.1 115.4h1.2M116.7 77.6h1.2M73.7 116.4h1.2M133.7 71.9h1.2M63.1 149.7h1.2M78.1 107.3h1.2M101.5 104.4h1.2M74.2 122.1h1.2M58.9 136.2h1.2M101.9 94.0h1.2M86.5 97.0h1.2M66.4 120.8h1.2M98.6 104.3h1.2M117.0 82.2h1.2M88.8 112.7h1.2M71.7 118.6h1.2M99.3 104.9h1.2M86.0 111.7h1.2M119.4 73.2h1.2M99.2 82.1h1.2M74.4 113.1h1.2M121.9 97.2h1.2M85.8 108.3h1.2M113.8 82.4h1.2M79.0 111.1h1.2M55.7 128.1h1.2M106.6 84.4h1.2M121.9 89.2h1.2M88.6 114.8h1.2M123.6 72.6h1.2M94.4 83.6h1.2M131.8 80.1h1.2M57.4 139.1h1.2M124.5 70.9h1.2M109.1 87.4h1.2M127.5 74.0h1.2M73.0 126.7h1.2M86.3 102.9h1.2M124.6 79.9h1.2M92.8 88.3h1.2M70.1 134.8h1.2M63.1 127.9h1.2M126.5 72.4h1.2M104.8 100.4h1.2M79.6 149.6h1.2M101.6 117.8h1.2M81.1 114.0h1.2M100.8 97.1h1.2M66.4 137.5h1.2M120.0 77.8h1.2M111.7 80.5h1.2M106.0 100.7h1.2M96.9 128.5h1.2M116.0 77.8h1.2M66.7 145.9h1.2M119.9 90.0h1.2M97.5 99.2h1.2M82.7 138.6h1.2M90.6 102.9h1.2M71.4 131.8h1.2M90.4 104.6h1.2M120.8 85.1h1.2M79.2 138.9h1.2M66.0 127.6h1.2M97.1 100.9h1.2M104.7 94.2h1.2M108.3 99.7h1.2M121.2 80.0h1.2M99.2 92.9h1.2M97.1 92.9h1.2M93.8 103.4h1.2M100.8 97.3h1.2M109.2 94.1h1.2M129.2 69.7h1.2M100.5 101.3h1.2M61.1 140.9h1.2M132.6 82.0h1.2M77.8 121.6h1.2M102.9 117.3h1.2M96.8 121.5h1.2M95.6 107.6h1.2M131.1 75.5h1.2M98.9 91.7h1.2M98.9 95.6h1.2M89.2 105.9h1.2M72.1 131.2h1.2M111.8 88.9h1.2M69.5 116.4h1.2M79.7 135.7h1.2M87.6 105.7h1.2M134.8 75.5h1.2M108.9 93.1h1.2M106.4 101.4h1.2M118.9 89.8h1.2M72.8 113.5h1.2M102.1 105.4h1.2M86.4 102.1h1.2M113.4 88.4h1.2M69.2 135.4h1.2M117.1 110.7h1.2M90.1 111.3h1.2M115.3 88.7h1.2M64.1 121.6h1.2M68.3 130.6h1.2M100.2 109.1h1.2M128.7 69.2h1.2M65.4 131.3h1.2M56.2 132.4h1.2M98.3 148.4h1.2M112.2 88.3h1.2M127.9 76.1h1.2M65.0 126.8h1.2M74.4 133.4h1.2M111.0 92.8h1.2M97.6 91.6h1.2M105.6 87.6h1.2M65.3 111.4h1.2M73.8 113.4h1.2M127.3 74.0h1.2M116.2 85.5h1.2M93.5 116.9h1.2M90.5 82.0h1.2M94.1 93.1h1.2M112.8 82.8h1.2M91.3 112.4h1.2M61.8 119.5h1.2M72.5 115.3h1.2M60.8 142.5h1.2M127.5 77.0h1.2M110.3 89.3h1.2M64.9 130.5h1.2M94.9 119.3h1.2M76.8 109.0h1.2M105.0 112.6h1.2M124.1 69.9h1.2M99.8 105.7h1.2M82.6 108.4h1.2M131.3 75.7h1.2M62.4 139.9h1.2M90.7 90.7h1.2M89.3 108.0h1.2M127.5 71.0h1.2M104.7 91.7h1.2M135.3 74.3h1.2M90.5 109.9h1.2M91.4 103.6h1.2M128.9 74.9h1.2M92.7 104.0h1.2M60.0 137.2h1.2M69.3 108.8h1.2M104.7 86.3h1.2M74.1 119.5h1.2M55.8 142.4h1.2M70.6 117.3h1.2M89.4 114.3h1.2M69.3 128.2h1.2M117.9 101.2h1.2M91.5 98.0h1.2M118.1 86.9h1.2M97.6 102.4h1.2M64.4 133.9h1.2M89.7 117.1h1.2M83.9 120.2h1.2M97.3 108.8h1.2M119.3 132.8h1.2M127.3 78.2h1.2M95.1 99.2h1.2M66.5 120.0h1.2M116.0 89.3h1.2M58.9 146.7h1.2M107.6 84.5h1.2M92.1 104.8h1.2M70.0 139.9h1.2M106.9 87.9h1.2M69.5 137.3h1.2M99.0 124.6h1.2M92.8 95.8h1.2M73.0 133.1h1.2M86.6 99.1h1.2M130.8 70.5h1.2M133.3 69.8h1.2M109.9 96.5h1.2M69.7 132.1h1.2M72.3 103.3h1.2M116.6 87.5h1.2M123.3 79.9h1.2M130.1 75.1h1.2M62.9 110.0h1.2M70.8 126.7h1.2M68.8 125.1h1.2M109.2 84.3h1.2M127.3 71.2h1.2M80.1 95.4h1.2M86.0 122.8h1.2M110.1 106.6h1.2M91.4 132.1h1.2M122.3 135.8h1.2M75.9 119.6h1.2M64.3 132.8h1.2M131.4 74.0h1.2M98.4 89.6h1.2M70.9 117.8h1.2M134.9 72.6h1.2M67.7 121.8h1.2M123.3 80.5h1.2M128.8 70.8h1.2M100.8 74.7h1.2M61.2 144.6h1.2M90.8 105.4h1.2M123.9 84.8h1.2M106.6 95.0h1.2M99.4 102.7h1.2M63.8 141.8h1.2M76.7 119.6h1.2M130.5 75.4h1.2M57.0 135.9h1.2M99.1 99.2h1.2M89.1 105.6h1.2M57.7 128.7h1.2M96.6 94.6h1.2M110.6 91.7h1.2M72.1 132.2h1.2M135.8 76.1h1.2M61.3 134.0h1.2M79.4 130.2h1.2M64.4 138.0h1.2M58.4 131.0h1.2M123.6 73.4h1.2M113.0 79.1h1.2M79.5 100.0h1.2M58.5 148.1h1.2M90.2 88.8h1.2M95.0 110.7h1.2M60.7 134.0h1.2M68.3 132.6h1.2M123.9 73.2h1.2M110.1 93.8h1.2M95.5 92.9h1.2M126.7 76.6h1.2M65.0 140.1h1.2M75.8 133.2h1.2M119.9 85.3h1.2M87.6 124.9h1.2M92.8 128.9h1.2M120.2 90.8h1.2M136.4 72.7h1.2M127.0 83.4h1.2M110.7 88.3h1.2M80.8 117.1h1.2M100.7 90.1h1.2M58.4 129.6h1.2M103.9 97.6h1.2M129.0 74.6h1.2M111.1 91.5h1.2M67.2 136.0h1.2M102.8 100.4h1.2M64.5 118.3h1.2M118.1 86.1h1.2M82.3 111.6h1.2M63.4 135.3h1.2M73.6 138.0h1.2M59.4 111.3h1.2M72.2 127.8h1.2M75.9 110.2h1.2M101.3 99.4h1.2M94.7 44.3h1.2M115.3 84.5h1.2M90.2 103.5h1.2M60.5 112.4h1.2M105.0 115.0h1.2M103.9 104.7h1.2M118.4 82.0h1.2M104.9 100.8h1.2M85.2 107.4h1.2M134.4 82.0h1.2M72.2 133.1h1.2M82.1 107.4h1.2M136.3 78.7h1.2M72.7 81.2h1.2M128.3 79.0h1.2M56.4 147.2h1.2M100.8 90.6h1.2M103.1 95.3h1.2M73.5 125.3h1.2M90.5 110.7h1.2M124.2 72.1h1.2M76.4 108.9h1.2M73.0 107.7h1.2M91.6 106.6h1.2M115.6 86.2h1.2M134.0 74.0h1.2M144.8 86.1h1.2M111.2 80.3h1.2M127.5 82.6h1.2M88.0 93.9h1.2M61.0 122.8h1.2M85.8 93.7h1.2M104.4 98.7h1.2M112.7 89.6h1.2M68.0 130.0h1.2M101.7 125.9h1.2M68.6 137.4h1.2M61.8 127.9h1.2M120.2 78.7h1.2M106.7 84.5h1.2M116.1 93.6h1.2M131.5 81.2h1.2M107.4 97.1h1.2M96.7 88.6h1.2M69.0 138.2h1.2M110.1 100.7h1.2M69.0 117.6h1.2M124.9 75.1h1.2M104.7 94.3h1.2M81.0 139.5h1.2M124.6 81.8h1.2M115.6 92.6h1.2M56.1 136.8h1.2M68.9 147.0h1.2M105.5 83.4h1.2M76.5 143.6h1.2M107.1 91.0h1.2M66.6 128.4h1.2M58.5 123.9h1.2M94.5 108.1h1.2M129.3 72.0h1.2M68.5 128.4h1.2M124.4 78.8h1.2M108.7 90.0h1.2M109.1 92.4h1.2M108.5 90.4h1.2M94.8 97.5h1.2M90.1 118.6h1.2M100.0 133.0h1.2M97.2 106.5h1.2M107.2 80.7h1.2M116.4 92.7h1.2M97.1 91.1h1.2M63.9 142.1h1.2M137.5 77.2h1.2M130.7 76.1h1.2M108.1 89.8h1.2M113.1 88.2h1.2M73.8 108.1h1.2M130.8 89.1h1.2M103.2 95.4h1.2M78.6 116.4h1.2M102.9 96.7h1.2M73.5 119.2h1.2M107.1 71.7h1.2M80.5 110.8h1.2M100.5 116.9h1.2M95.3 110.9h1.2M119.8 66.4h1.2M107.1 100.8h1.2M85.2 120.9h1.2M63.6 138.0h1.2M88.9 95.7h1.2M94.6 106.3h1.2M75.9 119.6h1.2M123.0 79.5h1.2M90.5 106.0h1.2M81.7 123.7h1.2M71.3 116.9h1.2M119.6 79.9h1.2M57.7 138.9h1.2M104.0 98.1h1.2M64.7 133.2h1.2M68.5 91.9h1.2M96.1 113.4h1.2M118.4 89.2h1.2M90.7 139.0h1.2M55.8 135.0h1.2M130.1 69.0h1.2M128.3 74.7h1.2M77.9 110.2h1.2M67.3 135.3h1.2M112.9 101.8h1.2M120.9 82.6h1.2M74.4 131.0h1.2M79.2 113.7h1.2M57.0 122.5h1.2M129.6 68.8h1.2M106.0 83.2h1.2M123.4 81.8h1.2M81.8 114.6h1.2M135.5 73.6h1.2M69.5 128.5h1.2M62.9 124.0h1.2M98.5 92.8h1.2M91.3 120.0h1.2M58.3 125.5h1.2M74.3 96.6h1.2M104.0 105.8h1.2M85.5 145.8h1.2M114.7 82.6h1.2M112.0 93.6h1.2M112.8 93.6h1.2M112.4 109.9h1.2M105.6 95.0h1.2M79.7 105.7h1.2M98.2 108.1h1.2M126.9 67.6h1.2M84.7 121.4h1.2M81.4 101.2h1.2M84.8 98.0h1.2M83.5 111.9h1.2M102.6 92.9h1.2M81.5 106.7h1.2M95.8 109.2h1.2M101.1 97.3h1.2M126.8 80.0h1.2M81.5 119.9h1.2M152.8 104.3h1.2M58.4 143.6h1.2M83.5 118.4h1.2M58.0 143.0h1.2M81.4 131.0h1.2M123.9 77.5h1.2M129.2 69.9h1.2M89.2 120.7h1.2M65.8 132.8h1.2M66.7 125.4h1.2M127.6 81.6h1.2M87.4 125.0h1.2M58.2 139.4h1.2M115.1 81.2h1.2M84.9 109.7h1.2M73.8 113.7h1.2M122.9 76.5h1.2M107.7 89.8h1.2M131.8 74.0h1.2M66.2 101.2h1.2M55.9 140.4h1.2M124.8 77.2h1.2M74.7 115.9h1.2M102.7 95.9h1.2M107.6 88.9h1.2M63.1 144.9h1.2M135.4 74.5h1.2M85.9 101.3h1.2M84.1 104.2h1.2M130.8 70.7h1.2M102.2 98.8h1.2M67.8 116.3h1.2M114.1 86.6h1.2M105.7 79.2h1.2M103.6 94.0h1.2M56.1 130.6h1.2M123.9 86.0h1.2M121.2 77.6h1.2M76.9 131.4h1.2M81.0 128.1h1.2M73.6 117.7h1.2M64.4 131.4h1.2M130.7 78.0h1.2M79.1 100.2h1.2M107.3 96.0h1.2M87.3 95.0h1.2M84.6 111.8h1.2M99.4 102.8h1.2M135.9 72.8h1.2M122.0 76.2h1.2M106.6 90.0h1.2M88.8 136.3h1.2M59.2 114.1h1.2M99.3 90.3h1.2M64.7 119.3h1.2M108.6 87.2h1.2M111.9 97.1h1.2M113.5 85.1h1.2M60.4 120.1h1.2M133.0 73.7h1.2M101.2 100.4h1.2M120.3 82.5h1.2M137.7 87.0h1.2M61.8 131.0h1.2M106.1 79.4h1.2M71.8 121.5h1.2M90.6 93.5h1.2M96.7 97.7h1.2M116.2 80.0h1.2M107.3 86.5h1.2M58.4 127.3h1.2M62.4 122.8h1.2M100.5 98.9h1.2M81.1 127.1h1.2M135.4 71.9h1.2M64.7 124.6h1.2M67.9 141.9h1.2M122.9 80.9h1.2M122.9 82.0h1.2M70.9 126.9h1.2M97.6 122.2h1.2M76.9 126.9h1.2M104.0 81.9h1.2M112.5 90.5h1.2M62.6 124.8h1.2M104.0 97.2h1.2M130.6 69.3h1.2M104.4 125.6h1.2M104.5 94.3h1.2M137.2 82.7h1.2M96.7 102.7h1.2M118.7 81.1h1.2M88.7 109.7h1.2M87.3 128.1h1.2M101.6 108.8h1.2M88.5 109.5h1.2M106.4 82.0h1.2M95.2 114.6h1.2M72.5 120.2h1.2M61.6 85.8h1.2M86.1 109.2h1.2M80.5 138.1h1.2M96.4 109.7h1.2M101.3 89.5h1.2M81.7 121.4h1.2M106.9 89.1h1.2M81.6 107.7h1.2M86.5 136.6h1.2M74.8 147.8h1.2M118.6 91.4h1.2M120.4 70.8h1.2M89.9 75.2h1.2M104.9 94.2h1.2M86.2 111.9h1.2M125.6 75.4h1.2M114.4 91.6h1.2M77.0 109.8h1.2M114.9 77.2h1.2M94.6 102.1h1.2M101.7 93.7h1.2M89.1 109.7h1.2M60.3 134.1h1.2M80.7 125.6h1.2M98.1 113.6h1.2M80.6 111.1h1.2M110.2 104.0h1.2M85.0 103.4h1.2M116.6 99.2h1.2M66.1 108.3h1.2M110.4 83.1h1.2M75.0 125.3h1.2M79.5 115.0h1.2M59.3 138.5h1.2M129.7 73.9h1.2M72.3 147.4h1.2M97.3 94.7h1.2M63.9 130.3h1.2M71.5 113.8h1.2M65.9 133.3h1.2M92.8 91.7h1.2M84.2 84.9h1.2M96.0 108.1h1.2M131.8 71.8h1.2M119.6 94.3h1.2M125.8 71.7h1.2M83.3 101.7h1.2M71.8 122.0h1.2M110.9 87.6h1.2M104.0 100.9h1.2M68.6 127.3h1.2M125.6 76.7h1.2M73.4 127.0h1.2M72.4 140.2h1.2M92.8 112.2h1.2M127.2 72.0h1.2M104.2 123.3h1.2M112.5 95.4h1.2M98.3 121.1h1.2M80.5 91.6h1.2M92.3 101.9h1.2M89.7 99.0h1.2M65.9 134.7h1.2M60.9 118.5h1.2M56.0 143.8h1.2M59.1 124.3h1.2M93.0 117.4h1.2M142.7 94.7h1.2M104.9 95.1h1.2M94.2 117.9h1.2M105.2 92.6h1.2M81.5 118.2h1.2M111.3 104.1h1.2M102.6 92.1h1.2M101.5 100.0h1.2M114.5 77.4h1.2M112.9 88.6h1.2M113.3 80.5h1.2M134.5 70.7h1.2M96.8 107.4h1.2M89.4 99.3h1.2M95.9 102.0h1.2M68.4 130.6h1.2M117.6 76.1h1.2M80.0 88.7h1.2M128.5 71.9h1.2M63.7 143.0h1.2M98.2 109.3h1.2M107.9 116.3h1.2M95.5 99.4h1.2M67.9 115.5h1.2M71.9 111.3h1.2M86.4 96.0h1.2M110.5 105.6h1.2M126.1 81.8h1.2M114.0 78.9h1.2M127.1 66.9h1.2M129.3 69.9h1.2M104.8 95.2h1.2M78.9 144.9h1.2M82.1 101.6h1.2M91.1 105.8h1.2M84.5 146.1h1.2M113.4 133.1h1.2M107.5 89.0h1.2M119.0 77.6h1.2M92.5 120.8h1.2M84.6 114.8h1.2M56.5 126.3h1.2M116.5 84.4h1.2M64.2 136.8h1.2M130.8 78.2h1.2M65.0 72.4h1.2M58.1 111.1h1.2M129.9 92.1h1.2M115.5 92.1h1.2M92.3 113.7h1.2M81.9 116.5h1.2M76.5 117.6h1.2M105.9 85.0h1.2M97.9 87.1h1.2M83.2 108.1h1.2M107.1 95.3h1.2M59.2 144.9h1.2M136.0 77.2h1.2M114.9 83.9h1.2M70.9 115.1h1.2M117.7 91.0h1.2M80.3 131.9h1.2M129.3 84.1h1.2M118.0 91.6h1.2M131.8 75.2h1.2M121.7 83.3h1.2M113.5 89.5h1.2M82.9 119.6h1.2M72.0 141.9h1.2M71.8 119.4h1.2M97.0 144.7h1.2M74.3 120.0h1.2M56.4 124.4h1.2M67.4 131.9h1.2M99.7 99.3h1.2M108.6 99.7h1.2M108.2 89.5h1.2M99.3 101.1h1.2M119.4 74.8h1.2M86.5 103.0h1.2M71.2 131.5h1.2M101.8 87.4h1.2M81.7 97.2h1.2M60.5 147.9h1.2M98.1 122.5h1.2M135.0 81.1h1.2M98.0 105.5h1.2M82.1 143.1h1.2M114.1 85.2h1.2M97.4 142.8h1.2M129.6 72.7h1.2M116.9 92.2h1.2M80.8 121.2h1.2M62.5 128.6h1.2M74.6 129.4h1.2M74.1 118.5h1.2M108.1 87.8h1.2M84.1 106.3h1.2M116.8 88.1h1.2M119.0 78.5h1.2M84.9 119.4h1.2M67.0 119.1h1.2M65.9 115.2h1.2M139.9 81.5h1.2M91.2 91.9h1.2M65.8 126.3h1.2M93.2 104.4h1.2M61.5 148.1h1.2M126.4 77.5h1.2M81.3 107.8h1.2M101.8 92.4h1.2M61.0 145.0h1.2M76.3 107.7h1.2M101.5 89.5h1.2M84.3 131.2h1.2M99.9 131.9h1.2M118.7 86.7h1.2M87.5 120.9h1.2M129.8 69.7h1.2M88.9 104.8h1.2M129.3 86.6h1.2M113.1 115.8h1.2M84.0 108.8h1.2M72.9 125.2h1.2M127.6 81.4h1.2M86.9 116.0h1.2M70.5 132.1h1.2M130.1 73.5h1.2M110.5 86.2h1.2M68.2 148.8h1.2M60.2 144.7h1.2M129.6 78.6h1.2M124.4 83.6h1.2M112.0 84.4h1.2M75.7 120.3h1.2M96.2 126.0h1.2M99.7 112.6h1.2M127.7 98.1h1.2M56.2 140.5h1.2M89.9 101.9h1.2M126.4 73.8h1.2M131.8 72.8h1.2M58.2 140.2h1.2M80.1 120.4h1.2M96.1 97.8h1.2M140.2 80.0h1.2M85.0 115.9h1.2M122.5 77.1h1.2M123.0 79.0h1.2M124.2 63.3h1.2M71.7 123.6h1.2M73.0 104.4h1.2M72.6 120.3h1.2M80.9 133.9h1.2M120.3 86.7h1.2M71.2 137.7h1.2M111.5 91.9h1.2M83.0 103.9h1.2M98.6 120.8h1.2M70.5 112.8h1.2M129.6 72.4h1.2M66.5 115.2h1.2M75.2 106.5h1.2M114.7 106.8h1.2M129.4 78.4h1.2M120.2 82.0h1.2M122.3 79.9h1.2M126.3 72.5h1.2M115.3 83.4h1.2M77.0 134.3h1.2M118.3 89.6h1.2M128.4 73.1h1.2M108.7 91.3h1.2M114.3 97.7h1.2M115.7 81.2h1.2M124.5 82.6h1.2M110.4 86.2h1.2M91.5 124.2h1.2M87.1 104.6h1.2M124.6 74.5h1.2M130.7 70.2h1.2M101.3 94.9h1.2M118.8 79.9h1.2M68.3 126.8h1.2M93.5 90.9h1.2M67.8 147.5h1.2M104.4 91.2h1.2M127.6 73.0h1.2M92.2 124.1h1.2M83.8 115.8h1.2M133.1 69.9h1.2M75.4 135.6h1.2M121.2 78.0h1.2M107.3 95.4h1.2M71.9 135.1h1.2M103.5 90.1h1.2M122.2 84.1h1.2M124.8 76.8h1.2M109.4 89.1h1.2M119.9 90.2h1.2M95.2 104.2h1.2M120.1 90.8h1.2M66.3 99.0h1.2M89.3 132.3h1.2M97.7 87.7h1.2M84.1 117.0h1.2M67.6 128.5h1.2M68.7 137.8h1.2M82.5 120.5h1.2M77.1 125.0h1.2M105.6 86.3h1.2M107.7 83.0h1.2M109.6 82.3h1.2M113.0 77.3h1.2M60.4 112.1h1.2M69.7 120.0h1.2M118.3 83.7h1.2M58.4 142.8h1.2M100.5 90.6h1.2M75.7 98.0h1.2M108.8 105.3h1.2M98.7 89.8h1.2M102.3 98.4h1.2M57.0 131.6h1.2M127.2 72.0h1.2M124.2 78.9h1.2M83.3 109.1h1.2M99.5 97.0h1.2M87.0 121.0h1.2M88.4 99.2h1.2M112.1 102.5h1.2M128.2 71.4h1.2M118.6 82.2h1.2M64.6 149.3h1.2M110.2 78.5h1.2M117.5 87.6h1.2M107.3 78.9h1.2M87.5 135.3h1.2M95.1 105.2h1.2M96.7 102.9h1.2M96.7 121.1h1.2M113.3 86.5h1.2M70.4 130.2h1.2M68.4 137.5h1.2M103.1 104.1h1.2M122.7 75.1h1.2M105.8 105.5h1.2M110.4 84.7h1.2M76.3 131.6h1.2M83.6 123.2h1.2M74.2 145.6h1.2M64.7 136.3h1.2M85.5 127.4h1.2M110.6 85.3h1.2M94.2 120.2h1.2M123.5 89.7h1.2M72.5 137.2h1.2M128.5 80.3h1.2M86.3 105.4h1.2M101.3 96.6h1.2M130.1 70.0h1.2M134.1 73.8h1.2M72.1 145.9h1.2M97.9 97.5h1.2M85.7 109.6h1.2M93.2 100.9h1.2M99.9 105.1h1.2M137.3 81.3h1.2M112.5 90.5h1.2M113.8 95.6h1.2M78.9 114.7h1.2M133.9 74.4h1.2M85.1 115.8h1.2M124.0 75.2h1.2M117.0 85.5h1.2M95.1 101.6h1.2M114.4 96.8h1.2M109.7 93.1h1.2M128.8 82.0h1.2M117.7 84.0h1.2M88.1 88.6h1.2M71.6 129.6h1.2M85.0 112.8h1.2M66.1 132.7h1.2M70.7 126.9h1.2M86.6 120.3h1.2M72.7 113.3h1.2M79.6 144.1h1.2M69.1 131.0h1.2M66.0 126.8h1.2M59.3 141.6h1.2M96.3 107.9h1.2M75.3 147.3h1.2M63.8 149.9h1.2M105.5 94.7h1.2M63.4 129.9h1.2M116.1 84.6h1.2M73.9 111.9h1.2M111.1 82.8h1.2M68.2 127.2h1.2M70.5 124.9h1.2M83.0 99.1h1.2M128.9 69.3h1.2M124.2 76.1h1.2M97.9 95.7h1.2M121.7 100.4h1.2M63.7 142.7h1.2M126.8 82.5h1.2M83.6 103.8h1.2M74.3 116.6h1.2M120.0 81.0h1.2M131.0 72.7h1.2M86.6 127.9h1.2M101.2 87.5h1.2M104.6 95.3h1.2M82.8 110.5h1.2M82.0 112.2h1.2M94.9 111.9h1.2M108.7 90.9h1.2M77.5 118.9h1.2M88.5 114.2h1.2M130.5 71.1h1.2M106.8 94.2h1.2M96.9 94.5h1.2M64.0 118.9h1.2M133.6 74.0h1.2M66.1 122.2h1.2M85.6 86.7h1.2M101.7 111.9h1.2M89.1 77.7h1.2M120.2 81.6h1.2M92.0 107.6h1.2M74.2 118.8h1.2M100.6 93.0h1.2M99.2 120.8h1.2M80.8 134.8h1.2M70.6 131.4h1.2M88.4 124.6h1.2M71.5 127.5h1.2M78.3 126.7h1.2M111.6 110.8h1.2M77.3 133.6h1.2M108.8 72.1h1.2M62.5 114.3h1.2M84.6 123.0h1.2M75.7 114.4h1.2M124.8 78.5h1.2M94.0 101.7h1.2M132.4 75.0h1.2M133.2 77.4h1.2M60.6 142.3h1.2M124.0 78.8h1.2M122.8 84.9h1.2M98.5 101.1h1.2M107.7 100.7h1.2M70.7 117.0h1.2M74.2 121.1h1.2M102.6 106.6h1.2M57.5 112.9h1.2M57.2 143.6h1.2M55.9 138.1h1.2M87.1 122.0h1.2M124.3 76.7h1.2M103.1 114.8h1.2M102.5 85.7h1.2M100.7 92.6h1.2M120.0 80.6h1.2M138.7 75.8h1.2M90.9 79.3h1.2M99.8 107.0h1.2M127.8 70.9h1.2M131.0 104.4h1.2M115.2 102.0h1.2M104.6 90.4h1.2M95.1 147.7h1.2M102.6 97.2h1.2M72.1 132.6h1.2M125.2 70.7h1.2M118.6 88.3h1.2M69.9 100.8h1.2M71.1 134.9h1.2M61.0 132.0h1.2M90.8 143.7h1.2M72.4 122.9h1.2M61.9 138.0h1.2M62.6 140.0h1.2M138.6 79.9h1.2M74.7 115.5h1.2M96.0 100.4h1.2M107.8 97.8h1.2M139.2 87.0h1.2M67.0 130.9h1.2M75.2 144.5h1.2M117.2 120.5h1.2M89.5 102.5h1.2M128.9 74.2h1.2M108.9 94.2h1.2M98.7 116.1h1.2M131.8 77.9h1.2M84.7 106.0h1.2M61.5 146.6h1.2M105.7 81.8h1.2M132.9 77.1h1.2M86.8 112.7h1.2M126.4 79.9h1.2M119.4 90.5h1.2M65.3 145.0h1.2M103.4 104.4h1.2M105.8 97.7h1.2M107.6 87.1h1.2M81.4 111.1h1.2M129.2 77.1h1.2M85.6 101.4h1.2M64.2 135.4h1.2M78.2 107.5h1.2M56.2 134.2h1.2M102.2 105.8h1.2M106.5 97.9h1.2M95.2 100.9h1.2M130.1 69.1h1.2M138.7 78.5h1.2M117.2 83.4h1.2M79.5 112.3h1.2M110.2 90.3h1.2M59.6 131.6h1.2M118.0 78.7h1.2M68.0 140.9h1.2M133.4 71.2h1.2M117.2 90.2h1.2M100.5 126.8h1.2M113.4 82.8h1.2M89.4 112.1h1.2M117.8 84.1h1.2M101.9 90.9h1.2M97.4 98.8h1.2M131.5 76.5h1.2M130.4 79.9h1.2M77.4 100.2h1.2M102.1 91.2h1.2M95.3 91.5h1.2M66.4 112.7h1.2M89.4 111.1h1.2M137.7 78.8h1.2M78.8 107.6h1.2M122.3 73.6h1.2M95.6 108.7h1.2M107.2 99.6h1.2M69.2 114.8h1.2M120.0 93.7h1.2M112.3 93.1h1.2M62.8 111.1h1.2M114.9 80.1h1.2M114.3 90.9h1.2M114.7 80.9h1.2M117.0 85.9h1.2M93.0 97.1h1.2M88.4 121.2h1.2M75.8 122.2h1.2M99.7 142.2h1.2M97.3 92.7h1.2M137.9 74.4h1.2M85.3 116.8h1.2M75.5 126.2h1.2M101.9 105.3h1.2M91.7 95.0h1.2M72.9 116.3h1.2M99.4 99.6h1.2M94.0 92.4h1.2M110.1 92.1h1.2M94.5 93.6h1.2M72.0 113.5h1.2M122.0 80.0h1.2M94.0 99.2h1.2M114.2 84.6h1.2M112.2 82.7h1.2M70.2 148.6h1.2M115.8 95.4h1.2M128.8 74.4h1.2M108.6 100.7h1.2M76.8 117.3h1.2M102.2 98.0h1.2M101.9 103.5h1.2M126.9 77.5h1.2M125.8 73.2h1.2M65.8 126.7h1.2M77.5 122.7h1.2M127.6 74.7h1.2M113.8 86.7h1.2M63.8 111.4h1.2M130.0 69.9h1.2M99.1 96.7h1.2M76.0 101.0h1.2M123.5 80.0h1.2M71.5 130.4h1.2M98.0 98.4h1.2M119.0 82.8h1.2M114.2 67.5h1.2M85.4 110.9h1.2M133.8 72.7h1.2M102.0 91.6h1.2M77.9 143.0h1.2M122.2 75.0h1.2M84.7 91.9h1.2M122.9 77.8h1.2M96.3 103.8h1.2M79.4 120.5h1.2M79.0 122.0h1.2M99.5 82.6h1.2M89.7 101.5h1.2M111.8 121.2h1.2M64.3 130.8h1.2M88.9 113.9h1.2M75.0 111.3h1.2M124.4 76.8h1.2M122.0 80.3h1.2M81.5 119.4h1.2M90.9 116.8h1.2M105.5 119.9h1.2M131.8 74.1h1.2M73.5 115.6h1.2M125.3 70.7h1.2M59.0 120.0h1.2M70.1 117.3h1.2M141.4 82.0h1.2M110.8 86.0h1.2M66.2 118.1h1.2M58.3 145.5h1.2M89.4 135.6h1.2M75.6 125.1h1.2M132.9 88.0h1.2M102.0 121.3h1.2M128.0 77.8h1.2M133.9 72.6h1.2M117.3 77.1h1.2M92.8 136.1h1.2M79.1 125.5h1.2M91.7 109.7h1.2M99.7 93.9h1.2M113.2 76.8h1.2M116.5 85.7h1.2M69.4 129.8h1.2M109.6 93.5h1.2M75.1 124.1h1.2M113.9 90.5h1.2M124.4 87.9h1.2M93.0 83.9h1.2M66.5 138.2h1.2M62.6 123.4h1.2M88.7 112.9h1.2M121.1 74.4h1.2M128.9 70.4h1.2M97.4 105.3h1.2M132.9 72.9h1.2M129.7 73.0h1.2M96.0 92.7h1.2M98.1 94.6h1.2M111.3 108.6h1.2M110.2 96.1h1.2M67.6 128.8h1.2M81.5 137.3h1.2M93.1 92.8h1.2M72.4 139.3h1.2M93.6 124.9h1.2M62.7 142.8h1.2M81.2 111.1h1.2M57.9 137.6h1.2M111.7 85.5h1.2M113.2 90.8h1.2M120.6 118.5h1.2M78.1 126.7h1.2M75.6 123.5h1.2M82.5 117.3h1.2M119.6 114.4h1.2M103.0 93.7h1.2M112.6 77.1h1.2M60.4 110.6h1.2M107.9 86.0h1.2M131.6 68.1h1.2M123.3 73.5h1.2M111.9 68.9h1.2M120.9 78.2h1.2M87.0 131.4h1.2M77.4 118.4h1.2M74.0 117.2h1.2M93.2 102.3h1.2M110.4 85.7h1.2M106.8 81.3h1.2M117.9 66.8h1.2M105.2 99.9h1.2M118.0 76.4h1.2M84.0 119.3h1.2M121.3 78.7h1.2M80.1 127.3h1.2M121.4 82.2h1.2M62.6 118.9h1.2M121.6 83.3h1.2M123.0 69.7h1.2M112.6 89.6h1.2M119.3 69.4h1.2M76.1 146.8h1.2M64.2 137.4h1.2M126.7 75.4h1.2M67.1 146.8h1.2M92.1 95.3h1.2M83.0 148.4h1.2M94.7 114.0h1.2M88.4 126.6h1.2M102.0 88.7h1.2M68.9 133.7h1.2M60.2 118.6h1.2M114.4 80.7h1.2M128.8 71.6h1.2M119.0 83.2h1.2M106.3 90.6h1.2M56.0 144.0h1.2M122.6 83.1h1.2M58.7 140.6h1.2M129.3 82.1h1.2M92.9 112.2h1.2M124.8 63.9h1.2M99.7 125.3h1.2M100.6 108.0h1.2M102.2 138.4h1.2M109.3 78.4h1.2M133.2 87.5h1.2M129.9 72.6h1.2M101.6 102.1h1.2M89.0 100.7h1.2M55.7 137.5h1.2M132.4 75.1h1.2M108.4 92.5h1.2M100.1 96.3h1.2M106.4 97.8h1.2M117.1 82.0h1.2M70.6 125.6h1.2M133.0 70.8h1.2M88.2 116.2h1.2M64.4 125.4h1.2M121.3 80.9h1.2M99.4 103.3h1.2M104.3 115.7h1.2M68.6 108.5h1.2M70.9 118.0h1.2M71.8 118.6h1.2M94.2 134.3h1.2M68.6 128.5h1.2M109.5 85.3h1.2M72.8 106.2h1.2M126.3 79.1h1.2M69.3 124.2h1.2M81.8 134.5h1.2M119.2 78.6h1.2M72.4 124.5h1.2M119.0 87.6h1.2M106.0 97.7h1.2M66.3 136.6h1.2M74.9 110.7h1.2M104.0 95.4h1.2M74.1 137.9h1.2M127.2 71.7h1.2M113.0 88.0h1.2M128.4 65.0h1.2M127.1 77.5h1.2M67.2 111.8h1.2M77.1 124.8h1.2M124.9 72.7h1.2M131.0 73.0h1.2M90.8 106.2h1.2M98.2 103.9h1.2M89.9 111.7h1.2M127.7 81.9h1.2M127.4 81.0h1.2M96.7 99.2h1.2M131.7 102.7h1.2M115.7 92.9h1.2M81.2 95.8h1.2M88.4 112.8h1.2M94.9 108.7h1.2M82.5 124.7h1.2M101.5 116.2h1.2M121.1 76.9h1.2M77.6 131.7h1.2M72.7 110.1h1.2M87.7 125.4h1.2M117.2 77.6h1.2M62.0 134.7h1.2M82.0 119.5h1.2M114.6 95.7h1.2M77.7 123.7h1.2M117.6 79.9h1.2M90.3 110.1h1.2M72.1 122.8h1.2M81.5 119.1h1.2M80.7 136.3h1.2M114.4 81.5h1.2M125.6 80.3h1.2M106.4 86.8h1.2M114.0 92.4h1.2M121.3 76.9h1.2M127.1 78.2h1.2M120.6 75.4h1.2M70.3 138.1h1.2M116.0 90.0h1.2M126.7 69.4h1.2M128.6 77.1h1.2M95.0 97.0h1.2M130.2 79.8h1.2M82.7 102.1h1.2M87.6 107.5h1.2M90.7 101.6h1.2M86.8 103.9h1.2M79.8 91.8h1.2M100.4 94.4h1.2M129.8 73.9h1.2M63.1 137.8h1.2M124.8 78.7h1.2M62.1 122.2h1.2M96.8 105.1h1.2M68.6 129.1h1.2M132.8 71.2h1.2M86.4 131.9h1.2M78.4 128.5h1.2M63.5 141.8h1.2M88.3 134.5h1.2M122.8 79.7h1.2M77.0 131.9h1.2M97.3 102.9h1.2M86.6 117.1h1.2M100.0 92.3h1.2M85.5 137.3h1.2M101.4 102.7h1.2M70.7 115.7h1.2M127.5 85.9h1.2M61.9 119.9h1.2M65.0 135.7h1.2M77.6 100.3h1.2M75.5 125.2h1.2M136.1 77.7h1.2M128.1 75.0h1.2M58.3 114.8h1.2M77.4 107.1h1.2M133.5 77.0h1.2M110.1 86.0h1.2M133.3 79.0h1.2M86.1 105.7h1.2M79.2 138.6h1.2M104.4 99.3h1.2M103.3 96.4h1.2M130.7 76.6h1.2M103.8 90.5h1.2M115.7 84.0h1.2M66.6 149.5h1.2M131.4 72.2h1.2M60.8 113.0h1.2M87.6 140.9h1.2M117.4 81.3h1.2M120.4 80.1h1.2M63.9 145.1h1.2M89.9 107.3h1.2M121.5 81.1h1.2M80.9 129.5h1.2M86.3 111.3h1.2M87.7 120.1h1.2M69.3 129.9h1.2M115.6 83.6h1.2M57.2 145.4h1.2M124.1 78.3h1.2M97.9 115.6h1.2M104.7 93.5h1.2M55.5 113.7h1.2M126.9 76.0h1.2M62.8 118.9h1.2M123.6 78.0h1.2M124.1 78.8h1.2M77.5 112.1h1.2M127.5 75.8h1.2M123.7 86.0h1.2M130.2 70.1h1.2M103.4 91.9h1.2M136.6 73.2h1.2M115.9 88.0h1.2M69.7 148.6h1.2M135.7 77.2h1.2M98.1 108.0h1.2M68.8 112.9h1.2M75.5 103.5h1.2M121.8 79.5h1.2M96.8 98.4h1.2M58.7 145.2h1.2M87.5 112.2h1.2M74.5 129.5h1.2M67.1 134.2h1.2M91.1 103.5h1.2M75.2 112.1h1.2M102.7 94.8h1.2M55.6 139.3h1.2M127.1 66.3h1.2M62.5 144.0h1.2M88.9 90.1h1.2M56.6 149.4h1.2M70.8 140.6h1.2M84.8 111.2h1.2M101.9 82.2h1.2M120.1 80.8h1.2M100.2 98.3h1.2M126.1 82.0h1.2M91.7 87.4h1.2M121.9 75.8h1.2M85.0 112.3h1.2M111.4 93.9h1.2M113.1 78.1h1.2M106.7 95.7h1.2M108.1 82.7h1.2M114.5 91.0h1.2M94.1 108.6h1.2M120.4 82.3h1.2M70.8 115.8h1.2M72.6 140.4h1.2M67.5 118.0h1.2M102.4 95.6h1.2M97.7 97.3h1.2M123.1 78.4h1.2M96.8 92.4h1.2M129.2 75.3h1.2M61.6 127.5h1.2M57.1 110.3h1.2M69.6 119.3h1.2M74.6 126.7h1.2M69.9 138.3h1.2M111.0 84.7h1.2M60.5 126.4h1.2M88.0 119.6h1.2M134.1 70.9h1.2M70.4 127.8h1.2M96.5 88.6h1.2M71.6 129.4h1.2M116.6 88.9h1.2M75.9 122.8h1.2M85.4 107.8h1.2M78.2 134.1h1.2M66.4 130.6h1.2M109.9 94.8h1.2M88.0 106.0h1.2M95.0 97.0h1.2M102.7 116.6h1.2M64.7 112.9h1.2M74.8 109.0h1.2M79.5 110.4h1.2M126.6 77.7h1.2M66.5 120.6h1.2M60.7 150.1h1.2M68.5 124.5h1.2M89.2 102.8h1.2M92.5 104.2h1.2M108.8 94.2h1.2M109.3 106.9h1.2M76.1 122.7h1.2M76.0 126.1h1.2M90.2 100.9h1.2M113.5 90.4h1.2M94.5 115.6h1.2M109.6 86.3h1.2M93.0 109.0h1.2M83.8 107.6h1.2M58.8 132.3h1.2M57.5 137.1h1.2M121.8 117.9h1.2M87.0 130.7h1.2M124.4 73.6h1.2M125.4 76.6h1.2M122.1 84.8h1.2M67.9 110.8h1.2M124.0 77.4h1.2M113.3 90.1h1.2M59.7 112.0h1.2M113.8 74.4h1.2M91.3 104.4h1.2M60.3 124.1h1.2M85.1 100.1h1.2M57.9 149.7h1.2M95.7 87.3h1.2M93.7 118.0h1.2M91.4 111.1h1.2M65.8 102.4h1.2M102.9 91.6h1.2M105.1 92.9h1.2M124.2 76.7h1.2M125.8 72.6h1.2M64.5 114.7h1.2M96.5 97.3h1.2M93.8 100.9h1.2M105.3 91.4h1.2M66.5 134.2h1.2M78.4 118.6h1.2M101.5 106.3h1.2M86.0 111.8h1.2M59.5 126.0h1.2M120.7 79.9h1.2M93.7 101.7h1.2M60.7 144.3h1.2M126.0 75.8h1.2M124.7 72.4h1.2M105.2 93.2h1.2M125.3 82.4h1.2M111.8 90.2h1.2M105.3 104.0h1.2M114.4 96.2h1.2M122.3 74.7h1.2M107.4 92.6h1.2M62.4 146.9h1.2M73.0 106.8h1.2M64.7 120.4h1.2M94.0 96.4h1.2M102.9 104.3h1.2M125.1 79.0h1.2M120.8 85.9h1.2M107.0 95.5h1.2M66.1 120.5h1.2M128.2 69.0h1.2M135.0 79.0h1.2M110.5 90.7h1.2M111.3 90.5h1.2M89.5 96.7h1.2M122.3 79.3h1.2M70.9 145.4h1.2M119.1 79.0h1.2M122.1 79.9h1.2M90.9 98.4h1.2M93.8 91.3h1.2M88.4 116.6h1.2M103.1 113.9h1.2M78.1 137.9h1.2M131.0 76.3h1.2M118.8 90.0h1.2M78.6 129.5h1.2M88.9 109.7h1.2M109.6 119.6h1.2M123.1 66.9h1.2M89.3 105.4h1.2M107.2 93.4h1.2M110.3 82.2h1.2M93.1 104.9h1.2M129.3 78.1h1.2M115.6 83.6h1.2M130.8 81.0h1.2M114.0 90.4h1.2M68.8 135.4h1.2M122.6 81.2h1.2M111.9 87.1h1.2M70.7 120.0h1.2M92.1 104.4h1.2M95.2 127.2h1.2M133.2 79.9h1.2M88.3 105.2h1.2M76.0 96.4h1.2M81.3 109.6h1.2M76.9 110.6h1.2M73.6 129.0h1.2M62.4 127.5h1.2M70.7 135.8h1.2M75.8 112.8h1.2M103.6 91.2h1.2M125.7 73.3h1.2M108.1 88.6h1.2M113.7 81.5h1.2M115.8 84.6h1.2M115.7 80.1h1.2M109.2 94.7h1.2M73.9 143.6h1.2M93.2 120.6h1.2M78.0 115.5h1.2M90.5 109.8h1.2M131.4 76.2h1.2M100.1 96.6h1.2M114.9 85.5h1.2M101.6 89.9h1.2M113.1 85.0h1.2M70.7 104.4h1.2M65.7 137.0h1.2M88.0 116.9h1.2M89.1 106.6h1.2M86.1 124.6h1.2M65.3 124.9h1.2M105.2 101.2h1.2M125.8 81.6h1.2M69.0 137.4h1.2M125.3 82.8h1.2M100.2 92.9h1.2M74.7 129.4h1.2M88.4 110.5h1.2M74.1 127.0h1.2M135.9 74.4h1.2M92.8 134.4h1.2M114.7 60.0h1.2M95.4 118.4h1.2M125.5 80.0h1.2M81.6 118.2h1.2M134.4 72.1h1.2M68.9 99.7h1.2M67.2 137.4h1.2M113.7 107.3h1.2M64.9 116.4h1.2M133.2 92.1h1.2M129.6 77.7h1.2M65.8 148.3h1.2M71.0 139.2h1.2M70.8 126.4h1.2M60.7 130.2h1.2M82.0 124.0h1.2M111.8 83.6h1.2M64.2 137.1h1.2M110.7 87.6h1.2M81.1 106.0h1.2M125.7 85.6h1.2M90.0 149.6h1.2M115.3 62.6h1.2M127.6 88.2h1.2M107.2 84.7h1.2M98.6 99.9h1.2M63.0 122.1h1.2M104.5 94.6h1.2M121.2 78.9h1.2M97.4 110.3h1.2M130.3 76.2h1.2M96.9 106.2h1.2M102.4 115.9h1.2M120.4 82.3h1.2M93.6 105.2h1.2M84.2 90.7h1.2M60.2 124.2h1.2M94.8 96.6h1.2M136.8 73.3h1.2M101.7 108.4h1.2M114.8 81.1h1.2M89.5 142.3h1.2M58.7 136.4h1.2M63.1 131.2h1.2M82.2 141.0h1.2M98.8 97.6h1.2M112.6 94.2h1.2M112.9 90.9h1.2M108.3 89.3h1.2M118.9 81.4h1.2M108.2 94.8h1.2M86.6 120.5h1.2M67.6 110.1h1.2M125.3 87.3h1.2M58.7 148.8h1.2M120.3 81.0h1.2M71.9 116.7h1.2M116.9 84.0h1.2M113.4 101.1h1.2M136.0 72.6h1.2M85.2 104.3h1.2M126.3 75.1h1.2M92.8 118.1h1.2M67.5 137.2h1.2M75.0 119.5h1.2M98.7 96.5h1.2M121.0 77.1h1.2M114.2 83.6h1.2M130.0 78.6h1.2M85.8 105.8h1.2M84.7 118.4h1.2M81.4 103.5h1.2M124.5 72.8h1.2M72.1 122.9h1.2M70.3 116.6h1.2M99.7 99.2h1.2M118.8 85.2h1.2M125.3 71.9h1.2M103.1 95.8h1.2M118.7 88.6h1.2M114.3 84.4h1.2M111.0 81.8h1.2M102.1 110.7h1.2M129.1 75.2h1.2M124.7 80.5h1.2M134.3 71.8h1.2M99.5 96.1h1.2M128.4 80.7h1.2M95.2 114.9h1.2M66.6 113.6h1.2M64.3 129.2h1.2M71.0 144.7h1.2M70.5 119.4h1.2M89.6 93.9h1.2M69.7 128.6h1.2M112.2 90.6h1.2M127.1 74.6h1.2M124.1 80.7h1.2M106.6 89.9h1.2M105.5 81.5h1.2M130.1 71.3h1.2M108.2 120.8h1.2M86.6 105.5h1.2M91.6 86.9h1.2M61.3 144.4h1.2M85.2 117.2h1.2M129.2 80.1h1.2M85.0 111.6h1.2M130.5 72.1h1.2M98.3 110.3h1.2M106.5 87.0h1.2M118.0 89.8h1.2M101.4 92.7h1.2M88.6 125.3h1.2M59.7 126.1h1.2M93.1 97.4h1.2M75.7 126.0h1.2M125.8 81.9h1.2M127.1 80.6h1.2M116.8 85.1h1.2M126.0 72.8h1.2M127.5 78.4h1.2M115.3 96.9h1.2M130.8 72.3h1.2M133.4 72.5h1.2M93.3 115.3h1.2M127.1 78.0h1.2M87.4 144.1h1.2M88.0 102.2h1.2M64.9 99.7h1.2M82.3 117.3h1.2M119.8 72.8h1.2M134.8 85.3h1.2M132.7 76.3h1.2M107.9 93.7h1.2M111.0 93.0h1.2M83.7 123.5h1.2M120.1 75.4h1.2M55.8 142.7h1.2M74.8 118.0h1.2M95.7 85.6h1.2M100.2 92.6h1.2M75.5 90.8h1.2M107.0 98.9h1.2M106.9 96.9h1.2M108.1 83.0h1.2M81.7 112.1h1.2M89.2 103.1h1.2M64.0 135.7h1.2M93.0 119.3h1.2M131.2 75.6h1.2M127.6 76.6h1.2M73.6 119.2h1.2M88.2 110.0h1.2M90.9 121.2h1.2M77.3 133.3h1.2M93.7 98.2h1.2M81.2 125.8h1.2M82.9 126.5h1.2M82.0 91.9h1.2M115.5 77.4h1.2M74.5 105.3h1.2M64.5 117.5h1.2M97.2 94.7h1.2M117.3 74.3h1.2M87.4 131.8h1.2M136.8 77.7h1.2M115.0 75.9h1.2M71.8 118.2h1.2M69.5 121.1h1.2M113.9 83.4h1.2M98.8 112.5h1.2M85.4 99.7h1.2M85.4 99.6h1.2M116.7 95.3h1.2M106.8 64.6h1.2M76.0 120.7h1.2M69.9 128.0h1.2M121.1 84.4h1.2M122.9 81.7h1.2M106.0 95.2h1.2M121.6 85.5h1.2M118.6 120.1h1.2M103.1 90.9h1.2M63.7 91.2h1.2M79.3 148.6h1.2M107.9 72.5h1.2M128.0 73.2h1.2M125.5 62.7h1.2M94.1 109.9h1.2M94.2 108.9h1.2M112.7 90.4h1.2M87.4 101.2h1.2M87.4 102.0h1.2M109.4 90.2h1.2M113.4 83.4h1.2M106.9 95.5h1.2M87.4 106.1h1.2M119.3 85.2h1.2M113.8 82.7h1.2M127.3 72.7h1.2M83.3 106.4h1.2M83.5 106.1h1.2M90.1 114.4h1.2M88.4 103.5h1.2M128.0 79.0h1.2M124.6 81.6h1.2M73.5 121.3h1.2M112.7 88.7h1.2M111.7 88.7h1.2M92.3 102.1h1.2M115.6 74.1h1.2M65.2 120.4h1.2M76.9 121.2h1.2M100.5 123.7h1.2M107.4 84.4h1.2M72.6 97.0h1.2M88.4 111.1h1.2M133.0 84.4h1.2M109.4 87.8h1.2M79.9 139.9h1.2M127.0 73.2h1.2M112.6 98.5h1.2M56.5 119.2h1.2M64.6 143.4h1.2M90.5 85.5h1.2M83.5 108.9h1.2M95.3 104.1h1.2M55.9 149.5h1.2M112.5 91.0h1.2M119.0 80.4h1.2M81.2 122.2h1.2M61.2 123.2h1.2M126.7 67.4h1.2M130.4 71.1h1.2M109.9 128.9h1.2M83.4 121.4h1.2M85.0 108.3h1.2M107.9 104.0h1.2M71.8 122.5h1.2M61.1 122.6h1.2M116.8 77.8h1.2M99.5 97.5h1.2M64.8 126.7h1.2M79.1 126.5h1.2M127.7 74.9h1.2M114.3 81.1h1.2M92.5 100.0h1.2M126.5 79.4h1.2M128.1 74.8h1.2M67.3 122.4h1.2M66.8 129.3h1.2M61.3 144.7h1.2M102.1 95.6h1.2M74.4 123.3h1.2M66.7 144.0h1.2M96.5 94.1h1.2M96.8 87.1h1.2M94.3 111.8h1.2M101.4 102.9h1.2M91.6 93.5h1.2M108.6 107.7h1.2M116.1 92.0h1.2M70.0 126.5h1.2M117.3 80.4h1.2M93.6 130.6h1.2M99.8 99.0h1.2M68.7 123.8h1.2M93.5 95.7h1.2M74.9 124.5h1.2M84.8 111.8h1.2M90.7 107.3h1.2M98.7 87.8h1.2M61.1 124.6h1.2M102.8 98.7h1.2M68.8 143.6h1.2M112.1 86.1h1.2M93.7 102.5h1.2M80.8 139.3h1.2M102.7 115.7h1.2M75.9 136.7h1.2M77.9 115.5h1.2M121.9 81.5h1.2M124.6 74.7h1.2M129.3 74.9h1.2M94.0 119.6h1.2M106.2 89.5h1.2M129.8 78.7h1.2M64.7 147.5h1.2M72.3 120.2h1.2M122.5 79.1h1.2M92.6 115.6h1.2M127.1 81.8h1.2M122.2 87.6h1.2M130.0 66.5h1.2M103.9 101.4h1.2M125.1 78.9h1.2M75.3 125.6h1.2M59.0 138.6h1.2M96.5 98.2h1.2M125.0 77.4h1.2M60.8 130.2h1.2M64.0 113.5h1.2M97.3 98.4h1.2M66.0 128.8h1.2M85.7 113.6h1.2M126.9 78.8h1.2M98.5 118.7h1.2M110.7 87.9h1.2M116.6 87.0h1.2M74.6 118.9h1.2M127.8 76.5h1.2M74.0 125.4h1.2M86.8 114.7h1.2M76.1 142.9h1.2M70.3 112.3h1.2M124.4 80.0h1.2M93.3 104.3h1.2M109.6 80.3h1.2M124.4 87.0h1.2M58.1 118.4h1.2M117.2 83.8h1.2M116.4 96.6h1.2M92.5 107.6h1.2M84.4 128.3h1.2M78.3 105.3h1.2M70.1 122.8h1.2M60.5 135.9h1.2M114.8 86.0h1.2M106.4 84.5h1.2M113.8 98.5h1.2M94.6 109.2h1.2M127.0 77.3h1.2M100.7 105.4h1.2M76.9 117.9h1.2M126.6 73.3h1.2M71.8 126.7h1.2M63.8 137.7h1.2M109.5 87.6h1.2M117.7 88.2h1.2M107.3 94.3h1.2M112.1 87.5h1.2M104.5 112.1h1.2M88.1 108.0h1.2M126.9 79.4h1.2M74.9 120.1h1.2M73.9 146.4h1.2M72.2 133.6h1.2M73.2 97.8h1.2M132.9 72.1h1.2M105.5 96.3h1.2M117.6 104.2h1.2M91.4 123.9h1.2M125.0 73.6h1.2M73.2 108.9h1.2M108.9 84.9h1.2M60.5 141.1h1.2M85.1 131.4h1.2M95.5 101.8h1.2M110.6 77.3h1.2M100.6 99.7h1.2M89.3 92.3h1.2M118.3 125.7h1.2M90.0 113.6h1.2M73.6 113.6h1.2M82.4 101.7h1.2M130.4 74.3h1.2M75.0 128.3h1.2M83.9 115.7h1.2M61.8 108.7h1.2M123.5 76.1h1.2M68.7 123.3h1.2M125.2 72.7h1.2M99.5 97.0h1.2M88.6 96.8h1.2M103.1 100.5h1.2M112.0 85.2h1.2M110.8 94.1h1.2M84.4 146.7h1.2M117.4 81.2h1.2M92.6 106.5h1.2M124.7 73.4h1.2M120.8 81.9h1.2M79.6 120.1h1.2M73.0 139.1h1.2M104.1 91.6h1.2M108.4 79.8h1.2M84.1 112.3h1.2M116.5 83.3h1.2M101.6 102.9h1.2M77.5 119.2h1.2M126.1 71.5h1.2M74.0 114.6h1.2M79.0 106.2h1.2M72.2 126.5h1.2M81.8 127.8h1.2M94.1 121.2h1.2M87.0 95.0h1.2M92.0 103.7h1.2M104.3 92.6h1.2M58.9 132.1h1.2M106.9 95.9h1.2M61.5 112.0h1.2M98.3 107.2h1.2M77.2 131.2h1.2M96.6 124.4h1.2M93.4 93.3h1.2M73.6 107.1h1.2M97.5 88.7h1.2M70.2 120.6h1.2M87.2 110.4h1.2M86.9 121.7h1.2M136.7 73.4h1.2M86.8 99.0h1.2M94.3 95.0h1.2M73.7 123.4h1.2M91.9 100.3h1.2M126.7 73.0h1.2M61.1 143.1h1.2M132.5 74.4h1.2M135.0 86.6h1.2M94.4 117.7h1.2M74.7 107.9h1.2M76.2 122.9h1.2M105.7 87.4h1.2M66.9 119.9h1.2M76.4 116.2h1.2M129.5 80.2h1.2M90.5 125.9h1.2M64.5 132.0h1.2M111.5 98.9h1.2M112.9 77.8h1.2M130.1 72.1h1.2M130.0 81.6h1.2M111.7 85.3h1.2M85.3 94.4h1.2M128.4 74.4h1.2M63.0 127.0h1.2M99.6 107.1h1.2M95.3 101.0h1.2M94.9 103.4h1.2M109.8 95.6h1.2M105.4 76.6h1.2M118.2 80.5h1.2M113.1 92.9h1.2M62.9 121.4h1.2M112.8 91.4h1.2M79.7 128.6h1.2M71.9 115.6h1.2M100.1 91.4h1.2M101.1 106.7h1.2M115.3 85.2h1.2M109.7 93.6h1.2M64.4 138.1h1.2M115.2 79.7h1.2M67.5 128.4h1.2M101.5 97.9h1.2M122.5 73.9h1.2M82.4 125.0h1.2M69.0 131.1h1.2M85.9 106.1h1.2M78.7 101.0h1.2M118.1 91.5h1.2M133.6 74.8h1.2M114.5 86.8h1.2M108.7 94.9h1.2M56.7 137.9h1.2M111.7 87.2h1.2M66.5 134.8h1.2M85.1 132.7h1.2M76.6 132.1h1.2M61.6 133.0h1.2M73.3 116.4h1.2M124.3 77.0h1.2M108.8 91.5h1.2M105.7 83.5h1.2M75.0 145.8h1.2M127.5 74.7h1.2M115.2 81.5h1.2M76.8 120.0h1.2M67.0 131.7h1.2M94.7 68.5h1.2M100.9 114.3h1.2M124.2 84.3h1.2M127.3 79.3h1.2M125.2 75.1h1.2M69.9 109.5h1.2M67.6 121.5h1.2M56.4 124.7h1.2M85.5 98.0h1.2M112.4 98.2h1.2M133.4 73.1h1.2M79.4 138.6h1.2M71.8 123.2h1.2M118.8 85.2h1.2M79.9 106.8h1.2M68.1 142.9h1.2M92.3 118.4h1.2M78.8 108.3h1.2M114.6 83.9h1.2M60.9 136.4h1.2M86.8 112.2h1.2M85.1 121.7h1.2M75.4 148.7h1.2M85.5 123.9h1.2M86.8 103.4h1.2M104.4 86.8h1.2M122.4 74.8h1.2M136.2 77.1h1.2M84.0 126.3h1.2M110.5 86.4h1.2M80.6 137.4h1.2M108.8 93.8h1.2M102.1 95.2h1.2M125.4 84.7h1.2M87.3 115.2h1.2M60.3 138.0h1.2M95.6 105.6h1.2M55.8 139.9h1.2M93.6 100.5h1.2M113.9 91.7h1.2M95.0 104.6h1.2M117.8 83.3h1.2M84.4 132.3h1.2M101.2 97.3h1.2M83.3 119.4h1.2M122.1 73.6h1.2M120.2 80.0h1.2M119.5 81.8h1.2M103.9 94.9h1.2M114.9 90.8h1.2M70.6 147.3h1.2M112.1 71.9h1.2M96.3 109.0h1.2M118.4 82.1h1.2M115.3 89.1h1.2M102.3 90.1h1.2M117.0 81.1h1.2M58.3 142.7h1.2M117.3 74.0h1.2M125.2 103.0h1.2M81.2 84.9h1.2M70.1 117.5h1.2M72.4 120.4h1.2M79.0 140.3h1.2M75.9 107.0h1.2M82.1 108.7h1.2M82.6 104.4h1.2M60.4 143.0h1.2M109.9 70.6h1.2M74.3 138.7h1.2M98.0 97.9h1.2M100.2 97.7h1.2M126.3 70.8h1.2M103.2 83.8h1.2M109.8 88.7h1.2M83.2 114.0h1.2M125.3 79.3h1.2M84.1 109.8h1.2M103.0 88.2h1.2M65.5 121.5h1.2M80.3 112.0h1.2M106.2 99.8h1.2M104.0 91.2h1.2M72.1 117.0h1.2M133.1 70.4h1.2M109.6 82.1h1.2M125.7 75.7h1.2M106.4 99.1h1.2M58.7 134.2h1.2M70.1 128.6h1.2M77.9 129.1h1.2M59.2 139.6h1.2M80.3 113.0h1.2M116.9 90.8h1.2M86.1 108.8h1.2M107.7 92.2h1.2M129.9 72.3h1.2M80.6 111.9h1.2M105.2 90.2h1.2M73.5 93.3h1.2M112.7 83.6h1.2M87.5 95.1h1.2M120.0 79.4h1.2M96.6 96.1h1.2M91.3 99.6h1.2M111.2 87.4h1.2M64.9 142.3h1.2M98.4 109.6h1.2M78.6 147.1h1.2M109.4 90.0h1.2M133.2 79.2h1.2M108.1 91.7h1.2M70.5 141.8h1.2M68.4 129.0h1.2M79.3 117.9h1.2M135.1 76.7h1.2M62.4 141.1h1.2M106.6 88.4h1.2M107.7 94.9h1.2M107.4 91.4h1.2M82.5 144.6h1.2M58.3 135.2h1.2M98.7 104.2h1.2M134.0 71.0h1.2M67.1 114.0h1.2M59.5 137.1h1.2M80.2 105.4h1.2M73.5 127.8h1.2M116.1 100.1h1.2M67.9 141.0h1.2M88.7 124.6h1.2M106.1 106.6h1.2M56.7 147.5h1.2M126.4 69.0h1.2M118.7 78.8h1.2M120.3 77.4h1.2M92.2 105.7h1.2M83.9 109.8h1.2M66.7 140.2h1.2M90.4 111.1h1.2M72.7 111.1h1.2M82.2 95.5h1.2M60.6 136.9h1.2M112.2 84.0h1.2M96.6 94.7h1.2M83.4 107.0h1.2M86.9 119.4h1.2M69.1 127.3h1.2M77.2 107.7h1.2M89.0 101.2h1.2M79.7 116.8h1.2M66.6 95.6h1.2M131.7 86.4h1.2M92.4 107.8h1.2M73.2 138.7h1.2M82.8 129.6h1.2M123.3 73.6h1.2M107.0 110.0h1.2M81.6 147.0h1.2M80.8 116.1h1.2M126.9 66.5h1.2M123.0 83.1h1.2M87.9 127.8h1.2M88.6 109.9h1.2M81.7 115.8h1.2M58.5 148.2h1.2M129.8 71.8h1.2M67.2 144.5h1.2M130.8 77.5h1.2M127.6 79.1h1.2M99.4 101.2h1.2M85.8 107.3h1.2M83.3 95.4h1.2M80.1 130.0h1.2M117.5 73.6h1.2M91.3 107.5h1.2M118.6 80.9h1.2M105.3 96.7h1.2M100.5 94.8h1.2M100.4 96.1h1.2M107.3 84.0h1.2M117.8 87.7h1.2M101.7 95.2h1.2M65.0 124.1h1.2M56.4 138.0h1.2M117.9 80.2h1.2M84.9 114.1h1.2M96.8 105.5h1.2M123.0 83.8h1.2M129.4 80.3h1.2M128.4 75.7h1.2M118.5 78.4h1.2M58.3 143.4h1.2M83.4 107.3h1.2M107.6 96.5h1.2M101.5 102.2h1.2M59.8 112.2h1.2M123.0 78.5h1.2M115.0 91.3h1.2M129.7 90.0h1.2M70.0 117.4h1.2M64.2 136.4h1.2M119.7 84.0h1.2M97.5 96.2h1.2M104.9 101.2h1.2M107.5 85.4h1.2M125.8 83.0h1.2M73.4 126.5h1.2M121.5 80.8h1.2M95.8 107.9h1.2M78.9 132.7h1.2M70.4 91.1h1.2M103.2 136.5h1.2M97.9 110.1h1.2M97.4 104.9h1.2M132.1 72.6h1.2M59.6 127.6h1.2M86.7 101.1h1.2M78.7 115.1h1.2M91.0 88.9h1.2M80.5 122.9h1.2M86.0 102.6h1.2M129.4 70.2h1.2M122.7 79.4h1.2M93.9 107.5h1.2M102.5 105.2h1.2M92.2 107.4h1.2M92.1 123.2h1.2M109.7 96.5h1.2M84.5 117.4h1.2M107.6 83.8h1.2M59.2 124.2h1.2M69.0 126.8h1.2M130.2 82.2h1.2M93.0 105.3h1.2M133.4 77.7h1.2M123.0 72.8h1.2M111.2 93.0h1.2M88.9 101.2h1.2M66.8 129.0h1.2M74.8 105.2h1.2M83.3 99.5h1.2M87.1 115.9h1.2M135.0 72.1h1.2M86.1 139.2h1.2M106.6 92.9h1.2M130.8 79.8h1.2M130.7 71.6h1.2M126.8 82.4h1.2M91.3 115.5h1.2M104.6 103.1h1.2M60.1 132.7h1.2M55.6 146.6h1.2M111.3 123.4h1.2M123.8 77.5h1.2M83.5 124.7h1.2M131.3 75.9h1.2M102.0 91.4h1.2M131.1 79.2h1.2M86.3 101.6h1.2M124.1 71.3h1.2M57.2 149.7h1.2M73.2 112.4h1.2M91.8 104.7h1.2M74.1 98.9h1.2M78.6 118.1h1.2M81.0 117.7h1.2M124.3 72.2h1.2M74.4 132.2h1.2M95.3 97.8h1.2M87.7 116.5h1.2M112.5 88.8h1.2M99.0 106.8h1.2M131.8 69.4h1.2M94.6 96.5h1.2M80.8 135.9h1.2M70.4 111.6h1.2M116.9 79.2h1.2M74.5 125.0h1.2M121.8 71.3h1.2M84.1 121.4h1.2M130.4 76.8h1.2M120.8 95.9h1.2M80.7 117.4h1.2M58.5 134.6h1.2M91.9 102.2h1.2M118.3 82.1h1.2M111.6 133.6h1.2M74.8 130.6h1.2M95.3 128.9h1.2M56.3 136.3h1.2M64.2 104.0h1.2M121.7 79.1h1.2M120.9 81.4h1.2M129.1 77.0h1.2M60.6 136.9h1.2M118.7 82.1h1.2M113.0 103.6h1.2M56.8 129.3h1.2M66.5 105.3h1.2M124.0 73.9h1.2M118.4 87.6h1.2M130.5 78.2h1.2M82.9 110.7h1.2M77.9 97.6h1.2M103.0 94.4h1.2M94.4 89.9h1.2M123.4 85.1h1.2M116.6 85.4h1.2M129.8 76.0h1.2M58.8 136.5h1.2M108.7 93.7h1.2M84.2 100.6h1.2M105.0 94.3h1.2M124.9 78.5h1.2M117.1 82.0h1.2M122.0 83.7h1.2M102.7 103.1h1.2M68.8 113.3h1.2M92.6 111.7h1.2M106.2 88.6h1.2M83.6 101.0h1.2M93.4 106.5h1.2M101.6 90.5h1.2M114.7 86.7h1.2M72.0 120.9h1.2M100.1 98.3h1.2M65.0 135.4h1.2M127.5 79.6h1.2M121.9 73.7h1.2M73.6 120.0h1.2M89.4 100.4h1.2M122.8 97.6h1.2M133.8 73.3h1.2M104.4 96.1h1.2M76.9 112.6h1.2M99.7 100.6h1.2M101.4 99.2h1.2M120.3 111.7h1.2M88.0 141.9h1.2M121.4 82.6h1.2M96.7 106.6h1.2M75.7 124.0h1.2M70.4 143.3h1.2M106.1 94.4h1.2M62.3 122.3h1.2M119.7 82.3h1.2M59.2 118.1h1.2M66.4 128.1h1.2M111.4 86.7h1.2M69.5 117.9h1.2M131.3 70.1h1.2M91.1 105.8h1.2M131.9 79.3h1.2M122.0 80.6h1.2M76.5 107.4h1.2M108.7 93.1h1.2M93.0 114.9h1.2M130.3 72.4h1.2M112.2 82.8h1.2M90.5 120.8h1.2M65.3 149.5h1.2M68.6 116.3h1.2M81.2 127.5h1.2M73.1 125.1h1.2M112.1 99.8h1.2M121.9 87.6h1.2M113.5 80.5h1.2M64.0 145.3h1.2M102.3 98.1h1.2M107.8 92.2h1.2M113.9 89.2h1.2M125.0 78.6h1.2M61.9 118.3h1.2M69.7 119.9h1.2M66.0 124.5h1.2M99.7 93.9h1.2M81.8 106.4h1.2M96.4 100.6h1.2M115.8 75.7h1.2M86.7 99.7h1.2M123.7 80.2h1.2M121.1 90.8h1.2M78.5 100.2h1.2M96.3 101.3h1.2M79.8 111.8h1.2M71.1 118.1h1.2M107.6 92.3h1.2M90.2 98.6h1.2M72.2 122.4h1.2M97.5 96.5h1.2M81.0 101.3h1.2M110.7 93.0h1.2M78.6 105.9h1.2M126.2 75.3h1.2M124.6 79.1h1.2M57.6 126.6h1.2M107.9 98.9h1.2M122.7 90.6h1.2M91.9 87.3h1.2M128.6 73.7h1.2M85.3 138.7h1.2M106.6 99.1h1.2M89.7 97.9h1.2M104.5 98.2h1.2M128.8 74.4h1.2M72.7 126.0h1.2M60.4 135.6h1.2M116.9 88.4h1.2M95.5 112.7h1.2M127.2 76.7h1.2M118.3 82.2h1.2M91.7 83.8h1.2M129.1 68.9h1.2M78.3 113.5h1.2M58.4 122.9h1.2M83.3 99.2h1.2M90.8 138.8h1.2M70.0 133.8h1.2M108.1 77.3h1.2M75.3 116.1h1.2M112.7 84.5h1.2M117.6 84.5h1.2M103.2 92.0h1.2M86.3 108.6h1.2M73.8 119.3h1.2" stroke="#000" stroke-width="1.2" fill="none"/>
<path d="M171.6 32.5h2.0M144.5 46.2h2.0M139.1 56.2h2.0M94.0 80.2h2.0M148.3 48.7h2.0M104.1 82.1h2.0M133.2 63.9h2.0M178.3 23.6h2.0M160.8 34.9h2.0M107.3 81.8h2.0M128.4 67.1h2.0M148.9 42.3h2.0M172.9 28.4h2.0M130.8 66.2h2.0M126.9 66.8h2.0M123.4 71.3h2.0M145.2 48.6h2.0M160.1 37.4h2.0M99.6 80.6h2.0M144.7 50.3h2.0M85.7 67.6h2.0M149.9 50.5h2.0M140.0 59.4h2.0M129.8 53.5h2.0M158.1 33.7h2.0M172.1 28.5h2.0M127.1 60.8h2.0M172.7 22.8h2.0M145.3 32.5h2.0M135.1 55.5h2.0M116.9 74.0h2.0M119.8 64.2h2.0M110.1 79.1h2.0M155.3 47.9h2.0M179.4 22.7h2.0M118.1 61.9h2.0M140.4 57.5h2.0M127.7 60.6h2.0M130.2 57.1h2.0M157.1 42.3h2.0M136.4 55.9h2.0M166.1 38.0h2.0M145.7 44.5h2.0M112.6 63.0h2.0M120.0 67.0h2.0M161.5 38.1h2.0M143.1 52.8h2.0M178.3 23.3h2.0M128.7 63.8h2.0M122.5 67.4h2.0M155.1 36.0h2.0M157.0 42.9h2.0M137.8 60.2h2.0M123.9 60.9h2.0M146.4 20.1h2.0M155.9 46.8h2.0M164.0 39.3h2.0M174.7 33.1h2.0M94.5 79.6h2.0M177.9 19.0h2.0M146.7 51.4h2.0M105.0 76.2h2.0M102.6 81.6h2.0M121.4 62.8h2.0M127.5 64.2h2.0M136.4 24.7h2.0M136.4 59.7h2.0M183.6 24.4h2.0M122.9 70.7h2.0M96.1 74.2h2.0M138.7 38.2h2.0M148.7 46.8h2.0M137.9 55.6h2.0M139.3 53.2h2.0M183.3 26.7h2.0M115.4 71.8h2.0M160.5 39.0h2.0M115.1 75.6h2.0M121.7 51.8h2.0M169.9 31.8h2.0M141.7 54.1h2.0M174.1 27.7h2.0M153.7 49.0h2.0M123.6 65.3h2.0M158.2 42.6h2.0M140.8 48.5h2.0M103.9 68.3h2.0M177.7 26.9h2.0M114.6 56.1h2.0M144.5 23.7h2.0M118.8 74.7h2.0M114.8 70.3h2.0M120.8 66.0h2.0M152.4 42.3h2.0M179.2 27.7h2.0M128.6 62.0h2.0M114.5 78.1h2.0M164.0 34.5h2.0M159.7 44.4h2.0M173.5 34.8h2.0M107.1 76.5h2.0M119.3 72.0h2.0M138.6 53.2h2.0M156.7 45.5h2.0M111.8 60.7h2.0M153.6 46.4h2.0M140.8 53.7h2.0M132.2 63.6h2.0M137.3 45.3h2.0M117.4 70.3h2.0M157.8 40.5h2.0M120.9 63.5h2.0M139.7 55.7h2.0M115.8 71.9h2.0M179.6 25.3h2.0M162.3 22.2h2.0M120.7 73.1h2.0M127.7 62.5h2.0M123.5 70.2h2.0M112.1 75.4h2.0M126.0 67.3h2.0M133.1 56.7h2.0M148.2 53.1h2.0M132.0 57.1h2.0M171.1 34.1h2.0M144.2 53.4h2.0M100.4 86.0h2.0M164.6 39.5h2.0M156.3 40.6h2.0M122.9 70.1h2.0M137.9 56.7h2.0M118.4 73.8h2.0M173.9 30.6h2.0M122.6 68.6h2.0M113.9 72.0h2.0M150.2 41.8h2.0M139.7 50.3h2.0M148.8 34.8h2.0M118.7 60.3h2.0M117.0 70.5h2.0M141.9 53.6h2.0M138.0 54.9h2.0M133.1 63.7h2.0M124.9 69.6h2.0M152.4 48.1h2.0M166.0 31.5h2.0M119.0 66.9h2.0M132.0 62.6h2.0M139.9 52.4h2.0M178.6 21.9h2.0M148.2 48.7h2.0M107.2 47.2h2.0M134.6 62.2h2.0M121.1 67.2h2.0M107.9 77.0h2.0M166.9 39.2h2.0M127.6 65.1h2.0M108.0 79.1h2.0M140.5 56.0h2.0M151.8 24.0h2.0M171.2 32.3h2.0M109.9 80.8h2.0M165.2 41.0h2.0M120.0 65.5h2.0M168.6 27.4h2.0M131.5 55.9h2.0M102.7 76.5h2.0M155.1 43.3h2.0M141.7 52.0h2.0M118.4 73.5h2.0M115.9 74.1h2.0M121.1 69.7h2.0M169.3 33.5h2.0M148.2 49.2h2.0M147.7 35.4h2.0M108.7 42.4h2.0M119.4 72.2h2.0M129.4 59.8h2.0M119.1 72.0h2.0M116.8 75.7h2.0M164.6 40.0h2.0M119.5 73.5h2.0M98.8 47.4h2.0M142.5 51.8h2.0M173.1 25.5h2.0M128.3 63.6h2.0M153.6 47.5h2.0M171.2 33.9h2.0M178.6 24.1h2.0M121.8 71.4h2.0M182.2 25.7h2.0M118.5 63.4h2.0M168.7 24.3h2.0M128.5 66.9h2.0M149.2 47.5h2.0M165.9 24.1h2.0M136.4 47.9h2.0M120.0 67.5h2.0M130.0 65.4h2.0M116.4 76.1h2.0M124.6 55.1h2.0M146.0 47.9h2.0M140.1 51.2h2.0M122.1 68.1h2.0M164.0 38.4h2.0M173.5 29.8h2.0M180.1 28.9h2.0M126.5 65.5h2.0M134.0 60.2h2.0M172.0 28.0h2.0M105.8 82.1h2.0M165.1 34.1h2.0M154.3 46.0h2.0M99.6 81.4h2.0M170.3 22.2h2.0M147.2 53.6h2.0M130.6 59.9h2.0M111.2 55.1h2.0M125.3 59.4h2.0M153.9 46.2h2.0M158.1 44.1h2.0M126.3 66.0h2.0M178.4 24.7h2.0M140.0 52.5h2.0M116.9 64.4h2.0M111.6 59.6h2.0M143.8 38.6h2.0M119.0 69.0h2.0M151.1 43.6h2.0M138.5 58.1h2.0M127.2 65.4h2.0M125.8 47.4h2.0M144.7 54.9h2.0M171.4 35.5h2.0M108.2 60.9h2.0M182.3 27.3h2.0M153.9 41.4h2.0M137.2 56.9h2.0M173.8 30.3h2.0M167.3 29.3h2.0M173.4 29.8h2.0M183.2 25.0h2.0M119.4 74.1h2.0M117.2 76.0h2.0M125.2 69.7h2.0M122.6 69.5h2.0M169.7 37.5h2.0M177.0 30.3h2.0M114.2 70.3h2.0M140.3 49.6h2.0M146.8 33.7h2.0M145.0 53.3h2.0M119.7 73.1h2.0M177.4 27.7h2.0M134.2 63.4h2.0M143.8 49.0h2.0M150.4 42.5h2.0M148.4 51.7h2.0M177.1 29.4h2.0M168.8 30.0h2.0M152.3 47.4h2.0M129.1 57.5h2.0M120.9 65.7h2.0M181.3 26.7h2.0M118.2 73.7h2.0M166.8 32.2h2.0M156.8 43.4h2.0M165.3 34.6h2.0M156.9 45.2h2.0M113.8 44.9h2.0M116.3 73.6h2.0M123.2 69.5h2.0M143.8 48.5h2.0M148.1 41.5h2.0M133.5 64.2h2.0M108.0 75.7h2.0M139.6 57.3h2.0M174.1 23.2h2.0M137.4 57.7h2.0M160.3 42.4h2.0M150.5 43.1h2.0M116.7 70.2h2.0M150.3 47.9h2.0M159.8 40.5h2.0M178.8 25.1h2.0M165.5 35.6h2.0M130.2 65.5h2.0M154.5 48.5h2.0M115.4 77.0h2.0M108.8 60.9h2.0M138.3 59.9h2.0M157.6 36.7h2.0M184.1 25.4h2.0M132.7 53.7h2.0M118.0 73.5h2.0M141.5 49.8h2.0M112.9 67.5h2.0M121.3 66.6h2.0M177.4 18.8h2.0M164.6 36.4h2.0M160.7 41.7h2.0M125.6 62.7h2.0M111.8 50.9h2.0M147.0 43.7h2.0M120.4 71.6h2.0M98.2 85.4h2.0M138.1 55.2h2.0M157.8 43.2h2.0M158.6 45.0h2.0M183.7 26.0h2.0M181.0 23.3h2.0M117.7 62.0h2.0M173.7 29.4h2.0M116.5 70.0h2.0M153.5 40.2h2.0M132.7 59.6h2.0M135.6 40.0h2.0M151.1 43.6h2.0M157.6 40.5h2.0M162.9 30.1h2.0M183.0 25.5h2.0M151.9 43.2h2.0M105.0 54.3h2.0M138.2 59.8h2.0M170.9 32.6h2.0M177.8 26.0h2.0M126.4 58.8h2.0M119.1 67.9h2.0M163.2 29.4h2.0M104.3 69.4h2.0M151.4 49.9h2.0M124.4 59.4h2.0M141.2 57.4h2.0M130.0 58.9h2.0M116.8 64.1h2.0M113.8 78.6h2.0M117.6 57.7h2.0M151.1 40.4h2.0M150.9 44.8h2.0M135.3 47.3h2.0M166.6 34.6h2.0M143.5 32.9h2.0M138.0 49.8h2.0M169.7 28.4h2.0M116.7 70.7h2.0M111.5 73.5h2.0M131.8 62.8h2.0M137.3 48.8h2.0M179.1 27.5h2.0M165.6 34.2h2.0M121.5 58.6h2.0M173.2 20.3h2.0M152.0 49.3h2.0M83.7 71.4h2.0M161.0 42.6h2.0M114.4 69.4h2.0M182.9 26.1h2.0M123.1 68.4h2.0M142.2 55.4h2.0M157.4 46.2h2.0M141.3 48.9h2.0M169.9 29.4h2.0M118.0 75.4h2.0M126.5 68.4h2.0M116.0 73.5h2.0M151.7 39.7h2.0M142.8 38.3h2.0M167.7 35.4h2.0M161.8 28.6h2.0M170.5 33.1h2.0M139.5 58.0h2.0M137.4 46.8h2.0M125.5 56.9h2.0M116.8 63.1h2.0M122.9 69.9h2.0M147.1 54.3h2.0M119.2 74.0h2.0M102.0 51.8h2.0M167.9 28.4h2.0M125.9 68.7h2.0M145.0 37.6h2.0M173.7 29.6h2.0M179.9 27.2h2.0M121.0 68.5h2.0M111.7 77.8h2.0M91.9 77.3h2.0M115.0 67.5h2.0M150.0 41.8h2.0M166.4 28.2h2.0" stroke="#5a9fbd" stroke-width="2.0" fill="none"/>
<path d="M129.7 91.8h2.0M178.7 46.6h2.0M156.4 83.7h2.0M134.8 81.8h2.0M163.4 73.9h2.0M137.8 75.5h2.0M132.0 83.9h2.0M134.9 81.1h2.0M117.4 97.6h2.0M178.5 56.5h2.0M164.8 62.5h2.0M178.5 46.6h2.0M159.4 73.2h2.0M148.1 76.6h2.0M159.4 65.7h2.0M169.7 61.7h2.0M163.4 56.7h2.0M144.7 84.4h2.0M148.4 74.6h2.0M117.0 99.3h2.0M152.9 80.2h2.0M164.6 50.1h2.0M152.9 77.1h2.0M141.2 76.2h2.0M160.0 78.3h2.0M138.0 93.6h2.0M128.2 82.8h2.0M177.0 41.9h2.0M135.7 79.3h2.0M168.8 53.0h2.0M170.8 46.7h2.0M163.6 52.6h2.0M147.4 95.3h2.0M149.3 65.6h2.0M179.4 44.3h2.0M139.9 71.8h2.0M155.2 65.0h2.0M161.2 55.2h2.0M144.4 85.5h2.0M144.1 78.7h2.0M130.5 86.6h2.0M144.9 73.1h2.0M181.4 38.9h2.0M135.7 106.0h2.0M140.1 72.1h2.0M165.5 59.0h2.0M144.9 70.5h2.0M153.8 104.4h2.0M138.3 120.7h2.0M186.7 51.2h2.0M179.6 43.9h2.0M144.1 94.6h2.0M158.0 58.7h2.0M122.4 88.2h2.0M145.3 67.4h2.0M155.5 64.4h2.0M157.1 61.2h2.0M165.1 52.0h2.0M143.6 70.3h2.0M151.9 86.1h2.0M145.5 83.6h2.0M136.1 85.5h2.0M156.1 59.9h2.0M137.5 95.0h2.0M180.7 34.3h2.0M131.6 82.2h2.0M119.5 96.4h2.0M172.7 44.8h2.0M156.8 76.6h2.0M145.9 75.0h2.0M139.6 111.0h2.0M182.6 45.3h2.0M177.5 98.0h2.0M148.4 129.8h2.0M117.8 99.3h2.0M169.8 47.7h2.0M183.2 43.7h2.0M173.7 47.1h2.0M184.4 36.5h2.0M120.5 97.8h2.0M141.7 72.3h2.0M166.3 55.7h2.0M146.5 90.9h2.0M156.9 90.7h2.0M140.8 88.5h2.0M137.6 90.2h2.0M153.6 65.2h2.0M156.7 74.3h2.0M140.7 83.2h2.0M162.8 63.5h2.0M172.1 49.2h2.0M147.5 67.6h2.0M135.1 81.7h2.0M129.9 84.7h2.0M131.4 85.3h2.0M155.3 64.4h2.0M142.7 83.5h2.0M143.8 74.8h2.0M174.1 47.7h2.0M125.1 95.3h2.0M136.5 76.5h2.0M144.3 74.2h2.0M171.0 51.1h2.0M156.8 68.2h2.0M166.0 112.7h2.0M135.9 91.7h2.0M141.5 79.8h2.0M172.1 56.9h2.0M134.2 84.7h2.0M174.0 42.5h2.0M132.6 89.9h2.0M176.7 46.2h2.0M143.1 87.7h2.0M162.5 69.8h2.0M159.4 65.0h2.0M142.2 112.2h2.0M138.2 77.0h2.0M148.3 75.9h2.0M135.9 86.9h2.0M143.4 76.6h2.0M152.0 65.3h2.0M147.0 75.5h2.0M184.4 38.0h2.0M154.1 58.8h2.0M130.9 83.6h2.0M151.4 62.2h2.0M141.9 74.4h2.0M161.2 60.6h2.0M118.1 104.5h2.0M131.3 81.1h2.0M132.5 83.2h2.0M149.1 71.3h2.0M139.7 75.4h2.0M120.9 99.1h2.0M142.0 86.9h2.0M143.6 69.3h2.0M161.5 98.1h2.0M159.5 71.3h2.0M135.9 82.5h2.0M167.0 48.9h2.0M179.7 40.5h2.0M141.1 84.3h2.0M142.3 73.3h2.0M123.1 94.7h2.0M160.0 79.5h2.0M181.4 45.3h2.0M165.5 60.2h2.0M182.0 40.9h2.0M181.4 49.3h2.0M134.0 90.1h2.0M145.1 78.3h2.0M177.7 50.3h2.0M145.6 85.0h2.0M160.7 52.6h2.0M148.5 115.4h2.0M153.4 98.6h2.0M156.5 58.9h2.0M144.3 74.3h2.0M143.2 78.3h2.0M139.2 73.1h2.0M178.6 48.2h2.0M179.2 38.7h2.0M178.6 43.8h2.0M168.1 55.0h2.0M149.9 78.1h2.0M128.0 98.8h2.0M137.6 87.9h2.0M164.3 63.4h2.0M146.5 81.2h2.0M143.0 71.9h2.0M144.9 71.8h2.0M173.3 50.8h2.0M148.7 67.3h2.0M159.9 57.9h2.0M131.9 82.2h2.0M156.9 62.3h2.0M135.0 82.0h2.0M178.0 37.8h2.0M161.6 70.3h2.0M137.4 75.2h2.0M160.5 58.3h2.0M173.4 80.0h2.0M138.8 81.4h2.0M161.5 58.6h2.0M166.5 72.2h2.0M158.9 76.0h2.0M180.0 37.9h2.0M169.1 52.0h2.0M131.0 79.6h2.0M158.0 107.4h2.0M176.7 50.7h2.0M139.1 78.6h2.0M159.0 66.9h2.0M165.2 80.3h2.0M160.6 60.2h2.0M127.9 83.9h2.0M153.3 64.6h2.0M148.1 77.6h2.0M169.1 47.0h2.0M147.4 80.2h2.0M135.9 76.0h2.0M177.9 38.0h2.0M161.4 73.7h2.0M160.1 67.0h2.0M153.3 69.8h2.0M155.4 76.4h2.0M134.5 77.2h2.0M176.7 41.1h2.0M132.8 88.1h2.0M139.7 83.6h2.0M136.5 77.5h2.0M151.9 93.1h2.0M145.5 79.9h2.0M144.4 80.3h2.0M147.8 73.5h2.0M145.0 75.1h2.0M167.6 50.8h2.0" stroke="#d4424d" stroke-width="2.0" fill="none"/>
<path d="M54.7 18.6V150.7H189.10000000000002" stroke="#2a2a2a" stroke-width="1" fill="none"/>
<path d="M52.7 150.7H55.0M55.0 150.7V152.89999999999998M52.7 124.3H55.0M81.8 150.7V152.89999999999998M52.7 97.9H55.0M108.5 150.7V152.89999999999998M52.7 71.4H55.0M135.3 150.7V152.89999999999998M52.7 45.0H55.0M162.0 150.7V152.89999999999998M52.7 18.6H55.0M188.8 150.7V152.89999999999998" stroke="#2a2a2a" stroke-width="1"/>
<text x="50.8" y="154.7" font-size="10.4" text-anchor="end" fill="#1a1a1a" stroke="#1a1a1a" stroke-width="0.22">10<tspan font-size="5.8" dy="-3.5">- 2</tspan></text>
<text x="56.2" y="164.3" font-size="10.4" text-anchor="middle" fill="#1a1a1a" stroke="#1a1a1a" stroke-width="0.22">10<tspan font-size="5.8" dy="-3.5"> - 2</tspan></text>
<text x="50.8" y="128.3" font-size="10.4" text-anchor="end" fill="#1a1a1a" stroke="#1a1a1a" stroke-width="0.22">10<tspan font-size="5.8" dy="-3.5">- 1</tspan></text>
<text x="83.0" y="164.3" font-size="10.4" text-anchor="middle" fill="#1a1a1a" stroke="#1a1a1a" stroke-width="0.22">10<tspan font-size="5.8" dy="-3.5"> - 1</tspan></text>
<text x="50.8" y="101.9" font-size="10.4" text-anchor="end" fill="#1a1a1a" stroke="#1a1a1a" stroke-width="0.22">10<tspan font-size="5.8" dy="-3.5">0</tspan></text>
<text x="109.7" y="164.3" font-size="10.4" text-anchor="middle" fill="#1a1a1a" stroke="#1a1a1a" stroke-width="0.22">10<tspan font-size="5.8" dy="-3.5">0</tspan></text>
<text x="50.8" y="75.4" font-size="10.4" text-anchor="end" fill="#1a1a1a" stroke="#1a1a1a" stroke-width="0.22">10<tspan font-size="5.8" dy="-3.5">1</tspan></text>
<text x="136.5" y="164.3" font-size="10.4" text-anchor="middle" fill="#1a1a1a" stroke="#1a1a1a" stroke-width="0.22">10<tspan font-size="5.8" dy="-3.5">1</tspan></text>
<text x="50.8" y="49.0" font-size="10.4" text-anchor="end" fill="#1a1a1a" stroke="#1a1a1a" stroke-width="0.22">10<tspan font-size="5.8" dy="-3.5">2</tspan></text>
<text x="163.2" y="164.3" font-size="10.4" text-anchor="middle" fill="#1a1a1a" stroke="#1a1a1a" stroke-width="0.22">10<tspan font-size="5.8" dy="-3.5">2</tspan></text>
<text x="50.8" y="22.6" font-size="10.4" text-anchor="end" fill="#1a1a1a" stroke="#1a1a1a" stroke-width="0.22">10<tspan font-size="5.8" dy="-3.5">3</tspan></text>
<text x="190.0" y="164.3" font-size="10.4" text-anchor="middle" fill="#1a1a1a" stroke="#1a1a1a" stroke-width="0.22">10<tspan font-size="5.8" dy="-3.5">3</tspan></text>
<text x="1.4" y="13.5" font-size="17" text-anchor="start" font-weight="bold" font-style="normal" fill="#000" >A</text>
<text x="59.5" y="25.5" font-size="10" text-anchor="start" font-weight="normal" font-style="normal" fill="#5f9fbd"  stroke="#5f9fbd" stroke-width="0.22">Overexpressed</text>
<text x="59.5" y="37.8" font-size="10" text-anchor="start" font-weight="normal" font-style="normal" fill="#5f9fbd"  stroke="#5f9fbd" stroke-width="0.22">(391)</text>
<text x="187" y="133.6" font-size="10" text-anchor="end" font-weight="normal" font-style="normal" fill="#d04a55"  stroke="#d04a55" stroke-width="0.22">(218)</text>
<text x="187.5" y="145.3" font-size="10" text-anchor="end" font-weight="normal" font-style="normal" fill="#d04a55"  stroke="#d04a55" stroke-width="0.22">Underexpressed</text>
<text x="121" y="177.6" font-size="11.3" text-anchor="middle" font-weight="normal" font-style="normal" fill="#1a1a1a"  stroke="#1a1a1a" stroke-width="0.22">Expression (RPKM)</text>
<text x="96" y="194" font-size="11.3" font-style="italic" fill="#1a1a1a" stroke="#1a1a1a" stroke-width="0.22">Mef2c/d<tspan font-size="7.5" dy="-4.5">+/+</tspan></text>
<text transform="translate(12.8 84) rotate(-90)" font-size="11.3" text-anchor="middle" fill="#1a1a1a" stroke="#1a1a1a" stroke-width="0.22">Expression (RPKM)</text>
<text transform="translate(28 109.4) rotate(-90)" font-size="10.7" font-style="italic" fill="#1a1a1a" stroke="#1a1a1a" stroke-width="0.22">Mef2c/d<tspan font-size="7.2" dy="-4.4">Δ/Δ</tspan></text>
<text x="215.7" y="13.3" font-size="17" text-anchor="start" font-weight="bold" font-style="normal" fill="#000" >B</text>
<rect x="399.5" y="16.6" width="96.6" height="14.6" fill="#0c0c78"/>
<text x="393.3" y="27.9" font-size="10.6" text-anchor="end" fill="#1a1a1a" xml:space="preserve" stroke="#1a1a1a" stroke-width="0.22">regulation of lymphocyte differentiation</text>
<text x="498.8" y="27.0" font-size="9.1" text-anchor="start" font-weight="normal" font-style="normal" fill="#1a1a1a"  stroke="#1a1a1a" stroke-width="0.22">n=40</text>
<rect x="399.5" y="36.0" width="57.6" height="14.6" fill="#0c0c78"/>
<text x="393.3" y="47.3" font-size="10.6" text-anchor="end" fill="#1a1a1a" xml:space="preserve" stroke="#1a1a1a" stroke-width="0.22">intracellular signal transduction</text>
<text x="460.5" y="46.4" font-size="9.1" text-anchor="start" font-weight="normal" font-style="normal" fill="#1a1a1a"  stroke="#1a1a1a" stroke-width="0.22">n=65</text>
<rect x="399.5" y="55.4" width="27.5" height="14.6" fill="#0c0c78"/>
<text x="393.3" y="66.7" font-size="10.6" text-anchor="end" fill="#1a1a1a" xml:space="preserve" stroke="#1a1a1a" stroke-width="0.22">cell surface receptor signaling </text>
<text x="431.2" y="65.8" font-size="9.1" text-anchor="start" font-weight="normal" font-style="normal" fill="#1a1a1a"  stroke="#1a1a1a" stroke-width="0.22">n=12</text>
<rect x="399.5" y="74.8" width="26.0" height="14.6" fill="#0c0c78"/>
<text x="393.3" y="86.1" font-size="10.6" text-anchor="end" fill="#1a1a1a" xml:space="preserve" stroke="#1a1a1a" stroke-width="0.22">cell adhesion</text>
<text x="429.5" y="85.2" font-size="9.1" text-anchor="start" font-weight="normal" font-style="normal" fill="#1a1a1a"  stroke="#1a1a1a" stroke-width="0.22">n=40</text>
<rect x="399.5" y="94.3" width="22.1" height="14.6" fill="#0c0c78"/>
<text x="393.3" y="105.6" font-size="10.6" text-anchor="end" fill="#1a1a1a" xml:space="preserve" stroke="#1a1a1a" stroke-width="0.22">cell death</text>
<text x="425.8" y="104.7" font-size="9.1" text-anchor="start" font-weight="normal" font-style="normal" fill="#1a1a1a"  stroke="#1a1a1a" stroke-width="0.22">n=38</text>
<rect x="399.5" y="113.7" width="21.2" height="14.6" fill="#0c0c78"/>
<text x="393.3" y="125.0" font-size="10.6" text-anchor="end" fill="#1a1a1a" xml:space="preserve" stroke="#1a1a1a" stroke-width="0.22">protein metabolic process</text>
<text x="424.5" y="124.1" font-size="9.1" text-anchor="start" font-weight="normal" font-style="normal" fill="#1a1a1a"  stroke="#1a1a1a" stroke-width="0.22">n=105</text>
<rect x="399.5" y="133.1" width="11.3" height="14.6" fill="#0c0c78"/>
<text x="393.3" y="144.4" font-size="10.6" text-anchor="end" fill="#1a1a1a" xml:space="preserve" stroke="#1a1a1a" stroke-width="0.22">mitotic cell cycle</text>
<text x="414.7" y="143.5" font-size="9.1" text-anchor="start" font-weight="normal" font-style="normal" fill="#1a1a1a"  stroke="#1a1a1a" stroke-width="0.22">n=24</text>
<rect x="399.5" y="152.6" width="6.7" height="14.6" fill="#0c0c78"/>
<text x="393.3" y="163.9" font-size="10.6" text-anchor="end" fill="#1a1a1a" xml:space="preserve" stroke="#1a1a1a" stroke-width="0.22">positive regulation of transcription</text>
<text x="408.8" y="163.0" font-size="9.1" text-anchor="start" font-weight="normal" font-style="normal" fill="#1a1a1a"  stroke="#1a1a1a" stroke-width="0.22">n=40</text>
<path d="M399.5 13.8V169.4H496.5" stroke="#2a2a2a" stroke-width="1" fill="none"/>
<text x="399.5" y="183.7" font-size="10" text-anchor="middle" font-weight="normal" font-style="normal" fill="#1a1a1a"  stroke="#1a1a1a" stroke-width="0.22">0</text>
<text x="414.4" y="183.7" font-size="10" text-anchor="middle" font-weight="normal" font-style="normal" fill="#1a1a1a"  stroke="#1a1a1a" stroke-width="0.22">2</text>
<text x="429.2" y="183.7" font-size="10" text-anchor="middle" font-weight="normal" font-style="normal" fill="#1a1a1a"  stroke="#1a1a1a" stroke-width="0.22">4</text>
<text x="444.1" y="183.7" font-size="10" text-anchor="middle" font-weight="normal" font-style="normal" fill="#1a1a1a"  stroke="#1a1a1a" stroke-width="0.22">6</text>
<text x="458.9" y="183.7" font-size="10" text-anchor="middle" font-weight="normal" font-style="normal" fill="#1a1a1a"  stroke="#1a1a1a" stroke-width="0.22">8</text>
<text x="473.8" y="183.7" font-size="10" text-anchor="middle" font-weight="normal" font-style="normal" fill="#1a1a1a"  stroke="#1a1a1a" stroke-width="0.22">10</text>
<text x="488.7" y="183.7" font-size="10" text-anchor="middle" font-weight="normal" font-style="normal" fill="#1a1a1a"  stroke="#1a1a1a" stroke-width="0.22">12</text>
<path d="M396.3 23.9H399.5M396.3 43.3H399.5M396.3 62.7H399.5M396.3 82.1H399.5M396.3 101.6H399.5M396.3 121.0H399.5M396.3 140.4H399.5M396.3 159.9H399.5M399.5 169.4V172M414.4 169.4V172M429.2 169.4V172M444.1 169.4V172M458.9 169.4V172M473.8 169.4V172M488.7 169.4V172" stroke="#2a2a2a" stroke-width="1"/>
<text x="447.6" y="199" font-size="10.2" text-anchor="middle" font-weight="normal" font-style="normal" fill="#1a1a1a"  stroke="#1a1a1a" stroke-width="0.22">- log (p-value)</text>
<text x="0.6" y="222.4" font-size="17" text-anchor="start" font-weight="bold" font-style="normal" fill="#000" >C</text>
<rect x="52.8" y="217.3" width="8.9" height="8.9" fill="#0b0b6e" stroke="#111" stroke-width="0.6"/>
<rect x="52.8" y="231.6" width="8.9" height="8.9" fill="#d9534f" stroke="#111" stroke-width="0.6"/>
<text x="65.2" y="225.5" font-size="13" font-style="italic" fill="#1a1a1a" textLength="46.4" lengthAdjust="spacingAndGlyphs" stroke="#1a1a1a" stroke-width="0.22">Mef2c/d</text>
<text x="111.9" y="222.1" font-size="8.6" fill="#1a1a1a" textLength="12" lengthAdjust="spacingAndGlyphs" stroke="#1a1a1a" stroke-width="0.22">+/+</text>
<text x="65.2" y="240.3" font-size="13" font-style="italic" fill="#1a1a1a" textLength="46.4" lengthAdjust="spacingAndGlyphs" stroke="#1a1a1a" stroke-width="0.22">Mef2c/d</text>
<text x="111.9" y="236.9" font-size="8.6" fill="#1a1a1a" textLength="12" lengthAdjust="spacingAndGlyphs" stroke="#1a1a1a" stroke-width="0.22">Δ/Δ</text>
<path d="M46.3 278.2H133.3" stroke="#111" stroke-width="1" stroke-dasharray="1.5 1.5"/>
<rect x="49.2" y="278.2" width="5.9" height="87.8" fill="#0b0b6e" stroke="#04042a" stroke-width="0.7"/>
<rect x="55.2" y="268.0" width="5.9" height="98.0" fill="#d9534f" stroke="#2a0505" stroke-width="0.9"/>
<rect x="55.2" y="268.0" width="5.9" height="13.0" fill="#8e3030" stroke="#2a0505" stroke-width="0.9"/>
<path d="M58.5 268.0V281.0M56.9 281.0h3.2" stroke="#2a0808" stroke-width="0.9" stroke-opacity="0.8"/>
<path d="M58.5 268.0V255.0M56.7 255.0h3.6" stroke="#000" stroke-width="1"/>
<rect x="66.5" y="278.2" width="5.9" height="87.8" fill="#0b0b6e" stroke="#04042a" stroke-width="0.7"/>
<rect x="72.5" y="310.0" width="5.9" height="56.0" fill="#d9534f" stroke="#2a0505" stroke-width="0.9"/>
<rect x="72.5" y="310.0" width="5.9" height="7.9" fill="#8e3030" stroke="#2a0505" stroke-width="0.9"/>
<path d="M75.5 310.0V317.9M73.9 317.9h3.2" stroke="#2a0808" stroke-width="0.9" stroke-opacity="0.8"/>
<path d="M75.5 310.0V302.1M73.7 302.1h3.6" stroke="#000" stroke-width="1"/>
<rect x="83.7" y="278.2" width="5.9" height="87.8" fill="#0b0b6e" stroke="#04042a" stroke-width="0.7"/>
<rect x="89.7" y="319.0" width="5.9" height="47.0" fill="#d9534f" stroke="#2a0505" stroke-width="0.9"/>
<rect x="89.7" y="319.0" width="5.9" height="6.1" fill="#8e3030" stroke="#2a0505" stroke-width="0.9"/>
<path d="M92.5 319.0V325.2M90.9 325.2h3.2" stroke="#2a0808" stroke-width="0.9" stroke-opacity="0.8"/>
<path d="M92.5 319.0V312.9M90.7 312.9h3.6" stroke="#000" stroke-width="1"/>
<rect x="101.0" y="278.2" width="5.9" height="87.8" fill="#0b0b6e" stroke="#04042a" stroke-width="0.7"/>
<rect x="107.0" y="302.4" width="5.9" height="63.6" fill="#d9534f" stroke="#2a0505" stroke-width="0.9"/>
<rect x="107.0" y="302.4" width="5.9" height="13.6" fill="#8e3030" stroke="#2a0505" stroke-width="0.9"/>
<path d="M109.5 302.4V316.0M107.9 316.0h3.2" stroke="#2a0808" stroke-width="0.9" stroke-opacity="0.8"/>
<path d="M109.5 302.4V288.8M107.7 288.8h3.6" stroke="#000" stroke-width="1"/>
<rect x="118.2" y="278.2" width="5.9" height="87.8" fill="#0b0b6e" stroke="#04042a" stroke-width="0.7"/>
<rect x="124.2" y="247.0" width="5.9" height="119.0" fill="#d9534f" stroke="#2a0505" stroke-width="0.9"/>
<rect x="124.2" y="247.0" width="5.9" height="5.4" fill="#8e3030" stroke="#2a0505" stroke-width="0.9"/>
<path d="M127.5 247.0V252.5M125.9 252.5h3.2" stroke="#2a0808" stroke-width="0.9" stroke-opacity="0.8"/>
<path d="M127.5 247.0V241.6M125.7 241.6h3.6" stroke="#000" stroke-width="1"/>
<path d="M46.3 234.3V366H133.3" stroke="#151515" stroke-width="1.2" fill="none"/>
<text x="41.3" y="370.1" font-size="11.5" text-anchor="end" font-weight="normal" font-style="normal" fill="#333"  stroke="#333" stroke-width="0.22">0.0</text>
<text x="41.3" y="326.2" font-size="11.5" text-anchor="end" font-weight="normal" font-style="normal" fill="#333"  stroke="#333" stroke-width="0.22">0.5</text>
<text x="41.3" y="282.3" font-size="11.5" text-anchor="end" font-weight="normal" font-style="normal" fill="#333"  stroke="#333" stroke-width="0.22">1.0</text>
<text x="41.3" y="238.4" font-size="11.5" text-anchor="end" font-weight="normal" font-style="normal" fill="#333"  stroke="#333" stroke-width="0.22">1.5</text>
<path d="M43.3 366.0H46.3M43.3 322.1H46.3M43.3 278.2H46.3M43.3 234.3H46.3M55.5 366v2.8M72.5 366v2.8M89.5 366v2.8M106.5 366v2.8M124.5 366v2.8" stroke="#2a2a2a" stroke-width="1"/>
<text transform="translate(57.1 377.5) rotate(-45)" font-size="12.5" font-style="italic" text-anchor="end" fill="#1a1a1a" stroke="#1a1a1a" stroke-width="0.22">Ebf1</text>
<text transform="translate(74.4 377.5) rotate(-45)" font-size="12.5" font-style="italic" text-anchor="end" fill="#1a1a1a" stroke="#1a1a1a" stroke-width="0.22">Tcf3</text>
<text transform="translate(91.7 377.5) rotate(-45)" font-size="12.5" font-style="italic" text-anchor="end" fill="#1a1a1a" stroke="#1a1a1a" stroke-width="0.22">Pax5</text>
<text transform="translate(108.9 377.5) rotate(-45)" font-size="12.5" font-style="italic" text-anchor="end" fill="#1a1a1a" stroke="#1a1a1a" stroke-width="0.22">Ikzf3</text>
<text transform="translate(126.2 377.5) rotate(-45)" font-size="12.5" font-style="italic" text-anchor="end" fill="#1a1a1a" stroke="#1a1a1a" stroke-width="0.22">Runx1</text>
<text transform="translate(17.6 299.5) rotate(-90)" font-size="12.4" text-anchor="middle" fill="#1a1a1a" stroke="#1a1a1a" stroke-width="0.22">relative expression</text>
<text x="161.9" y="222.6" font-size="17" text-anchor="start" font-weight="bold" font-style="normal" fill="#000" >D</text>
<rect x="213" y="216.8" width="9" height="9" fill="#0b0b6e" stroke="#111" stroke-width="0.6"/>
<rect x="213" y="231.6" width="9" height="9" fill="#e01b1b" stroke="#111" stroke-width="0.6"/>
<text x="225.4" y="225.6" font-size="12.8" font-style="italic" fill="#1a1a1a" textLength="46.6" lengthAdjust="spacingAndGlyphs" stroke="#1a1a1a" stroke-width="0.22">Mef2c/d</text>
<text x="272.3" y="222.2" font-size="8.4" fill="#1a1a1a" textLength="11.5" lengthAdjust="spacingAndGlyphs" stroke="#1a1a1a" stroke-width="0.22">+/+</text>
<text x="225.4" y="240.1" font-size="12.8" font-style="italic" fill="#1a1a1a" textLength="46.6" lengthAdjust="spacingAndGlyphs" stroke="#1a1a1a" stroke-width="0.22">Mef2c/d</text>
<text x="272.3" y="236.7" font-size="8.4" fill="#1a1a1a" textLength="11.5" lengthAdjust="spacingAndGlyphs" stroke="#1a1a1a" stroke-width="0.22">Δ/Δ</text>
<path d="M202.5 257.7H502.7" stroke="#111" stroke-width="1" stroke-dasharray="1.5 1.5"/>
<rect x="205.3" y="257.7" width="5.8" height="108.6" fill="#0b0b6e" stroke="#04042a" stroke-width="0.7"/>
<rect x="213.1" y="325.6" width="5.8" height="40.7" fill="#e01b1b" stroke="#2a0505" stroke-width="0.9"/>
<rect x="213.1" y="325.6" width="5.8" height="7.1" fill="#7a1010" stroke="#2a0505" stroke-width="0.9"/>
<path d="M216.5 325.6V332.6M214.9 332.6h3.2" stroke="#2a0808" stroke-width="0.9" stroke-opacity="0.8"/>
<path d="M216.5 325.6V318.5M214.7 318.5h3.6" stroke="#000" stroke-width="1"/>
<rect x="225.4" y="257.7" width="5.8" height="108.6" fill="#0b0b6e" stroke="#04042a" stroke-width="0.7"/>
<rect x="233.2" y="335.9" width="5.8" height="30.4" fill="#e01b1b" stroke="#2a0505" stroke-width="0.9"/>
<rect x="233.2" y="335.9" width="5.8" height="3.3" fill="#7a1010" stroke="#2a0505" stroke-width="0.9"/>
<path d="M236.5 335.9V339.2M234.9 339.2h3.2" stroke="#2a0808" stroke-width="0.9" stroke-opacity="0.8"/>
<path d="M236.5 335.9V332.6M234.7 332.6h3.6" stroke="#000" stroke-width="1"/>
<rect x="245.6" y="257.7" width="5.8" height="108.6" fill="#0b0b6e" stroke="#04042a" stroke-width="0.7"/>
<rect x="253.4" y="339.2" width="5.8" height="27.1" fill="#e01b1b" stroke="#2a0505" stroke-width="0.9"/>
<rect x="253.4" y="339.2" width="5.8" height="2.2" fill="#7a1010" stroke="#2a0505" stroke-width="0.9"/>
<path d="M256.5 339.2V341.3M254.9 341.3h3.2" stroke="#2a0808" stroke-width="0.9" stroke-opacity="0.8"/>
<path d="M256.5 339.2V337.0M254.7 337.0h3.6" stroke="#000" stroke-width="1"/>
<rect x="265.7" y="257.7" width="5.8" height="108.6" fill="#0b0b6e" stroke="#04042a" stroke-width="0.7"/>
<rect x="273.5" y="326.1" width="5.8" height="40.2" fill="#e01b1b" stroke="#2a0505" stroke-width="0.9"/>
<rect x="273.5" y="326.1" width="5.8" height="4.3" fill="#7a1010" stroke="#2a0505" stroke-width="0.9"/>
<path d="M276.5 326.1V330.5M274.9 330.5h3.2" stroke="#2a0808" stroke-width="0.9" stroke-opacity="0.8"/>
<path d="M276.5 326.1V321.8M274.7 321.8h3.6" stroke="#000" stroke-width="1"/>
<rect x="285.9" y="257.7" width="5.8" height="108.6" fill="#0b0b6e" stroke="#04042a" stroke-width="0.7"/>
<rect x="293.7" y="363.6" width="5.8" height="2.7" fill="#e01b1b" stroke="#2a0505" stroke-width="0.9"/>
<rect x="293.7" y="363.6" width="5.8" height="2.7" fill="#7a1010" stroke="#2a0505" stroke-width="0.9"/>
<path d="M296.5 363.6V366.3M294.9 366.3h3.2" stroke="#2a0808" stroke-width="0.9" stroke-opacity="0.8"/>
<path d="M296.5 363.6V360.9M294.7 360.9h3.6" stroke="#000" stroke-width="1"/>
<rect x="306.0" y="257.7" width="5.8" height="108.6" fill="#0b0b6e" stroke="#04042a" stroke-width="0.7"/>
<rect x="313.8" y="356.0" width="5.8" height="10.3" fill="#e01b1b" stroke="#2a0505" stroke-width="0.9"/>
<rect x="313.8" y="356.0" width="5.8" height="2.7" fill="#7a1010" stroke="#2a0505" stroke-width="0.9"/>
<path d="M316.5 356.0V358.7M314.9 358.7h3.2" stroke="#2a0808" stroke-width="0.9" stroke-opacity="0.8"/>
<path d="M316.5 356.0V353.3M314.7 353.3h3.6" stroke="#000" stroke-width="1"/>
<rect x="326.1" y="257.7" width="5.8" height="108.6" fill="#0b0b6e" stroke="#04042a" stroke-width="0.7"/>
<rect x="333.9" y="331.5" width="5.8" height="34.8" fill="#e01b1b" stroke="#2a0505" stroke-width="0.9"/>
<rect x="333.9" y="331.5" width="5.8" height="4.9" fill="#7a1010" stroke="#2a0505" stroke-width="0.9"/>
<path d="M336.5 331.5V336.4M334.9 336.4h3.2" stroke="#2a0808" stroke-width="0.9" stroke-opacity="0.8"/>
<path d="M336.5 331.5V326.7M334.7 326.7h3.6" stroke="#000" stroke-width="1"/>
<rect x="346.3" y="257.7" width="5.8" height="108.6" fill="#0b0b6e" stroke="#04042a" stroke-width="0.7"/>
<rect x="354.1" y="322.9" width="5.8" height="43.4" fill="#e01b1b" stroke="#2a0505" stroke-width="0.9"/>
<rect x="354.1" y="322.9" width="5.8" height="23.9" fill="#7a1010" stroke="#2a0505" stroke-width="0.9"/>
<path d="M356.5 322.9V346.8M354.9 346.8h3.2" stroke="#2a0808" stroke-width="0.9" stroke-opacity="0.8"/>
<path d="M356.5 322.9V299.0M354.7 299.0h3.6" stroke="#000" stroke-width="1"/>
<rect x="366.4" y="257.7" width="5.8" height="108.6" fill="#0b0b6e" stroke="#04042a" stroke-width="0.7"/>
<rect x="374.2" y="334.8" width="5.8" height="31.5" fill="#e01b1b" stroke="#2a0505" stroke-width="0.9"/>
<rect x="374.2" y="334.8" width="5.8" height="11.9" fill="#7a1010" stroke="#2a0505" stroke-width="0.9"/>
<path d="M377.5 334.8V346.8M375.9 346.8h3.2" stroke="#2a0808" stroke-width="0.9" stroke-opacity="0.8"/>
<path d="M377.5 334.8V322.9M375.7 322.9h3.6" stroke="#000" stroke-width="1"/>
<rect x="386.6" y="257.7" width="5.8" height="108.6" fill="#0b0b6e" stroke="#04042a" stroke-width="0.7"/>
<rect x="394.4" y="347.8" width="5.8" height="18.5" fill="#e01b1b" stroke="#2a0505" stroke-width="0.9"/>
<rect x="394.4" y="347.8" width="5.8" height="7.6" fill="#7a1010" stroke="#2a0505" stroke-width="0.9"/>
<path d="M397.5 347.8V355.4M395.9 355.4h3.2" stroke="#2a0808" stroke-width="0.9" stroke-opacity="0.8"/>
<path d="M397.5 347.8V340.2M395.7 340.2h3.6" stroke="#000" stroke-width="1"/>
<rect x="406.7" y="257.7" width="5.8" height="108.6" fill="#0b0b6e" stroke="#04042a" stroke-width="0.7"/>
<rect x="414.5" y="364.1" width="5.8" height="2.2" fill="#e01b1b" stroke="#2a0505" stroke-width="0.9"/>
<rect x="414.5" y="364.1" width="5.8" height="1.1" fill="#7a1010" stroke="#2a0505" stroke-width="0.9"/>
<path d="M417.5 364.1V365.2M415.9 365.2h3.2" stroke="#2a0808" stroke-width="0.9" stroke-opacity="0.8"/>
<path d="M417.5 364.1V363.0M415.7 363.0h3.6" stroke="#000" stroke-width="1"/>
<rect x="426.8" y="257.7" width="5.8" height="108.6" fill="#0b0b6e" stroke="#04042a" stroke-width="0.7"/>
<rect x="434.6" y="365.9" width="5.8" height="0.4" fill="#e01b1b" stroke="#2a0505" stroke-width="0.9"/>
<rect x="447.0" y="257.7" width="5.8" height="108.6" fill="#0b0b6e" stroke="#04042a" stroke-width="0.7"/>
<rect x="454.8" y="355.4" width="5.8" height="10.9" fill="#e01b1b" stroke="#2a0505" stroke-width="0.9"/>
<rect x="454.8" y="355.4" width="5.8" height="5.4" fill="#7a1010" stroke="#2a0505" stroke-width="0.9"/>
<path d="M457.5 355.4V360.9M455.9 360.9h3.2" stroke="#2a0808" stroke-width="0.9" stroke-opacity="0.8"/>
<path d="M457.5 355.4V350.0M455.7 350.0h3.6" stroke="#000" stroke-width="1"/>
<rect x="467.1" y="257.7" width="5.8" height="108.6" fill="#0b0b6e" stroke="#04042a" stroke-width="0.7"/>
<rect x="474.9" y="345.7" width="5.8" height="20.6" fill="#e01b1b" stroke="#2a0505" stroke-width="0.9"/>
<rect x="474.9" y="345.7" width="5.8" height="3.3" fill="#7a1010" stroke="#2a0505" stroke-width="0.9"/>
<path d="M477.5 345.7V348.9M475.9 348.9h3.2" stroke="#2a0808" stroke-width="0.9" stroke-opacity="0.8"/>
<path d="M477.5 345.7V342.4M475.7 342.4h3.6" stroke="#000" stroke-width="1"/>
<rect x="487.3" y="257.7" width="5.8" height="108.6" fill="#0b0b6e" stroke="#04042a" stroke-width="0.7"/>
<rect x="495.1" y="353.3" width="5.8" height="13.0" fill="#e01b1b" stroke="#2a0505" stroke-width="0.9"/>
<rect x="495.1" y="353.3" width="5.8" height="4.9" fill="#7a1010" stroke="#2a0505" stroke-width="0.9"/>
<path d="M497.5 353.3V358.2M495.9 358.2h3.2" stroke="#2a0808" stroke-width="0.9" stroke-opacity="0.8"/>
<path d="M497.5 353.3V348.4M495.7 348.4h3.6" stroke="#000" stroke-width="1"/>
<path d="M202.5 236.0V366.3H502.7" stroke="#151515" stroke-width="1.2" fill="none"/>
<text x="196.5" y="370.3" font-size="11" text-anchor="end" font-weight="normal" font-style="normal" fill="#333"  stroke="#333" stroke-width="0.22">0.0</text>
<text x="196.5" y="348.5" font-size="11" text-anchor="end" font-weight="normal" font-style="normal" fill="#333"  stroke="#333" stroke-width="0.22">0.2</text>
<text x="196.5" y="326.8" font-size="11" text-anchor="end" font-weight="normal" font-style="normal" fill="#333"  stroke="#333" stroke-width="0.22">0.4</text>
<text x="196.5" y="305.1" font-size="11" text-anchor="end" font-weight="normal" font-style="normal" fill="#333"  stroke="#333" stroke-width="0.22">0.6</text>
<text x="196.5" y="283.4" font-size="11" text-anchor="end" font-weight="normal" font-style="normal" fill="#333"  stroke="#333" stroke-width="0.22">0.8</text>
<text x="196.5" y="261.7" font-size="11" text-anchor="end" font-weight="normal" font-style="normal" fill="#333"  stroke="#333" stroke-width="0.22">1.0</text>
<text x="196.5" y="239.9" font-size="11" text-anchor="end" font-weight="normal" font-style="normal" fill="#333"  stroke="#333" stroke-width="0.22">1.2</text>
<path d="M199.5 366.3H202.5M199.5 344.6H202.5M199.5 322.9H202.5M199.5 301.1H202.5M199.5 279.4H202.5M199.5 257.7H202.5M199.5 236.0H202.5M212.5 366.3v2.8M232.5 366.3v2.8M252.5 366.3v2.8M272.5 366.3v2.8M292.5 366.3v2.8M312.5 366.3v2.8M332.5 366.3v2.8M353.5 366.3v2.8M373.5 366.3v2.8M393.5 366.3v2.8M413.5 366.3v2.8M433.5 366.3v2.8M453.5 366.3v2.8M473.5 366.3v2.8M494.5 366.3v2.8" stroke="#2a2a2a" stroke-width="1"/>
<text transform="translate(214.9 378.8) rotate(-45)" font-size="12.3" font-style="italic" text-anchor="end" fill="#1a1a1a" stroke="#1a1a1a" stroke-width="0.22">Blk</text>
<text transform="translate(235.0 378.8) rotate(-45)" font-size="12.3" font-style="italic" text-anchor="end" fill="#1a1a1a" stroke="#1a1a1a" stroke-width="0.22">Syk</text>
<text transform="translate(255.2 378.8) rotate(-45)" font-size="12.3" font-style="italic" text-anchor="end" fill="#1a1a1a" stroke="#1a1a1a" stroke-width="0.22">Irf4</text>
<text transform="translate(275.3 378.8) rotate(-45)" font-size="12.3" font-style="italic" text-anchor="end" fill="#1a1a1a" stroke="#1a1a1a" stroke-width="0.22">Ikzf1</text>
<text transform="translate(295.5 378.8) rotate(-45)" font-size="12.3" font-style="italic" text-anchor="end" fill="#1a1a1a" stroke="#1a1a1a" stroke-width="0.22">Klf2</text>
<text transform="translate(315.6 378.8) rotate(-45)" font-size="12.3" font-style="italic" text-anchor="end" fill="#1a1a1a" stroke="#1a1a1a" stroke-width="0.22">Bach2</text>
<text transform="translate(335.7 378.8) rotate(-45)" font-size="12.3" font-style="italic" text-anchor="end" fill="#1a1a1a" stroke="#1a1a1a" stroke-width="0.22">Zfp36</text>
<text transform="translate(355.9 378.8) rotate(-45)" font-size="12.3" font-style="italic" text-anchor="end" fill="#1a1a1a" stroke="#1a1a1a" stroke-width="0.22">Jun</text>
<text transform="translate(376.0 378.8) rotate(-45)" font-size="12.3" font-style="italic" text-anchor="end" fill="#1a1a1a" stroke="#1a1a1a" stroke-width="0.22">Junb</text>
<text transform="translate(396.2 378.8) rotate(-45)" font-size="12.3" font-style="italic" text-anchor="end" fill="#1a1a1a" stroke="#1a1a1a" stroke-width="0.22">Jund</text>
<text transform="translate(416.3 378.8) rotate(-45)" font-size="12.3" font-style="italic" text-anchor="end" fill="#1a1a1a" stroke="#1a1a1a" stroke-width="0.22">Fos</text>
<text transform="translate(436.4 378.8) rotate(-45)" font-size="12.3" font-style="italic" text-anchor="end" fill="#1a1a1a" stroke="#1a1a1a" stroke-width="0.22">Fosb</text>
<text transform="translate(456.6 378.8) rotate(-45)" font-size="12.3" font-style="italic" text-anchor="end" fill="#1a1a1a" stroke="#1a1a1a" stroke-width="0.22">Egr2</text>
<text transform="translate(476.7 378.8) rotate(-45)" font-size="12.3" font-style="italic" text-anchor="end" fill="#1a1a1a" stroke="#1a1a1a" stroke-width="0.22">Hdac5</text>
<text transform="translate(496.9 378.8) rotate(-45)" font-size="12.3" font-style="italic" text-anchor="end" fill="#1a1a1a" stroke="#1a1a1a" stroke-width="0.22">Hdac9</text>
<text transform="translate(174.0 300) rotate(-90)" font-size="12.4" text-anchor="middle" fill="#1a1a1a" stroke="#1a1a1a" stroke-width="0.22">relative expression</text>
<text x="-0.1" y="421.6" font-size="17" text-anchor="start" font-weight="bold" font-style="normal" fill="#000" >E</text>
<rect x="52.6" y="419.0" width="8.9" height="8.9" fill="#0b0b6e" stroke="#111" stroke-width="0.6"/>
<rect x="52.6" y="433.3" width="8.9" height="8.9" fill="#d9534f" stroke="#111" stroke-width="0.6"/>
<text x="65" y="427.3" font-size="13" font-style="italic" fill="#1a1a1a" textLength="46.4" lengthAdjust="spacingAndGlyphs" stroke="#1a1a1a" stroke-width="0.22">Mef2c/d</text>
<text x="111.7" y="423.9" font-size="8.6" fill="#1a1a1a" textLength="12" lengthAdjust="spacingAndGlyphs" stroke="#1a1a1a" stroke-width="0.22">+/+</text>
<text x="65" y="441.5" font-size="13" font-style="italic" fill="#1a1a1a" textLength="46.4" lengthAdjust="spacingAndGlyphs" stroke="#1a1a1a" stroke-width="0.22">Mef2c/d</text>
<text x="111.7" y="438.1" font-size="8.6" fill="#1a1a1a" textLength="12" lengthAdjust="spacingAndGlyphs" stroke="#1a1a1a" stroke-width="0.22">Δ/Δ</text>
<path d="M41.9 468.9H152.5" stroke="#111" stroke-width="1" stroke-dasharray="1.5 1.5"/>
<rect x="45.2" y="468.9" width="5.8" height="92.1" fill="#0b0b6e" stroke="#04042a" stroke-width="0.7"/>
<path d="M48.5 468.9V449.1M46.7 449.1h3.6" stroke="#000" stroke-width="1"/>
<rect x="52.1" y="553.8" width="5.8" height="7.2" fill="#d9534f" stroke="#2a0505" stroke-width="0.9"/>
<rect x="52.1" y="553.8" width="5.8" height="3.2" fill="#a33c3c" stroke="#2a0505" stroke-width="0.9"/>
<path d="M54.5 553.8V557.0M52.9 557.0h3.2" stroke="#2a0808" stroke-width="0.9" stroke-opacity="0.8"/>
<path d="M54.5 553.8V550.6M52.7 550.6h3.6" stroke="#000" stroke-width="1"/>
<rect x="63.7" y="468.9" width="5.8" height="92.1" fill="#0b0b6e" stroke="#04042a" stroke-width="0.7"/>
<path d="M66.5 468.9V464.3M64.7 464.3h3.6" stroke="#000" stroke-width="1"/>
<rect x="70.6" y="543.0" width="5.8" height="18.0" fill="#d9534f" stroke="#2a0505" stroke-width="0.9"/>
<rect x="70.6" y="543.0" width="5.8" height="8.7" fill="#a33c3c" stroke="#2a0505" stroke-width="0.9"/>
<path d="M73.5 543.0V551.8M71.9 551.8h3.2" stroke="#2a0808" stroke-width="0.9" stroke-opacity="0.8"/>
<path d="M73.5 543.0V534.3M71.7 534.3h3.6" stroke="#000" stroke-width="1"/>
<rect x="82.2" y="468.9" width="5.8" height="92.1" fill="#0b0b6e" stroke="#04042a" stroke-width="0.7"/>
<path d="M85.5 468.9V466.1M83.7 466.1h3.6" stroke="#000" stroke-width="1"/>
<rect x="89.1" y="551.3" width="5.8" height="9.7" fill="#d9534f" stroke="#2a0505" stroke-width="0.9"/>
<rect x="89.1" y="551.3" width="5.8" height="3.2" fill="#a33c3c" stroke="#2a0505" stroke-width="0.9"/>
<path d="M92.5 551.3V554.6M90.9 554.6h3.2" stroke="#2a0808" stroke-width="0.9" stroke-opacity="0.8"/>
<path d="M92.5 551.3V548.1M90.7 548.1h3.6" stroke="#000" stroke-width="1"/>
<rect x="100.7" y="468.9" width="5.8" height="92.1" fill="#0b0b6e" stroke="#04042a" stroke-width="0.7"/>
<path d="M103.5 468.9V448.6M101.7 448.6h3.6" stroke="#000" stroke-width="1"/>
<rect x="107.6" y="549.3" width="5.8" height="11.7" fill="#d9534f" stroke="#2a0505" stroke-width="0.9"/>
<rect x="107.6" y="549.3" width="5.8" height="8.7" fill="#a33c3c" stroke="#2a0505" stroke-width="0.9"/>
<path d="M110.5 549.3V558.1M108.9 558.1h3.2" stroke="#2a0808" stroke-width="0.9" stroke-opacity="0.8"/>
<path d="M110.5 549.3V540.6M108.7 540.6h3.6" stroke="#000" stroke-width="1"/>
<rect x="119.2" y="468.9" width="5.8" height="92.1" fill="#0b0b6e" stroke="#04042a" stroke-width="0.7"/>
<path d="M122.5 468.9V465.2M120.7 465.2h3.6" stroke="#000" stroke-width="1"/>
<rect x="126.1" y="526.9" width="5.8" height="34.1" fill="#d9534f" stroke="#2a0505" stroke-width="0.9"/>
<rect x="126.1" y="526.9" width="5.8" height="7.4" fill="#a33c3c" stroke="#2a0505" stroke-width="0.9"/>
<path d="M128.5 526.9V534.3M126.9 534.3h3.2" stroke="#2a0808" stroke-width="0.9" stroke-opacity="0.8"/>
<path d="M128.5 526.9V519.6M126.7 519.6h3.6" stroke="#000" stroke-width="1"/>
<rect x="137.7" y="468.9" width="5.8" height="92.1" fill="#0b0b6e" stroke="#04042a" stroke-width="0.7"/>
<path d="M140.5 468.9V453.2M138.7 453.2h3.6" stroke="#000" stroke-width="1"/>
<rect x="144.6" y="544.4" width="5.8" height="16.6" fill="#d9534f" stroke="#2a0505" stroke-width="0.9"/>
<rect x="144.6" y="544.4" width="5.8" height="10.1" fill="#a33c3c" stroke="#2a0505" stroke-width="0.9"/>
<path d="M147.5 544.4V554.6M145.9 554.6h3.2" stroke="#2a0808" stroke-width="0.9" stroke-opacity="0.8"/>
<path d="M147.5 544.4V534.3M145.7 534.3h3.6" stroke="#000" stroke-width="1"/>
<path d="M41.9 422.9V561H152" stroke="#151515" stroke-width="1.2" fill="none"/>
<text x="36.4" y="565.1" font-size="11.5" text-anchor="end" font-weight="normal" font-style="normal" fill="#333"  stroke="#333" stroke-width="0.22">0.0</text>
<text x="36.4" y="519.1" font-size="11.5" text-anchor="end" font-weight="normal" font-style="normal" fill="#333"  stroke="#333" stroke-width="0.22">0.5</text>
<text x="36.4" y="473.0" font-size="11.5" text-anchor="end" font-weight="normal" font-style="normal" fill="#333"  stroke="#333" stroke-width="0.22">1.0</text>
<text x="36.4" y="427.0" font-size="11.5" text-anchor="end" font-weight="normal" font-style="normal" fill="#333"  stroke="#333" stroke-width="0.22">1.5</text>
<path d="M38.9 561.0H41.9M38.9 515.0H41.9M38.9 468.9H41.9M38.9 422.9H41.9M51.5 561v2.8M70.5 561v2.8M88.5 561v2.8M107.5 561v2.8M125.5 561v2.8M144.5 561v2.8" stroke="#2a2a2a" stroke-width="1"/>
<text transform="translate(54.3 574.0) rotate(-45)" font-size="12.5" font-style="italic" text-anchor="end" fill="#1a1a1a" stroke="#1a1a1a" stroke-width="0.22">Irf4</text>
<text transform="translate(72.8 574.0) rotate(-45)" font-size="12.5" font-style="italic" text-anchor="end" fill="#1a1a1a" stroke="#1a1a1a" stroke-width="0.22">Ikzf1</text>
<text transform="translate(91.3 574.0) rotate(-45)" font-size="12.5" font-style="italic" text-anchor="end" fill="#1a1a1a" stroke="#1a1a1a" stroke-width="0.22">Klf2</text>
<text transform="translate(109.8 574.0) rotate(-45)" font-size="12.5" font-style="italic" text-anchor="end" fill="#1a1a1a" stroke="#1a1a1a" stroke-width="0.22">Jun</text>
<text transform="translate(128.3 574.0) rotate(-45)" font-size="12.5" font-style="italic" text-anchor="end" fill="#1a1a1a" stroke="#1a1a1a" stroke-width="0.22">Hdac5</text>
<text transform="translate(146.9 574.0) rotate(-45)" font-size="12.5" font-style="italic" text-anchor="end" fill="#1a1a1a" stroke="#1a1a1a" stroke-width="0.22">Egr2</text>
<text transform="translate(9.8 490.5) rotate(-90)" font-size="12.9" text-anchor="middle" fill="#1a1a1a" stroke="#1a1a1a" stroke-width="0.22">relative expression</text>
<text x="180.6" y="421.8" font-size="17" text-anchor="start" font-weight="bold" font-style="normal" fill="#000" >F</text>
<text x="218.3" y="424" font-size="13" fill="#1a1a1a" stroke="#1a1a1a" stroke-width="0.22">M</text><text x="229.6" y="419.6" font-size="8.8" fill="#1a1a1a" textLength="11.5" lengthAdjust="spacingAndGlyphs" stroke="#1a1a1a" stroke-width="0.22">+/+</text>
<text x="247.1" y="424" font-size="13" fill="#1a1a1a" stroke="#1a1a1a" stroke-width="0.22">M</text><text x="258.4" y="419.6" font-size="8.8" fill="#1a1a1a" textLength="12.7" lengthAdjust="spacingAndGlyphs" stroke="#1a1a1a" stroke-width="0.22">Δ/Δ</text>
<defs><filter id="bl" x="-50%" y="-100%" width="200%" height="300%"><feGaussianBlur stdDeviation="0.9"/></filter><filter id="bl2" x="-50%" y="-100%" width="200%" height="300%"><feGaussianBlur stdDeviation="1.5"/></filter><linearGradient id="gbg" x1="0" y1="0" x2="0" y2="1"><stop offset="0" stop-color="#d2d2d2"/><stop offset="0.5" stop-color="#d8d8d8"/><stop offset="1" stop-color="#d3d3d3"/></linearGradient></defs>
<rect x="213.3" y="428.3" width="55.6" height="23.7" fill="url(#gbg)" stroke="#0a0a0a" stroke-width="1.4"/>
<text x="210.7" y="445.5" font-size="12.2" text-anchor="end" font-weight="normal" font-style="normal" fill="#1a1a1a"  stroke="#1a1a1a" stroke-width="0.22">Klf2</text>
<rect x="213.3" y="456.9" width="55.6" height="23.7" fill="url(#gbg)" stroke="#0a0a0a" stroke-width="1.4"/>
<text x="210.7" y="472.1" font-size="12.2" text-anchor="end" font-weight="normal" font-style="normal" fill="#1a1a1a"  stroke="#1a1a1a" stroke-width="0.22">Gapdh</text>
<rect x="213.3" y="488.7" width="55.6" height="24.0" fill="url(#gbg)" stroke="#0a0a0a" stroke-width="1.4"/>
<text x="210.7" y="504.2" font-size="12.2" text-anchor="end" font-weight="normal" font-style="normal" fill="#1a1a1a"  stroke="#1a1a1a" stroke-width="0.22">Jun</text>
<rect x="213.3" y="516.9" width="55.6" height="23.7" fill="url(#gbg)" stroke="#0a0a0a" stroke-width="1.4"/>
<text x="210.7" y="531.8" font-size="12.2" text-anchor="end" font-weight="normal" font-style="normal" fill="#1a1a1a"  stroke="#1a1a1a" stroke-width="0.22">Irf4</text>
<rect x="213.3" y="545.5" width="55.6" height="23.6" fill="url(#gbg)" stroke="#0a0a0a" stroke-width="1.4"/>
<text x="210.7" y="560.8" font-size="12.2" text-anchor="end" font-weight="normal" font-style="normal" fill="#1a1a1a"  stroke="#1a1a1a" stroke-width="0.22">Gapdh</text>
<path d="M220.5 436.90L238.5 438.00A2.70 2.70 0 0 1 238.5 443.40L220.5 444.50A3.80 3.80 0 0 1 220.5 436.90z" fill="#333" filter="url(#bl2)"/><ellipse cx="224" cy="440.5" rx="3.4" ry="3.0" fill="#000" filter="url(#bl2)"/><ellipse cx="235.3" cy="441" rx="2.2" ry="2.3" fill="#222" filter="url(#bl2)"/><path d="M246.5 438.30L262 438.50A2.30 2.30 0 0 1 262 443.10L246.5 443.30A2.50 2.50 0 0 1 246.5 438.30z" fill="#969696" filter="url(#bl2)"/><path d="M221.5 465.55L235.5 465.35A1.35 1.35 0 0 1 235.5 468.05L221.5 467.85A1.15 1.15 0 0 1 221.5 465.55z" fill="#1a1a1a" filter="url(#bl)"/><ellipse cx="234.3" cy="466.9" rx="1.8" ry="1.4" fill="#000" fill-opacity="0.6" filter="url(#bl)"/><path d="M246 466.50L262 466.20A1.90 1.90 0 0 1 262 470.00L246 469.70A1.60 1.60 0 0 1 246 466.50z" fill="#141414" filter="url(#bl)"/><ellipse cx="260.3" cy="468.4" rx="1.8" ry="1.8" fill="#000" fill-opacity="0.6" filter="url(#bl)"/><path d="M221.2 497.10L235 498.85A1.15 1.15 0 0 1 235 501.15L221.2 502.90A2.90 2.90 0 0 1 221.2 497.10z" fill="#050505" filter="url(#bl)"/><path d="M220.5 524.10L237 525.20A3.20 3.20 0 0 1 237 531.60L220.5 532.70A4.30 4.30 0 0 1 220.5 524.10z" fill="#5a5a5a" filter="url(#bl2)"/><ellipse cx="223" cy="527.8" rx="3.2" ry="4" fill="#000" filter="url(#bl2)"/><ellipse cx="221.5" cy="536" rx="1.6" ry="1.6" fill="#888" filter="url(#bl2)"/><path d="M247 527.00L262 527.00A2.00 2.00 0 0 1 262 531.00L247 531.00A2.00 2.00 0 0 1 247 527.00z" fill="#bcbcbc" filter="url(#bl2)"/><path d="M222.5 555.40L237.5 555.20A1.30 1.30 0 0 1 237.5 557.80L222.5 557.60A1.10 1.10 0 0 1 222.5 555.40z" fill="#151515" filter="url(#bl)"/><ellipse cx="235.6" cy="556.7" rx="2" ry="1.6" fill="#000" fill-opacity="0.6" filter="url(#bl)"/><path d="M246.5 556.85L262 556.50A1.40 1.40 0 0 1 262 559.30L246.5 558.95A1.05 1.05 0 0 1 246.5 556.85z" fill="#151515" filter="url(#bl)"/><ellipse cx="260.5" cy="558.4" rx="1.8" ry="1.8" fill="#000" fill-opacity="0.6" filter="url(#bl)"/>
</svg></body></html>
